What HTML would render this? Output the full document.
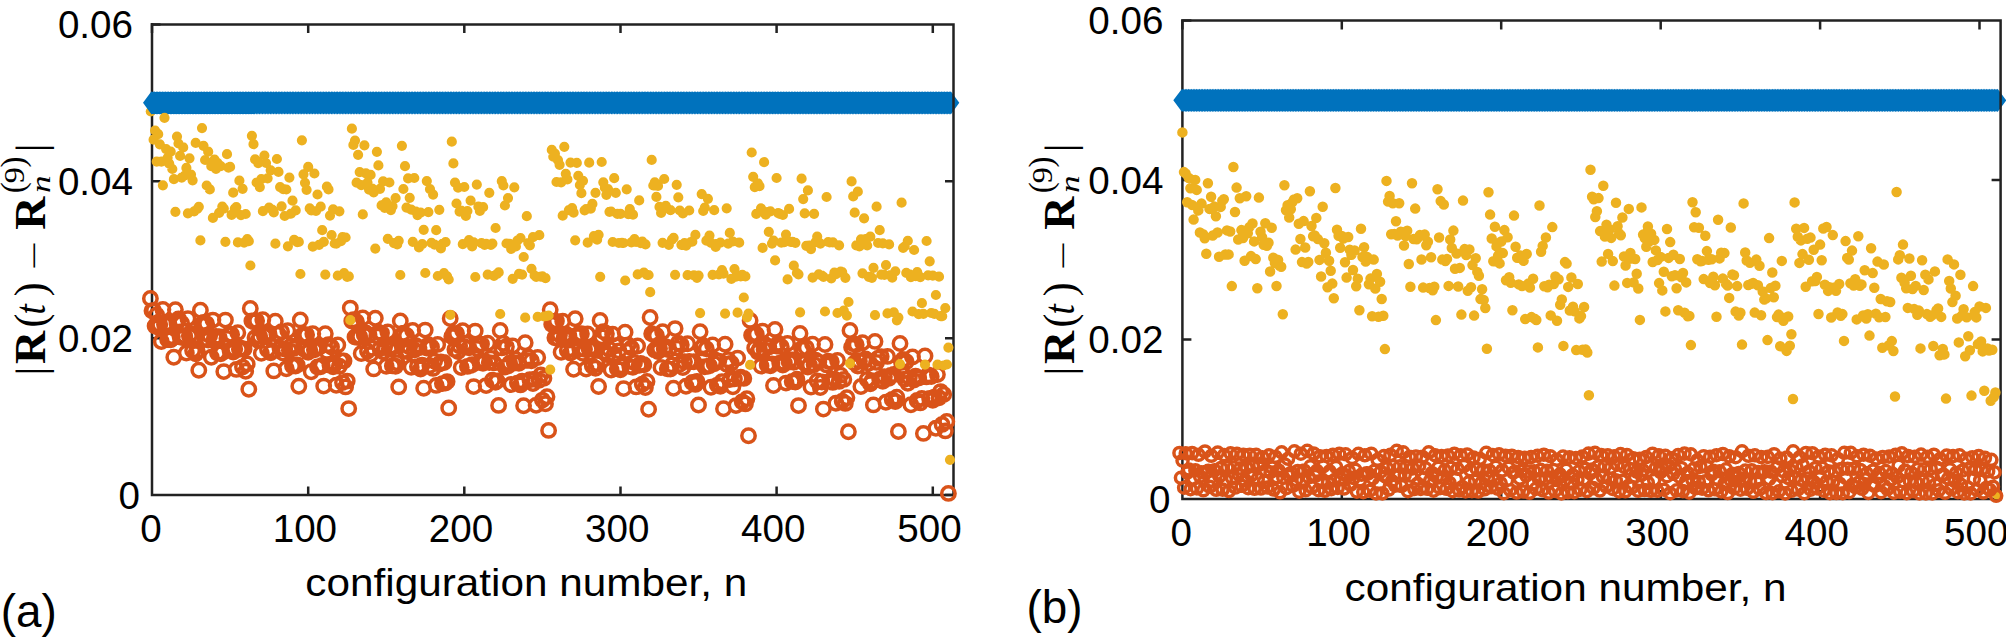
<!DOCTYPE html>
<html lang="en"><head><meta charset="utf-8"><title>Figure</title>
<style>html,body{margin:0;padding:0;background:#fff}svg{display:block}</style></head>
<body>
<svg width="2006" height="637" viewBox="0 0 2006 637"><rect width="2006" height="637" fill="#fff"/>
<path fill="none" stroke="#222222" stroke-width="2.5" d="M152 23.1V495.1H954.8M152 495.1v-8.5M308.2 495.1v-8.5M464.3 495.1v-8.5M620.5 495.1v-8.5M776.6 495.1v-8.5M932.8 495.1v-8.5M152 495.1h8.5M152 338.2h8.5M152 181.3h8.5M152 24.4h8.5"/>
<path fill="none" stroke="#EDB120" stroke-width="10.2" stroke-linecap="round" d="M150.8 111.5h0"/>
<path fill="#0072BD" d="M151.5 91.2l8.5 11.6l-8.5 11.6l-8.5 -11.6zM153.1 91.2l8.5 11.6l-8.5 11.6l-8.5 -11.6zM154.6 91.2l8.5 11.6l-8.5 11.6l-8.5 -11.6zM156.2 91.2l8.5 11.6l-8.5 11.6l-8.5 -11.6zM157.8 91.2l8.5 11.6l-8.5 11.6l-8.5 -11.6zM159.3 91.2l8.5 11.6l-8.5 11.6l-8.5 -11.6zM160.9 91.2l8.5 11.6l-8.5 11.6l-8.5 -11.6zM162.4 91.2l8.5 11.6l-8.5 11.6l-8.5 -11.6zM164 91.2l8.5 11.6l-8.5 11.6l-8.5 -11.6zM165.6 91.2l8.5 11.6l-8.5 11.6l-8.5 -11.6zM167.1 91.2l8.5 11.6l-8.5 11.6l-8.5 -11.6zM168.7 91.2l8.5 11.6l-8.5 11.6l-8.5 -11.6zM170.3 91.2l8.5 11.6l-8.5 11.6l-8.5 -11.6zM171.8 91.2l8.5 11.6l-8.5 11.6l-8.5 -11.6zM173.4 91.2l8.5 11.6l-8.5 11.6l-8.5 -11.6zM175 91.2l8.5 11.6l-8.5 11.6l-8.5 -11.6zM176.5 91.2l8.5 11.6l-8.5 11.6l-8.5 -11.6zM178.1 91.2l8.5 11.6l-8.5 11.6l-8.5 -11.6zM179.7 91.2l8.5 11.6l-8.5 11.6l-8.5 -11.6zM181.2 91.2l8.5 11.6l-8.5 11.6l-8.5 -11.6zM182.8 91.2l8.5 11.6l-8.5 11.6l-8.5 -11.6zM184.3 91.2l8.5 11.6l-8.5 11.6l-8.5 -11.6zM185.9 91.2l8.5 11.6l-8.5 11.6l-8.5 -11.6zM187.5 91.2l8.5 11.6l-8.5 11.6l-8.5 -11.6zM189 91.2l8.5 11.6l-8.5 11.6l-8.5 -11.6zM190.6 91.2l8.5 11.6l-8.5 11.6l-8.5 -11.6zM192.2 91.2l8.5 11.6l-8.5 11.6l-8.5 -11.6zM193.7 91.2l8.5 11.6l-8.5 11.6l-8.5 -11.6zM195.3 91.2l8.5 11.6l-8.5 11.6l-8.5 -11.6zM196.9 91.2l8.5 11.6l-8.5 11.6l-8.5 -11.6zM198.4 91.2l8.5 11.6l-8.5 11.6l-8.5 -11.6zM200 91.2l8.5 11.6l-8.5 11.6l-8.5 -11.6zM201.6 91.2l8.5 11.6l-8.5 11.6l-8.5 -11.6zM203.1 91.2l8.5 11.6l-8.5 11.6l-8.5 -11.6zM204.7 91.2l8.5 11.6l-8.5 11.6l-8.5 -11.6zM206.2 91.2l8.5 11.6l-8.5 11.6l-8.5 -11.6zM207.8 91.2l8.5 11.6l-8.5 11.6l-8.5 -11.6zM209.4 91.2l8.5 11.6l-8.5 11.6l-8.5 -11.6zM210.9 91.2l8.5 11.6l-8.5 11.6l-8.5 -11.6zM212.5 91.2l8.5 11.6l-8.5 11.6l-8.5 -11.6zM214.1 91.2l8.5 11.6l-8.5 11.6l-8.5 -11.6zM215.6 91.2l8.5 11.6l-8.5 11.6l-8.5 -11.6zM217.2 91.2l8.5 11.6l-8.5 11.6l-8.5 -11.6zM218.8 91.2l8.5 11.6l-8.5 11.6l-8.5 -11.6zM220.3 91.2l8.5 11.6l-8.5 11.6l-8.5 -11.6zM221.9 91.2l8.5 11.6l-8.5 11.6l-8.5 -11.6zM223.5 91.2l8.5 11.6l-8.5 11.6l-8.5 -11.6zM225 91.2l8.5 11.6l-8.5 11.6l-8.5 -11.6zM226.6 91.2l8.5 11.6l-8.5 11.6l-8.5 -11.6zM228.1 91.2l8.5 11.6l-8.5 11.6l-8.5 -11.6zM229.7 91.2l8.5 11.6l-8.5 11.6l-8.5 -11.6zM231.3 91.2l8.5 11.6l-8.5 11.6l-8.5 -11.6zM232.8 91.2l8.5 11.6l-8.5 11.6l-8.5 -11.6zM234.4 91.2l8.5 11.6l-8.5 11.6l-8.5 -11.6zM236 91.2l8.5 11.6l-8.5 11.6l-8.5 -11.6zM237.5 91.2l8.5 11.6l-8.5 11.6l-8.5 -11.6zM239.1 91.2l8.5 11.6l-8.5 11.6l-8.5 -11.6zM240.7 91.2l8.5 11.6l-8.5 11.6l-8.5 -11.6zM242.2 91.2l8.5 11.6l-8.5 11.6l-8.5 -11.6zM243.8 91.2l8.5 11.6l-8.5 11.6l-8.5 -11.6zM245.4 91.2l8.5 11.6l-8.5 11.6l-8.5 -11.6zM246.9 91.2l8.5 11.6l-8.5 11.6l-8.5 -11.6zM248.5 91.2l8.5 11.6l-8.5 11.6l-8.5 -11.6zM250 91.2l8.5 11.6l-8.5 11.6l-8.5 -11.6zM251.6 91.2l8.5 11.6l-8.5 11.6l-8.5 -11.6zM253.2 91.2l8.5 11.6l-8.5 11.6l-8.5 -11.6zM254.7 91.2l8.5 11.6l-8.5 11.6l-8.5 -11.6zM256.3 91.2l8.5 11.6l-8.5 11.6l-8.5 -11.6zM257.9 91.2l8.5 11.6l-8.5 11.6l-8.5 -11.6zM259.4 91.2l8.5 11.6l-8.5 11.6l-8.5 -11.6zM261 91.2l8.5 11.6l-8.5 11.6l-8.5 -11.6zM262.6 91.2l8.5 11.6l-8.5 11.6l-8.5 -11.6zM264.1 91.2l8.5 11.6l-8.5 11.6l-8.5 -11.6zM265.7 91.2l8.5 11.6l-8.5 11.6l-8.5 -11.6zM267.2 91.2l8.5 11.6l-8.5 11.6l-8.5 -11.6zM268.8 91.2l8.5 11.6l-8.5 11.6l-8.5 -11.6zM270.4 91.2l8.5 11.6l-8.5 11.6l-8.5 -11.6zM271.9 91.2l8.5 11.6l-8.5 11.6l-8.5 -11.6zM273.5 91.2l8.5 11.6l-8.5 11.6l-8.5 -11.6zM275.1 91.2l8.5 11.6l-8.5 11.6l-8.5 -11.6zM276.6 91.2l8.5 11.6l-8.5 11.6l-8.5 -11.6zM278.2 91.2l8.5 11.6l-8.5 11.6l-8.5 -11.6zM279.8 91.2l8.5 11.6l-8.5 11.6l-8.5 -11.6zM281.3 91.2l8.5 11.6l-8.5 11.6l-8.5 -11.6zM282.9 91.2l8.5 11.6l-8.5 11.6l-8.5 -11.6zM284.5 91.2l8.5 11.6l-8.5 11.6l-8.5 -11.6zM286 91.2l8.5 11.6l-8.5 11.6l-8.5 -11.6zM287.6 91.2l8.5 11.6l-8.5 11.6l-8.5 -11.6zM289.1 91.2l8.5 11.6l-8.5 11.6l-8.5 -11.6zM290.7 91.2l8.5 11.6l-8.5 11.6l-8.5 -11.6zM292.3 91.2l8.5 11.6l-8.5 11.6l-8.5 -11.6zM293.8 91.2l8.5 11.6l-8.5 11.6l-8.5 -11.6zM295.4 91.2l8.5 11.6l-8.5 11.6l-8.5 -11.6zM297 91.2l8.5 11.6l-8.5 11.6l-8.5 -11.6zM298.5 91.2l8.5 11.6l-8.5 11.6l-8.5 -11.6zM300.1 91.2l8.5 11.6l-8.5 11.6l-8.5 -11.6zM301.7 91.2l8.5 11.6l-8.5 11.6l-8.5 -11.6zM303.2 91.2l8.5 11.6l-8.5 11.6l-8.5 -11.6zM304.8 91.2l8.5 11.6l-8.5 11.6l-8.5 -11.6zM306.4 91.2l8.5 11.6l-8.5 11.6l-8.5 -11.6zM307.9 91.2l8.5 11.6l-8.5 11.6l-8.5 -11.6zM309.5 91.2l8.5 11.6l-8.5 11.6l-8.5 -11.6zM311 91.2l8.5 11.6l-8.5 11.6l-8.5 -11.6zM312.6 91.2l8.5 11.6l-8.5 11.6l-8.5 -11.6zM314.2 91.2l8.5 11.6l-8.5 11.6l-8.5 -11.6zM315.7 91.2l8.5 11.6l-8.5 11.6l-8.5 -11.6zM317.3 91.2l8.5 11.6l-8.5 11.6l-8.5 -11.6zM318.9 91.2l8.5 11.6l-8.5 11.6l-8.5 -11.6zM320.4 91.2l8.5 11.6l-8.5 11.6l-8.5 -11.6zM322 91.2l8.5 11.6l-8.5 11.6l-8.5 -11.6zM323.6 91.2l8.5 11.6l-8.5 11.6l-8.5 -11.6zM325.1 91.2l8.5 11.6l-8.5 11.6l-8.5 -11.6zM326.7 91.2l8.5 11.6l-8.5 11.6l-8.5 -11.6zM328.3 91.2l8.5 11.6l-8.5 11.6l-8.5 -11.6zM329.8 91.2l8.5 11.6l-8.5 11.6l-8.5 -11.6zM331.4 91.2l8.5 11.6l-8.5 11.6l-8.5 -11.6zM332.9 91.2l8.5 11.6l-8.5 11.6l-8.5 -11.6zM334.5 91.2l8.5 11.6l-8.5 11.6l-8.5 -11.6zM336.1 91.2l8.5 11.6l-8.5 11.6l-8.5 -11.6zM337.6 91.2l8.5 11.6l-8.5 11.6l-8.5 -11.6zM339.2 91.2l8.5 11.6l-8.5 11.6l-8.5 -11.6zM340.8 91.2l8.5 11.6l-8.5 11.6l-8.5 -11.6zM342.3 91.2l8.5 11.6l-8.5 11.6l-8.5 -11.6zM343.9 91.2l8.5 11.6l-8.5 11.6l-8.5 -11.6zM345.5 91.2l8.5 11.6l-8.5 11.6l-8.5 -11.6zM347 91.2l8.5 11.6l-8.5 11.6l-8.5 -11.6zM348.6 91.2l8.5 11.6l-8.5 11.6l-8.5 -11.6zM350.2 91.2l8.5 11.6l-8.5 11.6l-8.5 -11.6zM351.7 91.2l8.5 11.6l-8.5 11.6l-8.5 -11.6zM353.3 91.2l8.5 11.6l-8.5 11.6l-8.5 -11.6zM354.8 91.2l8.5 11.6l-8.5 11.6l-8.5 -11.6zM356.4 91.2l8.5 11.6l-8.5 11.6l-8.5 -11.6zM358 91.2l8.5 11.6l-8.5 11.6l-8.5 -11.6zM359.5 91.2l8.5 11.6l-8.5 11.6l-8.5 -11.6zM361.1 91.2l8.5 11.6l-8.5 11.6l-8.5 -11.6zM362.7 91.2l8.5 11.6l-8.5 11.6l-8.5 -11.6zM364.2 91.2l8.5 11.6l-8.5 11.6l-8.5 -11.6zM365.8 91.2l8.5 11.6l-8.5 11.6l-8.5 -11.6zM367.4 91.2l8.5 11.6l-8.5 11.6l-8.5 -11.6zM368.9 91.2l8.5 11.6l-8.5 11.6l-8.5 -11.6zM370.5 91.2l8.5 11.6l-8.5 11.6l-8.5 -11.6zM372.1 91.2l8.5 11.6l-8.5 11.6l-8.5 -11.6zM373.6 91.2l8.5 11.6l-8.5 11.6l-8.5 -11.6zM375.2 91.2l8.5 11.6l-8.5 11.6l-8.5 -11.6zM376.7 91.2l8.5 11.6l-8.5 11.6l-8.5 -11.6zM378.3 91.2l8.5 11.6l-8.5 11.6l-8.5 -11.6zM379.9 91.2l8.5 11.6l-8.5 11.6l-8.5 -11.6zM381.4 91.2l8.5 11.6l-8.5 11.6l-8.5 -11.6zM383 91.2l8.5 11.6l-8.5 11.6l-8.5 -11.6zM384.6 91.2l8.5 11.6l-8.5 11.6l-8.5 -11.6zM386.1 91.2l8.5 11.6l-8.5 11.6l-8.5 -11.6zM387.7 91.2l8.5 11.6l-8.5 11.6l-8.5 -11.6zM389.3 91.2l8.5 11.6l-8.5 11.6l-8.5 -11.6zM390.8 91.2l8.5 11.6l-8.5 11.6l-8.5 -11.6zM392.4 91.2l8.5 11.6l-8.5 11.6l-8.5 -11.6zM393.9 91.2l8.5 11.6l-8.5 11.6l-8.5 -11.6zM395.5 91.2l8.5 11.6l-8.5 11.6l-8.5 -11.6zM397.1 91.2l8.5 11.6l-8.5 11.6l-8.5 -11.6zM398.6 91.2l8.5 11.6l-8.5 11.6l-8.5 -11.6zM400.2 91.2l8.5 11.6l-8.5 11.6l-8.5 -11.6zM401.8 91.2l8.5 11.6l-8.5 11.6l-8.5 -11.6zM403.3 91.2l8.5 11.6l-8.5 11.6l-8.5 -11.6zM404.9 91.2l8.5 11.6l-8.5 11.6l-8.5 -11.6zM406.5 91.2l8.5 11.6l-8.5 11.6l-8.5 -11.6zM408 91.2l8.5 11.6l-8.5 11.6l-8.5 -11.6zM409.6 91.2l8.5 11.6l-8.5 11.6l-8.5 -11.6zM411.2 91.2l8.5 11.6l-8.5 11.6l-8.5 -11.6zM412.7 91.2l8.5 11.6l-8.5 11.6l-8.5 -11.6zM414.3 91.2l8.5 11.6l-8.5 11.6l-8.5 -11.6zM415.8 91.2l8.5 11.6l-8.5 11.6l-8.5 -11.6zM417.4 91.2l8.5 11.6l-8.5 11.6l-8.5 -11.6zM419 91.2l8.5 11.6l-8.5 11.6l-8.5 -11.6zM420.5 91.2l8.5 11.6l-8.5 11.6l-8.5 -11.6zM422.1 91.2l8.5 11.6l-8.5 11.6l-8.5 -11.6zM423.7 91.2l8.5 11.6l-8.5 11.6l-8.5 -11.6zM425.2 91.2l8.5 11.6l-8.5 11.6l-8.5 -11.6zM426.8 91.2l8.5 11.6l-8.5 11.6l-8.5 -11.6zM428.4 91.2l8.5 11.6l-8.5 11.6l-8.5 -11.6zM429.9 91.2l8.5 11.6l-8.5 11.6l-8.5 -11.6zM431.5 91.2l8.5 11.6l-8.5 11.6l-8.5 -11.6zM433.1 91.2l8.5 11.6l-8.5 11.6l-8.5 -11.6zM434.6 91.2l8.5 11.6l-8.5 11.6l-8.5 -11.6zM436.2 91.2l8.5 11.6l-8.5 11.6l-8.5 -11.6zM437.7 91.2l8.5 11.6l-8.5 11.6l-8.5 -11.6zM439.3 91.2l8.5 11.6l-8.5 11.6l-8.5 -11.6zM440.9 91.2l8.5 11.6l-8.5 11.6l-8.5 -11.6zM442.4 91.2l8.5 11.6l-8.5 11.6l-8.5 -11.6zM444 91.2l8.5 11.6l-8.5 11.6l-8.5 -11.6zM445.6 91.2l8.5 11.6l-8.5 11.6l-8.5 -11.6zM447.1 91.2l8.5 11.6l-8.5 11.6l-8.5 -11.6zM448.7 91.2l8.5 11.6l-8.5 11.6l-8.5 -11.6zM450.3 91.2l8.5 11.6l-8.5 11.6l-8.5 -11.6zM451.8 91.2l8.5 11.6l-8.5 11.6l-8.5 -11.6zM453.4 91.2l8.5 11.6l-8.5 11.6l-8.5 -11.6zM455 91.2l8.5 11.6l-8.5 11.6l-8.5 -11.6zM456.5 91.2l8.5 11.6l-8.5 11.6l-8.5 -11.6zM458.1 91.2l8.5 11.6l-8.5 11.6l-8.5 -11.6zM459.6 91.2l8.5 11.6l-8.5 11.6l-8.5 -11.6zM461.2 91.2l8.5 11.6l-8.5 11.6l-8.5 -11.6zM462.8 91.2l8.5 11.6l-8.5 11.6l-8.5 -11.6zM464.3 91.2l8.5 11.6l-8.5 11.6l-8.5 -11.6zM465.9 91.2l8.5 11.6l-8.5 11.6l-8.5 -11.6zM467.5 91.2l8.5 11.6l-8.5 11.6l-8.5 -11.6zM469 91.2l8.5 11.6l-8.5 11.6l-8.5 -11.6zM470.6 91.2l8.5 11.6l-8.5 11.6l-8.5 -11.6zM472.2 91.2l8.5 11.6l-8.5 11.6l-8.5 -11.6zM473.7 91.2l8.5 11.6l-8.5 11.6l-8.5 -11.6zM475.3 91.2l8.5 11.6l-8.5 11.6l-8.5 -11.6zM476.9 91.2l8.5 11.6l-8.5 11.6l-8.5 -11.6zM478.4 91.2l8.5 11.6l-8.5 11.6l-8.5 -11.6zM480 91.2l8.5 11.6l-8.5 11.6l-8.5 -11.6zM481.5 91.2l8.5 11.6l-8.5 11.6l-8.5 -11.6zM483.1 91.2l8.5 11.6l-8.5 11.6l-8.5 -11.6zM484.7 91.2l8.5 11.6l-8.5 11.6l-8.5 -11.6zM486.2 91.2l8.5 11.6l-8.5 11.6l-8.5 -11.6zM487.8 91.2l8.5 11.6l-8.5 11.6l-8.5 -11.6zM489.4 91.2l8.5 11.6l-8.5 11.6l-8.5 -11.6zM490.9 91.2l8.5 11.6l-8.5 11.6l-8.5 -11.6zM492.5 91.2l8.5 11.6l-8.5 11.6l-8.5 -11.6zM494.1 91.2l8.5 11.6l-8.5 11.6l-8.5 -11.6zM495.6 91.2l8.5 11.6l-8.5 11.6l-8.5 -11.6zM497.2 91.2l8.5 11.6l-8.5 11.6l-8.5 -11.6zM498.7 91.2l8.5 11.6l-8.5 11.6l-8.5 -11.6zM500.3 91.2l8.5 11.6l-8.5 11.6l-8.5 -11.6zM501.9 91.2l8.5 11.6l-8.5 11.6l-8.5 -11.6zM503.4 91.2l8.5 11.6l-8.5 11.6l-8.5 -11.6zM505 91.2l8.5 11.6l-8.5 11.6l-8.5 -11.6zM506.6 91.2l8.5 11.6l-8.5 11.6l-8.5 -11.6zM508.1 91.2l8.5 11.6l-8.5 11.6l-8.5 -11.6zM509.7 91.2l8.5 11.6l-8.5 11.6l-8.5 -11.6zM511.3 91.2l8.5 11.6l-8.5 11.6l-8.5 -11.6zM512.8 91.2l8.5 11.6l-8.5 11.6l-8.5 -11.6zM514.4 91.2l8.5 11.6l-8.5 11.6l-8.5 -11.6zM516 91.2l8.5 11.6l-8.5 11.6l-8.5 -11.6zM517.5 91.2l8.5 11.6l-8.5 11.6l-8.5 -11.6zM519.1 91.2l8.5 11.6l-8.5 11.6l-8.5 -11.6zM520.6 91.2l8.5 11.6l-8.5 11.6l-8.5 -11.6zM522.2 91.2l8.5 11.6l-8.5 11.6l-8.5 -11.6zM523.8 91.2l8.5 11.6l-8.5 11.6l-8.5 -11.6zM525.3 91.2l8.5 11.6l-8.5 11.6l-8.5 -11.6zM526.9 91.2l8.5 11.6l-8.5 11.6l-8.5 -11.6zM528.5 91.2l8.5 11.6l-8.5 11.6l-8.5 -11.6zM530 91.2l8.5 11.6l-8.5 11.6l-8.5 -11.6zM531.6 91.2l8.5 11.6l-8.5 11.6l-8.5 -11.6zM533.2 91.2l8.5 11.6l-8.5 11.6l-8.5 -11.6zM534.7 91.2l8.5 11.6l-8.5 11.6l-8.5 -11.6zM536.3 91.2l8.5 11.6l-8.5 11.6l-8.5 -11.6zM537.9 91.2l8.5 11.6l-8.5 11.6l-8.5 -11.6zM539.4 91.2l8.5 11.6l-8.5 11.6l-8.5 -11.6zM541 91.2l8.5 11.6l-8.5 11.6l-8.5 -11.6zM542.5 91.2l8.5 11.6l-8.5 11.6l-8.5 -11.6zM544.1 91.2l8.5 11.6l-8.5 11.6l-8.5 -11.6zM545.7 91.2l8.5 11.6l-8.5 11.6l-8.5 -11.6zM547.2 91.2l8.5 11.6l-8.5 11.6l-8.5 -11.6zM548.8 91.2l8.5 11.6l-8.5 11.6l-8.5 -11.6zM550.4 91.2l8.5 11.6l-8.5 11.6l-8.5 -11.6zM551.9 91.2l8.5 11.6l-8.5 11.6l-8.5 -11.6zM553.5 91.2l8.5 11.6l-8.5 11.6l-8.5 -11.6zM555.1 91.2l8.5 11.6l-8.5 11.6l-8.5 -11.6zM556.6 91.2l8.5 11.6l-8.5 11.6l-8.5 -11.6zM558.2 91.2l8.5 11.6l-8.5 11.6l-8.5 -11.6zM559.8 91.2l8.5 11.6l-8.5 11.6l-8.5 -11.6zM561.3 91.2l8.5 11.6l-8.5 11.6l-8.5 -11.6zM562.9 91.2l8.5 11.6l-8.5 11.6l-8.5 -11.6zM564.4 91.2l8.5 11.6l-8.5 11.6l-8.5 -11.6zM566 91.2l8.5 11.6l-8.5 11.6l-8.5 -11.6zM567.6 91.2l8.5 11.6l-8.5 11.6l-8.5 -11.6zM569.1 91.2l8.5 11.6l-8.5 11.6l-8.5 -11.6zM570.7 91.2l8.5 11.6l-8.5 11.6l-8.5 -11.6zM572.3 91.2l8.5 11.6l-8.5 11.6l-8.5 -11.6zM573.8 91.2l8.5 11.6l-8.5 11.6l-8.5 -11.6zM575.4 91.2l8.5 11.6l-8.5 11.6l-8.5 -11.6zM577 91.2l8.5 11.6l-8.5 11.6l-8.5 -11.6zM578.5 91.2l8.5 11.6l-8.5 11.6l-8.5 -11.6zM580.1 91.2l8.5 11.6l-8.5 11.6l-8.5 -11.6zM581.7 91.2l8.5 11.6l-8.5 11.6l-8.5 -11.6zM583.2 91.2l8.5 11.6l-8.5 11.6l-8.5 -11.6zM584.8 91.2l8.5 11.6l-8.5 11.6l-8.5 -11.6zM586.3 91.2l8.5 11.6l-8.5 11.6l-8.5 -11.6zM587.9 91.2l8.5 11.6l-8.5 11.6l-8.5 -11.6zM589.5 91.2l8.5 11.6l-8.5 11.6l-8.5 -11.6zM591 91.2l8.5 11.6l-8.5 11.6l-8.5 -11.6zM592.6 91.2l8.5 11.6l-8.5 11.6l-8.5 -11.6zM594.2 91.2l8.5 11.6l-8.5 11.6l-8.5 -11.6zM595.7 91.2l8.5 11.6l-8.5 11.6l-8.5 -11.6zM597.3 91.2l8.5 11.6l-8.5 11.6l-8.5 -11.6zM598.9 91.2l8.5 11.6l-8.5 11.6l-8.5 -11.6zM600.4 91.2l8.5 11.6l-8.5 11.6l-8.5 -11.6zM602 91.2l8.5 11.6l-8.5 11.6l-8.5 -11.6zM603.6 91.2l8.5 11.6l-8.5 11.6l-8.5 -11.6zM605.1 91.2l8.5 11.6l-8.5 11.6l-8.5 -11.6zM606.7 91.2l8.5 11.6l-8.5 11.6l-8.5 -11.6zM608.2 91.2l8.5 11.6l-8.5 11.6l-8.5 -11.6zM609.8 91.2l8.5 11.6l-8.5 11.6l-8.5 -11.6zM611.4 91.2l8.5 11.6l-8.5 11.6l-8.5 -11.6zM612.9 91.2l8.5 11.6l-8.5 11.6l-8.5 -11.6zM614.5 91.2l8.5 11.6l-8.5 11.6l-8.5 -11.6zM616.1 91.2l8.5 11.6l-8.5 11.6l-8.5 -11.6zM617.6 91.2l8.5 11.6l-8.5 11.6l-8.5 -11.6zM619.2 91.2l8.5 11.6l-8.5 11.6l-8.5 -11.6zM620.8 91.2l8.5 11.6l-8.5 11.6l-8.5 -11.6zM622.3 91.2l8.5 11.6l-8.5 11.6l-8.5 -11.6zM623.9 91.2l8.5 11.6l-8.5 11.6l-8.5 -11.6zM625.4 91.2l8.5 11.6l-8.5 11.6l-8.5 -11.6zM627 91.2l8.5 11.6l-8.5 11.6l-8.5 -11.6zM628.6 91.2l8.5 11.6l-8.5 11.6l-8.5 -11.6zM630.1 91.2l8.5 11.6l-8.5 11.6l-8.5 -11.6zM631.7 91.2l8.5 11.6l-8.5 11.6l-8.5 -11.6zM633.3 91.2l8.5 11.6l-8.5 11.6l-8.5 -11.6zM634.8 91.2l8.5 11.6l-8.5 11.6l-8.5 -11.6zM636.4 91.2l8.5 11.6l-8.5 11.6l-8.5 -11.6zM638 91.2l8.5 11.6l-8.5 11.6l-8.5 -11.6zM639.5 91.2l8.5 11.6l-8.5 11.6l-8.5 -11.6zM641.1 91.2l8.5 11.6l-8.5 11.6l-8.5 -11.6zM642.7 91.2l8.5 11.6l-8.5 11.6l-8.5 -11.6zM644.2 91.2l8.5 11.6l-8.5 11.6l-8.5 -11.6zM645.8 91.2l8.5 11.6l-8.5 11.6l-8.5 -11.6zM647.3 91.2l8.5 11.6l-8.5 11.6l-8.5 -11.6zM648.9 91.2l8.5 11.6l-8.5 11.6l-8.5 -11.6zM650.5 91.2l8.5 11.6l-8.5 11.6l-8.5 -11.6zM652 91.2l8.5 11.6l-8.5 11.6l-8.5 -11.6zM653.6 91.2l8.5 11.6l-8.5 11.6l-8.5 -11.6zM655.2 91.2l8.5 11.6l-8.5 11.6l-8.5 -11.6zM656.7 91.2l8.5 11.6l-8.5 11.6l-8.5 -11.6zM658.3 91.2l8.5 11.6l-8.5 11.6l-8.5 -11.6zM659.9 91.2l8.5 11.6l-8.5 11.6l-8.5 -11.6zM661.4 91.2l8.5 11.6l-8.5 11.6l-8.5 -11.6zM663 91.2l8.5 11.6l-8.5 11.6l-8.5 -11.6zM664.6 91.2l8.5 11.6l-8.5 11.6l-8.5 -11.6zM666.1 91.2l8.5 11.6l-8.5 11.6l-8.5 -11.6zM667.7 91.2l8.5 11.6l-8.5 11.6l-8.5 -11.6zM669.2 91.2l8.5 11.6l-8.5 11.6l-8.5 -11.6zM670.8 91.2l8.5 11.6l-8.5 11.6l-8.5 -11.6zM672.4 91.2l8.5 11.6l-8.5 11.6l-8.5 -11.6zM673.9 91.2l8.5 11.6l-8.5 11.6l-8.5 -11.6zM675.5 91.2l8.5 11.6l-8.5 11.6l-8.5 -11.6zM677.1 91.2l8.5 11.6l-8.5 11.6l-8.5 -11.6zM678.6 91.2l8.5 11.6l-8.5 11.6l-8.5 -11.6zM680.2 91.2l8.5 11.6l-8.5 11.6l-8.5 -11.6zM681.8 91.2l8.5 11.6l-8.5 11.6l-8.5 -11.6zM683.3 91.2l8.5 11.6l-8.5 11.6l-8.5 -11.6zM684.9 91.2l8.5 11.6l-8.5 11.6l-8.5 -11.6zM686.5 91.2l8.5 11.6l-8.5 11.6l-8.5 -11.6zM688 91.2l8.5 11.6l-8.5 11.6l-8.5 -11.6zM689.6 91.2l8.5 11.6l-8.5 11.6l-8.5 -11.6zM691.1 91.2l8.5 11.6l-8.5 11.6l-8.5 -11.6zM692.7 91.2l8.5 11.6l-8.5 11.6l-8.5 -11.6zM694.3 91.2l8.5 11.6l-8.5 11.6l-8.5 -11.6zM695.8 91.2l8.5 11.6l-8.5 11.6l-8.5 -11.6zM697.4 91.2l8.5 11.6l-8.5 11.6l-8.5 -11.6zM699 91.2l8.5 11.6l-8.5 11.6l-8.5 -11.6zM700.5 91.2l8.5 11.6l-8.5 11.6l-8.5 -11.6zM702.1 91.2l8.5 11.6l-8.5 11.6l-8.5 -11.6zM703.7 91.2l8.5 11.6l-8.5 11.6l-8.5 -11.6zM705.2 91.2l8.5 11.6l-8.5 11.6l-8.5 -11.6zM706.8 91.2l8.5 11.6l-8.5 11.6l-8.5 -11.6zM708.4 91.2l8.5 11.6l-8.5 11.6l-8.5 -11.6zM709.9 91.2l8.5 11.6l-8.5 11.6l-8.5 -11.6zM711.5 91.2l8.5 11.6l-8.5 11.6l-8.5 -11.6zM713 91.2l8.5 11.6l-8.5 11.6l-8.5 -11.6zM714.6 91.2l8.5 11.6l-8.5 11.6l-8.5 -11.6zM716.2 91.2l8.5 11.6l-8.5 11.6l-8.5 -11.6zM717.7 91.2l8.5 11.6l-8.5 11.6l-8.5 -11.6zM719.3 91.2l8.5 11.6l-8.5 11.6l-8.5 -11.6zM720.9 91.2l8.5 11.6l-8.5 11.6l-8.5 -11.6zM722.4 91.2l8.5 11.6l-8.5 11.6l-8.5 -11.6zM724 91.2l8.5 11.6l-8.5 11.6l-8.5 -11.6zM725.6 91.2l8.5 11.6l-8.5 11.6l-8.5 -11.6zM727.1 91.2l8.5 11.6l-8.5 11.6l-8.5 -11.6zM728.7 91.2l8.5 11.6l-8.5 11.6l-8.5 -11.6zM730.2 91.2l8.5 11.6l-8.5 11.6l-8.5 -11.6zM731.8 91.2l8.5 11.6l-8.5 11.6l-8.5 -11.6zM733.4 91.2l8.5 11.6l-8.5 11.6l-8.5 -11.6zM734.9 91.2l8.5 11.6l-8.5 11.6l-8.5 -11.6zM736.5 91.2l8.5 11.6l-8.5 11.6l-8.5 -11.6zM738.1 91.2l8.5 11.6l-8.5 11.6l-8.5 -11.6zM739.6 91.2l8.5 11.6l-8.5 11.6l-8.5 -11.6zM741.2 91.2l8.5 11.6l-8.5 11.6l-8.5 -11.6zM742.8 91.2l8.5 11.6l-8.5 11.6l-8.5 -11.6zM744.3 91.2l8.5 11.6l-8.5 11.6l-8.5 -11.6zM745.9 91.2l8.5 11.6l-8.5 11.6l-8.5 -11.6zM747.5 91.2l8.5 11.6l-8.5 11.6l-8.5 -11.6zM749 91.2l8.5 11.6l-8.5 11.6l-8.5 -11.6zM750.6 91.2l8.5 11.6l-8.5 11.6l-8.5 -11.6zM752.1 91.2l8.5 11.6l-8.5 11.6l-8.5 -11.6zM753.7 91.2l8.5 11.6l-8.5 11.6l-8.5 -11.6zM755.3 91.2l8.5 11.6l-8.5 11.6l-8.5 -11.6zM756.8 91.2l8.5 11.6l-8.5 11.6l-8.5 -11.6zM758.4 91.2l8.5 11.6l-8.5 11.6l-8.5 -11.6zM760 91.2l8.5 11.6l-8.5 11.6l-8.5 -11.6zM761.5 91.2l8.5 11.6l-8.5 11.6l-8.5 -11.6zM763.1 91.2l8.5 11.6l-8.5 11.6l-8.5 -11.6zM764.7 91.2l8.5 11.6l-8.5 11.6l-8.5 -11.6zM766.2 91.2l8.5 11.6l-8.5 11.6l-8.5 -11.6zM767.8 91.2l8.5 11.6l-8.5 11.6l-8.5 -11.6zM769.4 91.2l8.5 11.6l-8.5 11.6l-8.5 -11.6zM770.9 91.2l8.5 11.6l-8.5 11.6l-8.5 -11.6zM772.5 91.2l8.5 11.6l-8.5 11.6l-8.5 -11.6zM774 91.2l8.5 11.6l-8.5 11.6l-8.5 -11.6zM775.6 91.2l8.5 11.6l-8.5 11.6l-8.5 -11.6zM777.2 91.2l8.5 11.6l-8.5 11.6l-8.5 -11.6zM778.7 91.2l8.5 11.6l-8.5 11.6l-8.5 -11.6zM780.3 91.2l8.5 11.6l-8.5 11.6l-8.5 -11.6zM781.9 91.2l8.5 11.6l-8.5 11.6l-8.5 -11.6zM783.4 91.2l8.5 11.6l-8.5 11.6l-8.5 -11.6zM785 91.2l8.5 11.6l-8.5 11.6l-8.5 -11.6zM786.6 91.2l8.5 11.6l-8.5 11.6l-8.5 -11.6zM788.1 91.2l8.5 11.6l-8.5 11.6l-8.5 -11.6zM789.7 91.2l8.5 11.6l-8.5 11.6l-8.5 -11.6zM791.3 91.2l8.5 11.6l-8.5 11.6l-8.5 -11.6zM792.8 91.2l8.5 11.6l-8.5 11.6l-8.5 -11.6zM794.4 91.2l8.5 11.6l-8.5 11.6l-8.5 -11.6zM795.9 91.2l8.5 11.6l-8.5 11.6l-8.5 -11.6zM797.5 91.2l8.5 11.6l-8.5 11.6l-8.5 -11.6zM799.1 91.2l8.5 11.6l-8.5 11.6l-8.5 -11.6zM800.6 91.2l8.5 11.6l-8.5 11.6l-8.5 -11.6zM802.2 91.2l8.5 11.6l-8.5 11.6l-8.5 -11.6zM803.8 91.2l8.5 11.6l-8.5 11.6l-8.5 -11.6zM805.3 91.2l8.5 11.6l-8.5 11.6l-8.5 -11.6zM806.9 91.2l8.5 11.6l-8.5 11.6l-8.5 -11.6zM808.5 91.2l8.5 11.6l-8.5 11.6l-8.5 -11.6zM810 91.2l8.5 11.6l-8.5 11.6l-8.5 -11.6zM811.6 91.2l8.5 11.6l-8.5 11.6l-8.5 -11.6zM813.2 91.2l8.5 11.6l-8.5 11.6l-8.5 -11.6zM814.7 91.2l8.5 11.6l-8.5 11.6l-8.5 -11.6zM816.3 91.2l8.5 11.6l-8.5 11.6l-8.5 -11.6zM817.8 91.2l8.5 11.6l-8.5 11.6l-8.5 -11.6zM819.4 91.2l8.5 11.6l-8.5 11.6l-8.5 -11.6zM821 91.2l8.5 11.6l-8.5 11.6l-8.5 -11.6zM822.5 91.2l8.5 11.6l-8.5 11.6l-8.5 -11.6zM824.1 91.2l8.5 11.6l-8.5 11.6l-8.5 -11.6zM825.7 91.2l8.5 11.6l-8.5 11.6l-8.5 -11.6zM827.2 91.2l8.5 11.6l-8.5 11.6l-8.5 -11.6zM828.8 91.2l8.5 11.6l-8.5 11.6l-8.5 -11.6zM830.4 91.2l8.5 11.6l-8.5 11.6l-8.5 -11.6zM831.9 91.2l8.5 11.6l-8.5 11.6l-8.5 -11.6zM833.5 91.2l8.5 11.6l-8.5 11.6l-8.5 -11.6zM835.1 91.2l8.5 11.6l-8.5 11.6l-8.5 -11.6zM836.6 91.2l8.5 11.6l-8.5 11.6l-8.5 -11.6zM838.2 91.2l8.5 11.6l-8.5 11.6l-8.5 -11.6zM839.7 91.2l8.5 11.6l-8.5 11.6l-8.5 -11.6zM841.3 91.2l8.5 11.6l-8.5 11.6l-8.5 -11.6zM842.9 91.2l8.5 11.6l-8.5 11.6l-8.5 -11.6zM844.4 91.2l8.5 11.6l-8.5 11.6l-8.5 -11.6zM846 91.2l8.5 11.6l-8.5 11.6l-8.5 -11.6zM847.6 91.2l8.5 11.6l-8.5 11.6l-8.5 -11.6zM849.1 91.2l8.5 11.6l-8.5 11.6l-8.5 -11.6zM850.7 91.2l8.5 11.6l-8.5 11.6l-8.5 -11.6zM852.3 91.2l8.5 11.6l-8.5 11.6l-8.5 -11.6zM853.8 91.2l8.5 11.6l-8.5 11.6l-8.5 -11.6zM855.4 91.2l8.5 11.6l-8.5 11.6l-8.5 -11.6zM856.9 91.2l8.5 11.6l-8.5 11.6l-8.5 -11.6zM858.5 91.2l8.5 11.6l-8.5 11.6l-8.5 -11.6zM860.1 91.2l8.5 11.6l-8.5 11.6l-8.5 -11.6zM861.6 91.2l8.5 11.6l-8.5 11.6l-8.5 -11.6zM863.2 91.2l8.5 11.6l-8.5 11.6l-8.5 -11.6zM864.8 91.2l8.5 11.6l-8.5 11.6l-8.5 -11.6zM866.3 91.2l8.5 11.6l-8.5 11.6l-8.5 -11.6zM867.9 91.2l8.5 11.6l-8.5 11.6l-8.5 -11.6zM869.5 91.2l8.5 11.6l-8.5 11.6l-8.5 -11.6zM871 91.2l8.5 11.6l-8.5 11.6l-8.5 -11.6zM872.6 91.2l8.5 11.6l-8.5 11.6l-8.5 -11.6zM874.2 91.2l8.5 11.6l-8.5 11.6l-8.5 -11.6zM875.7 91.2l8.5 11.6l-8.5 11.6l-8.5 -11.6zM877.3 91.2l8.5 11.6l-8.5 11.6l-8.5 -11.6zM878.8 91.2l8.5 11.6l-8.5 11.6l-8.5 -11.6zM880.4 91.2l8.5 11.6l-8.5 11.6l-8.5 -11.6zM882 91.2l8.5 11.6l-8.5 11.6l-8.5 -11.6zM883.5 91.2l8.5 11.6l-8.5 11.6l-8.5 -11.6zM885.1 91.2l8.5 11.6l-8.5 11.6l-8.5 -11.6zM886.7 91.2l8.5 11.6l-8.5 11.6l-8.5 -11.6zM888.2 91.2l8.5 11.6l-8.5 11.6l-8.5 -11.6zM889.8 91.2l8.5 11.6l-8.5 11.6l-8.5 -11.6zM891.4 91.2l8.5 11.6l-8.5 11.6l-8.5 -11.6zM892.9 91.2l8.5 11.6l-8.5 11.6l-8.5 -11.6zM894.5 91.2l8.5 11.6l-8.5 11.6l-8.5 -11.6zM896.1 91.2l8.5 11.6l-8.5 11.6l-8.5 -11.6zM897.6 91.2l8.5 11.6l-8.5 11.6l-8.5 -11.6zM899.2 91.2l8.5 11.6l-8.5 11.6l-8.5 -11.6zM900.7 91.2l8.5 11.6l-8.5 11.6l-8.5 -11.6zM902.3 91.2l8.5 11.6l-8.5 11.6l-8.5 -11.6zM903.9 91.2l8.5 11.6l-8.5 11.6l-8.5 -11.6zM905.4 91.2l8.5 11.6l-8.5 11.6l-8.5 -11.6zM907 91.2l8.5 11.6l-8.5 11.6l-8.5 -11.6zM908.6 91.2l8.5 11.6l-8.5 11.6l-8.5 -11.6zM910.1 91.2l8.5 11.6l-8.5 11.6l-8.5 -11.6zM911.7 91.2l8.5 11.6l-8.5 11.6l-8.5 -11.6zM913.3 91.2l8.5 11.6l-8.5 11.6l-8.5 -11.6zM914.8 91.2l8.5 11.6l-8.5 11.6l-8.5 -11.6zM916.4 91.2l8.5 11.6l-8.5 11.6l-8.5 -11.6zM918 91.2l8.5 11.6l-8.5 11.6l-8.5 -11.6zM919.5 91.2l8.5 11.6l-8.5 11.6l-8.5 -11.6zM921.1 91.2l8.5 11.6l-8.5 11.6l-8.5 -11.6zM922.6 91.2l8.5 11.6l-8.5 11.6l-8.5 -11.6zM924.2 91.2l8.5 11.6l-8.5 11.6l-8.5 -11.6zM925.8 91.2l8.5 11.6l-8.5 11.6l-8.5 -11.6zM927.3 91.2l8.5 11.6l-8.5 11.6l-8.5 -11.6zM928.9 91.2l8.5 11.6l-8.5 11.6l-8.5 -11.6zM930.5 91.2l8.5 11.6l-8.5 11.6l-8.5 -11.6zM932 91.2l8.5 11.6l-8.5 11.6l-8.5 -11.6zM933.6 91.2l8.5 11.6l-8.5 11.6l-8.5 -11.6zM935.2 91.2l8.5 11.6l-8.5 11.6l-8.5 -11.6zM936.7 91.2l8.5 11.6l-8.5 11.6l-8.5 -11.6zM938.3 91.2l8.5 11.6l-8.5 11.6l-8.5 -11.6zM939.9 91.2l8.5 11.6l-8.5 11.6l-8.5 -11.6zM941.4 91.2l8.5 11.6l-8.5 11.6l-8.5 -11.6zM943 91.2l8.5 11.6l-8.5 11.6l-8.5 -11.6zM944.5 91.2l8.5 11.6l-8.5 11.6l-8.5 -11.6zM946.1 91.2l8.5 11.6l-8.5 11.6l-8.5 -11.6zM947.7 91.2l8.5 11.6l-8.5 11.6l-8.5 -11.6zM949.2 91.2l8.5 11.6l-8.5 11.6l-8.5 -11.6zM950.8 91.2l8.5 11.6l-8.5 11.6l-8.5 -11.6z"/>
<path fill="none" stroke="#222222" stroke-width="2.5" d="M150.8 24.4H953.5V496.4M152 24.4v8.5M308.2 24.4v8.5M464.3 24.4v8.5M620.5 24.4v8.5M776.6 24.4v8.5M932.8 24.4v8.5M953.5 495.1h-8.5M953.5 338.2h-8.5M953.5 181.3h-8.5M953.5 24.4h-8.5"/>
<path fill="none" stroke="#D95319" stroke-width="3.5" d="M143.7 298.5a6.7 6.7 0 1 0 13.4 0a6.7 6.7 0 1 0 -13.4 0zM145.3 310.7a6.7 6.7 0 1 0 13.4 0a6.7 6.7 0 1 0 -13.4 0zM146.8 310.5a6.7 6.7 0 1 0 13.4 0a6.7 6.7 0 1 0 -13.4 0zM148.4 326a6.7 6.7 0 1 0 13.4 0a6.7 6.7 0 1 0 -13.4 0zM149.9 314.9a6.7 6.7 0 1 0 13.4 0a6.7 6.7 0 1 0 -13.4 0zM151.5 327.2a6.7 6.7 0 1 0 13.4 0a6.7 6.7 0 1 0 -13.4 0zM153.1 324.7a6.7 6.7 0 1 0 13.4 0a6.7 6.7 0 1 0 -13.4 0zM154.6 341.6a6.7 6.7 0 1 0 13.4 0a6.7 6.7 0 1 0 -13.4 0zM156.2 309.4a6.7 6.7 0 1 0 13.4 0a6.7 6.7 0 1 0 -13.4 0zM157.8 324.5a6.7 6.7 0 1 0 13.4 0a6.7 6.7 0 1 0 -13.4 0zM159.3 323.4a6.7 6.7 0 1 0 13.4 0a6.7 6.7 0 1 0 -13.4 0zM160.9 339.6a6.7 6.7 0 1 0 13.4 0a6.7 6.7 0 1 0 -13.4 0zM162.4 324.5a6.7 6.7 0 1 0 13.4 0a6.7 6.7 0 1 0 -13.4 0zM164 339.8a6.7 6.7 0 1 0 13.4 0a6.7 6.7 0 1 0 -13.4 0zM165.6 336.8a6.7 6.7 0 1 0 13.4 0a6.7 6.7 0 1 0 -13.4 0zM167.1 357.2a6.7 6.7 0 1 0 13.4 0a6.7 6.7 0 1 0 -13.4 0zM168.7 309.8a6.7 6.7 0 1 0 13.4 0a6.7 6.7 0 1 0 -13.4 0zM170.2 322.7a6.7 6.7 0 1 0 13.4 0a6.7 6.7 0 1 0 -13.4 0zM171.8 318.9a6.7 6.7 0 1 0 13.4 0a6.7 6.7 0 1 0 -13.4 0zM173.4 337.1a6.7 6.7 0 1 0 13.4 0a6.7 6.7 0 1 0 -13.4 0zM174.9 323.3a6.7 6.7 0 1 0 13.4 0a6.7 6.7 0 1 0 -13.4 0zM176.5 337.7a6.7 6.7 0 1 0 13.4 0a6.7 6.7 0 1 0 -13.4 0zM178.1 336.2a6.7 6.7 0 1 0 13.4 0a6.7 6.7 0 1 0 -13.4 0zM179.6 353a6.7 6.7 0 1 0 13.4 0a6.7 6.7 0 1 0 -13.4 0zM181.2 318.6a6.7 6.7 0 1 0 13.4 0a6.7 6.7 0 1 0 -13.4 0zM182.7 335.9a6.7 6.7 0 1 0 13.4 0a6.7 6.7 0 1 0 -13.4 0zM184.3 333.5a6.7 6.7 0 1 0 13.4 0a6.7 6.7 0 1 0 -13.4 0zM185.9 350.4a6.7 6.7 0 1 0 13.4 0a6.7 6.7 0 1 0 -13.4 0zM187.4 336.2a6.7 6.7 0 1 0 13.4 0a6.7 6.7 0 1 0 -13.4 0zM189 353.7a6.7 6.7 0 1 0 13.4 0a6.7 6.7 0 1 0 -13.4 0zM190.5 350.7a6.7 6.7 0 1 0 13.4 0a6.7 6.7 0 1 0 -13.4 0zM192.1 370.3a6.7 6.7 0 1 0 13.4 0a6.7 6.7 0 1 0 -13.4 0zM193.7 310.2a6.7 6.7 0 1 0 13.4 0a6.7 6.7 0 1 0 -13.4 0zM195.2 325.1a6.7 6.7 0 1 0 13.4 0a6.7 6.7 0 1 0 -13.4 0zM196.8 322.4a6.7 6.7 0 1 0 13.4 0a6.7 6.7 0 1 0 -13.4 0zM198.4 338.3a6.7 6.7 0 1 0 13.4 0a6.7 6.7 0 1 0 -13.4 0zM199.9 323.7a6.7 6.7 0 1 0 13.4 0a6.7 6.7 0 1 0 -13.4 0zM201.5 340a6.7 6.7 0 1 0 13.4 0a6.7 6.7 0 1 0 -13.4 0zM203 335.6a6.7 6.7 0 1 0 13.4 0a6.7 6.7 0 1 0 -13.4 0zM204.6 357.2a6.7 6.7 0 1 0 13.4 0a6.7 6.7 0 1 0 -13.4 0zM206.2 320.1a6.7 6.7 0 1 0 13.4 0a6.7 6.7 0 1 0 -13.4 0zM207.7 338.3a6.7 6.7 0 1 0 13.4 0a6.7 6.7 0 1 0 -13.4 0zM209.3 336.4a6.7 6.7 0 1 0 13.4 0a6.7 6.7 0 1 0 -13.4 0zM210.8 353a6.7 6.7 0 1 0 13.4 0a6.7 6.7 0 1 0 -13.4 0zM212.4 336.7a6.7 6.7 0 1 0 13.4 0a6.7 6.7 0 1 0 -13.4 0zM214 353.7a6.7 6.7 0 1 0 13.4 0a6.7 6.7 0 1 0 -13.4 0zM215.5 352.8a6.7 6.7 0 1 0 13.4 0a6.7 6.7 0 1 0 -13.4 0zM217.1 371.6a6.7 6.7 0 1 0 13.4 0a6.7 6.7 0 1 0 -13.4 0zM218.7 320.1a6.7 6.7 0 1 0 13.4 0a6.7 6.7 0 1 0 -13.4 0zM220.2 338.4a6.7 6.7 0 1 0 13.4 0a6.7 6.7 0 1 0 -13.4 0zM221.8 334.8a6.7 6.7 0 1 0 13.4 0a6.7 6.7 0 1 0 -13.4 0zM223.3 350.4a6.7 6.7 0 1 0 13.4 0a6.7 6.7 0 1 0 -13.4 0zM224.9 334.5a6.7 6.7 0 1 0 13.4 0a6.7 6.7 0 1 0 -13.4 0zM226.5 352a6.7 6.7 0 1 0 13.4 0a6.7 6.7 0 1 0 -13.4 0zM228 349.2a6.7 6.7 0 1 0 13.4 0a6.7 6.7 0 1 0 -13.4 0zM229.6 369.4a6.7 6.7 0 1 0 13.4 0a6.7 6.7 0 1 0 -13.4 0zM231.1 332.8a6.7 6.7 0 1 0 13.4 0a6.7 6.7 0 1 0 -13.4 0zM232.7 349.2a6.7 6.7 0 1 0 13.4 0a6.7 6.7 0 1 0 -13.4 0zM234.3 348.3a6.7 6.7 0 1 0 13.4 0a6.7 6.7 0 1 0 -13.4 0zM235.8 367.1a6.7 6.7 0 1 0 13.4 0a6.7 6.7 0 1 0 -13.4 0zM237.4 348.9a6.7 6.7 0 1 0 13.4 0a6.7 6.7 0 1 0 -13.4 0zM239 371.2a6.7 6.7 0 1 0 13.4 0a6.7 6.7 0 1 0 -13.4 0zM240.5 363.9a6.7 6.7 0 1 0 13.4 0a6.7 6.7 0 1 0 -13.4 0zM242.1 389.3a6.7 6.7 0 1 0 13.4 0a6.7 6.7 0 1 0 -13.4 0zM243.6 308.5a6.7 6.7 0 1 0 13.4 0a6.7 6.7 0 1 0 -13.4 0zM245.2 321a6.7 6.7 0 1 0 13.4 0a6.7 6.7 0 1 0 -13.4 0zM246.8 321.7a6.7 6.7 0 1 0 13.4 0a6.7 6.7 0 1 0 -13.4 0zM248.3 337.7a6.7 6.7 0 1 0 13.4 0a6.7 6.7 0 1 0 -13.4 0zM249.9 320.7a6.7 6.7 0 1 0 13.4 0a6.7 6.7 0 1 0 -13.4 0zM251.5 340.3a6.7 6.7 0 1 0 13.4 0a6.7 6.7 0 1 0 -13.4 0zM253 336.4a6.7 6.7 0 1 0 13.4 0a6.7 6.7 0 1 0 -13.4 0zM254.6 353.3a6.7 6.7 0 1 0 13.4 0a6.7 6.7 0 1 0 -13.4 0zM256.1 319.8a6.7 6.7 0 1 0 13.4 0a6.7 6.7 0 1 0 -13.4 0zM257.7 335.9a6.7 6.7 0 1 0 13.4 0a6.7 6.7 0 1 0 -13.4 0zM259.3 333.1a6.7 6.7 0 1 0 13.4 0a6.7 6.7 0 1 0 -13.4 0zM260.8 349.7a6.7 6.7 0 1 0 13.4 0a6.7 6.7 0 1 0 -13.4 0zM262.4 334.3a6.7 6.7 0 1 0 13.4 0a6.7 6.7 0 1 0 -13.4 0zM263.9 352.8a6.7 6.7 0 1 0 13.4 0a6.7 6.7 0 1 0 -13.4 0zM265.5 350.8a6.7 6.7 0 1 0 13.4 0a6.7 6.7 0 1 0 -13.4 0zM267.1 370.9a6.7 6.7 0 1 0 13.4 0a6.7 6.7 0 1 0 -13.4 0zM268.6 321.2a6.7 6.7 0 1 0 13.4 0a6.7 6.7 0 1 0 -13.4 0zM270.2 334.3a6.7 6.7 0 1 0 13.4 0a6.7 6.7 0 1 0 -13.4 0zM271.8 334.2a6.7 6.7 0 1 0 13.4 0a6.7 6.7 0 1 0 -13.4 0zM273.3 348.6a6.7 6.7 0 1 0 13.4 0a6.7 6.7 0 1 0 -13.4 0zM274.9 331.8a6.7 6.7 0 1 0 13.4 0a6.7 6.7 0 1 0 -13.4 0zM276.4 353a6.7 6.7 0 1 0 13.4 0a6.7 6.7 0 1 0 -13.4 0zM278 349.1a6.7 6.7 0 1 0 13.4 0a6.7 6.7 0 1 0 -13.4 0zM279.6 368.7a6.7 6.7 0 1 0 13.4 0a6.7 6.7 0 1 0 -13.4 0zM281.1 330.7a6.7 6.7 0 1 0 13.4 0a6.7 6.7 0 1 0 -13.4 0zM282.7 350.2a6.7 6.7 0 1 0 13.4 0a6.7 6.7 0 1 0 -13.4 0zM284.2 346a6.7 6.7 0 1 0 13.4 0a6.7 6.7 0 1 0 -13.4 0zM285.8 365.9a6.7 6.7 0 1 0 13.4 0a6.7 6.7 0 1 0 -13.4 0zM287.4 348.2a6.7 6.7 0 1 0 13.4 0a6.7 6.7 0 1 0 -13.4 0zM288.9 366.1a6.7 6.7 0 1 0 13.4 0a6.7 6.7 0 1 0 -13.4 0zM290.5 365a6.7 6.7 0 1 0 13.4 0a6.7 6.7 0 1 0 -13.4 0zM292.1 386.3a6.7 6.7 0 1 0 13.4 0a6.7 6.7 0 1 0 -13.4 0zM293.6 319.9a6.7 6.7 0 1 0 13.4 0a6.7 6.7 0 1 0 -13.4 0zM295.2 335.4a6.7 6.7 0 1 0 13.4 0a6.7 6.7 0 1 0 -13.4 0zM296.7 334.9a6.7 6.7 0 1 0 13.4 0a6.7 6.7 0 1 0 -13.4 0zM298.3 349.8a6.7 6.7 0 1 0 13.4 0a6.7 6.7 0 1 0 -13.4 0zM299.9 334.8a6.7 6.7 0 1 0 13.4 0a6.7 6.7 0 1 0 -13.4 0zM301.4 352.2a6.7 6.7 0 1 0 13.4 0a6.7 6.7 0 1 0 -13.4 0zM303 349.7a6.7 6.7 0 1 0 13.4 0a6.7 6.7 0 1 0 -13.4 0zM304.5 371.8a6.7 6.7 0 1 0 13.4 0a6.7 6.7 0 1 0 -13.4 0zM306.1 333.8a6.7 6.7 0 1 0 13.4 0a6.7 6.7 0 1 0 -13.4 0zM307.7 349.7a6.7 6.7 0 1 0 13.4 0a6.7 6.7 0 1 0 -13.4 0zM309.2 347.2a6.7 6.7 0 1 0 13.4 0a6.7 6.7 0 1 0 -13.4 0zM310.8 367a6.7 6.7 0 1 0 13.4 0a6.7 6.7 0 1 0 -13.4 0zM312.4 347.3a6.7 6.7 0 1 0 13.4 0a6.7 6.7 0 1 0 -13.4 0zM313.9 366.7a6.7 6.7 0 1 0 13.4 0a6.7 6.7 0 1 0 -13.4 0zM315.5 365.5a6.7 6.7 0 1 0 13.4 0a6.7 6.7 0 1 0 -13.4 0zM317 386.1a6.7 6.7 0 1 0 13.4 0a6.7 6.7 0 1 0 -13.4 0zM318.6 333.8a6.7 6.7 0 1 0 13.4 0a6.7 6.7 0 1 0 -13.4 0zM320.2 351.4a6.7 6.7 0 1 0 13.4 0a6.7 6.7 0 1 0 -13.4 0zM321.7 344.6a6.7 6.7 0 1 0 13.4 0a6.7 6.7 0 1 0 -13.4 0zM323.3 365.3a6.7 6.7 0 1 0 13.4 0a6.7 6.7 0 1 0 -13.4 0zM324.8 347a6.7 6.7 0 1 0 13.4 0a6.7 6.7 0 1 0 -13.4 0zM326.4 366.8a6.7 6.7 0 1 0 13.4 0a6.7 6.7 0 1 0 -13.4 0zM328 363.7a6.7 6.7 0 1 0 13.4 0a6.7 6.7 0 1 0 -13.4 0zM329.5 385.3a6.7 6.7 0 1 0 13.4 0a6.7 6.7 0 1 0 -13.4 0zM331.1 345a6.7 6.7 0 1 0 13.4 0a6.7 6.7 0 1 0 -13.4 0zM332.7 366.3a6.7 6.7 0 1 0 13.4 0a6.7 6.7 0 1 0 -13.4 0zM334.2 360.6a6.7 6.7 0 1 0 13.4 0a6.7 6.7 0 1 0 -13.4 0zM335.8 382.6a6.7 6.7 0 1 0 13.4 0a6.7 6.7 0 1 0 -13.4 0zM337.3 361a6.7 6.7 0 1 0 13.4 0a6.7 6.7 0 1 0 -13.4 0zM338.9 386.9a6.7 6.7 0 1 0 13.4 0a6.7 6.7 0 1 0 -13.4 0zM340.5 381.1a6.7 6.7 0 1 0 13.4 0a6.7 6.7 0 1 0 -13.4 0zM342 408.6a6.7 6.7 0 1 0 13.4 0a6.7 6.7 0 1 0 -13.4 0zM343.6 308.1a6.7 6.7 0 1 0 13.4 0a6.7 6.7 0 1 0 -13.4 0zM345.1 321.1a6.7 6.7 0 1 0 13.4 0a6.7 6.7 0 1 0 -13.4 0zM346.7 319.8a6.7 6.7 0 1 0 13.4 0a6.7 6.7 0 1 0 -13.4 0zM348.3 337a6.7 6.7 0 1 0 13.4 0a6.7 6.7 0 1 0 -13.4 0zM349.8 321.8a6.7 6.7 0 1 0 13.4 0a6.7 6.7 0 1 0 -13.4 0zM351.4 337.5a6.7 6.7 0 1 0 13.4 0a6.7 6.7 0 1 0 -13.4 0zM353 336.5a6.7 6.7 0 1 0 13.4 0a6.7 6.7 0 1 0 -13.4 0zM354.5 353.5a6.7 6.7 0 1 0 13.4 0a6.7 6.7 0 1 0 -13.4 0zM356.1 318a6.7 6.7 0 1 0 13.4 0a6.7 6.7 0 1 0 -13.4 0zM357.6 335a6.7 6.7 0 1 0 13.4 0a6.7 6.7 0 1 0 -13.4 0zM359.2 333a6.7 6.7 0 1 0 13.4 0a6.7 6.7 0 1 0 -13.4 0zM360.8 351.2a6.7 6.7 0 1 0 13.4 0a6.7 6.7 0 1 0 -13.4 0zM362.3 335.1a6.7 6.7 0 1 0 13.4 0a6.7 6.7 0 1 0 -13.4 0zM363.9 354.6a6.7 6.7 0 1 0 13.4 0a6.7 6.7 0 1 0 -13.4 0zM365.4 348.3a6.7 6.7 0 1 0 13.4 0a6.7 6.7 0 1 0 -13.4 0zM367 368.9a6.7 6.7 0 1 0 13.4 0a6.7 6.7 0 1 0 -13.4 0zM368.6 318.3a6.7 6.7 0 1 0 13.4 0a6.7 6.7 0 1 0 -13.4 0zM370.1 336a6.7 6.7 0 1 0 13.4 0a6.7 6.7 0 1 0 -13.4 0zM371.7 332.3a6.7 6.7 0 1 0 13.4 0a6.7 6.7 0 1 0 -13.4 0zM373.3 348.4a6.7 6.7 0 1 0 13.4 0a6.7 6.7 0 1 0 -13.4 0zM374.8 333.1a6.7 6.7 0 1 0 13.4 0a6.7 6.7 0 1 0 -13.4 0zM376.4 351.7a6.7 6.7 0 1 0 13.4 0a6.7 6.7 0 1 0 -13.4 0zM377.9 347.1a6.7 6.7 0 1 0 13.4 0a6.7 6.7 0 1 0 -13.4 0zM379.5 366.3a6.7 6.7 0 1 0 13.4 0a6.7 6.7 0 1 0 -13.4 0zM381.1 331.9a6.7 6.7 0 1 0 13.4 0a6.7 6.7 0 1 0 -13.4 0zM382.6 349.2a6.7 6.7 0 1 0 13.4 0a6.7 6.7 0 1 0 -13.4 0zM384.2 346.2a6.7 6.7 0 1 0 13.4 0a6.7 6.7 0 1 0 -13.4 0zM385.7 365.9a6.7 6.7 0 1 0 13.4 0a6.7 6.7 0 1 0 -13.4 0zM387.3 346.4a6.7 6.7 0 1 0 13.4 0a6.7 6.7 0 1 0 -13.4 0zM388.9 366.3a6.7 6.7 0 1 0 13.4 0a6.7 6.7 0 1 0 -13.4 0zM390.4 362.7a6.7 6.7 0 1 0 13.4 0a6.7 6.7 0 1 0 -13.4 0zM392 386.9a6.7 6.7 0 1 0 13.4 0a6.7 6.7 0 1 0 -13.4 0zM393.6 320.9a6.7 6.7 0 1 0 13.4 0a6.7 6.7 0 1 0 -13.4 0zM395.1 335.9a6.7 6.7 0 1 0 13.4 0a6.7 6.7 0 1 0 -13.4 0zM396.7 333.3a6.7 6.7 0 1 0 13.4 0a6.7 6.7 0 1 0 -13.4 0zM398.2 350.3a6.7 6.7 0 1 0 13.4 0a6.7 6.7 0 1 0 -13.4 0zM399.8 335.5a6.7 6.7 0 1 0 13.4 0a6.7 6.7 0 1 0 -13.4 0zM401.4 351.8a6.7 6.7 0 1 0 13.4 0a6.7 6.7 0 1 0 -13.4 0zM402.9 347.1a6.7 6.7 0 1 0 13.4 0a6.7 6.7 0 1 0 -13.4 0zM404.5 367.3a6.7 6.7 0 1 0 13.4 0a6.7 6.7 0 1 0 -13.4 0zM406 330.5a6.7 6.7 0 1 0 13.4 0a6.7 6.7 0 1 0 -13.4 0zM407.6 349.9a6.7 6.7 0 1 0 13.4 0a6.7 6.7 0 1 0 -13.4 0zM409.2 345.6a6.7 6.7 0 1 0 13.4 0a6.7 6.7 0 1 0 -13.4 0zM410.7 366.6a6.7 6.7 0 1 0 13.4 0a6.7 6.7 0 1 0 -13.4 0zM412.3 347.7a6.7 6.7 0 1 0 13.4 0a6.7 6.7 0 1 0 -13.4 0zM413.9 369a6.7 6.7 0 1 0 13.4 0a6.7 6.7 0 1 0 -13.4 0zM415.4 365.3a6.7 6.7 0 1 0 13.4 0a6.7 6.7 0 1 0 -13.4 0zM417 388.3a6.7 6.7 0 1 0 13.4 0a6.7 6.7 0 1 0 -13.4 0zM418.5 330.1a6.7 6.7 0 1 0 13.4 0a6.7 6.7 0 1 0 -13.4 0zM420.1 348a6.7 6.7 0 1 0 13.4 0a6.7 6.7 0 1 0 -13.4 0zM421.7 344.8a6.7 6.7 0 1 0 13.4 0a6.7 6.7 0 1 0 -13.4 0zM423.2 365.6a6.7 6.7 0 1 0 13.4 0a6.7 6.7 0 1 0 -13.4 0zM424.8 346.9a6.7 6.7 0 1 0 13.4 0a6.7 6.7 0 1 0 -13.4 0zM426.3 368.4a6.7 6.7 0 1 0 13.4 0a6.7 6.7 0 1 0 -13.4 0zM427.9 361.2a6.7 6.7 0 1 0 13.4 0a6.7 6.7 0 1 0 -13.4 0zM429.5 385.4a6.7 6.7 0 1 0 13.4 0a6.7 6.7 0 1 0 -13.4 0zM431 344.4a6.7 6.7 0 1 0 13.4 0a6.7 6.7 0 1 0 -13.4 0zM432.6 364a6.7 6.7 0 1 0 13.4 0a6.7 6.7 0 1 0 -13.4 0zM434.2 362a6.7 6.7 0 1 0 13.4 0a6.7 6.7 0 1 0 -13.4 0zM435.7 383.6a6.7 6.7 0 1 0 13.4 0a6.7 6.7 0 1 0 -13.4 0zM437.3 362.5a6.7 6.7 0 1 0 13.4 0a6.7 6.7 0 1 0 -13.4 0zM438.8 383a6.7 6.7 0 1 0 13.4 0a6.7 6.7 0 1 0 -13.4 0zM440.4 381.6a6.7 6.7 0 1 0 13.4 0a6.7 6.7 0 1 0 -13.4 0zM442 407.9a6.7 6.7 0 1 0 13.4 0a6.7 6.7 0 1 0 -13.4 0zM443.5 318.5a6.7 6.7 0 1 0 13.4 0a6.7 6.7 0 1 0 -13.4 0zM445.1 336.5a6.7 6.7 0 1 0 13.4 0a6.7 6.7 0 1 0 -13.4 0zM446.7 333.5a6.7 6.7 0 1 0 13.4 0a6.7 6.7 0 1 0 -13.4 0zM448.2 349.4a6.7 6.7 0 1 0 13.4 0a6.7 6.7 0 1 0 -13.4 0zM449.8 333.4a6.7 6.7 0 1 0 13.4 0a6.7 6.7 0 1 0 -13.4 0zM451.3 351.5a6.7 6.7 0 1 0 13.4 0a6.7 6.7 0 1 0 -13.4 0zM452.9 345.9a6.7 6.7 0 1 0 13.4 0a6.7 6.7 0 1 0 -13.4 0zM454.5 367.6a6.7 6.7 0 1 0 13.4 0a6.7 6.7 0 1 0 -13.4 0zM456 330.7a6.7 6.7 0 1 0 13.4 0a6.7 6.7 0 1 0 -13.4 0zM457.6 346.7a6.7 6.7 0 1 0 13.4 0a6.7 6.7 0 1 0 -13.4 0zM459.1 343.2a6.7 6.7 0 1 0 13.4 0a6.7 6.7 0 1 0 -13.4 0zM460.7 366.4a6.7 6.7 0 1 0 13.4 0a6.7 6.7 0 1 0 -13.4 0zM462.3 347.7a6.7 6.7 0 1 0 13.4 0a6.7 6.7 0 1 0 -13.4 0zM463.8 365.5a6.7 6.7 0 1 0 13.4 0a6.7 6.7 0 1 0 -13.4 0zM465.4 364.7a6.7 6.7 0 1 0 13.4 0a6.7 6.7 0 1 0 -13.4 0zM467 386.6a6.7 6.7 0 1 0 13.4 0a6.7 6.7 0 1 0 -13.4 0zM468.5 331.1a6.7 6.7 0 1 0 13.4 0a6.7 6.7 0 1 0 -13.4 0zM470.1 348.5a6.7 6.7 0 1 0 13.4 0a6.7 6.7 0 1 0 -13.4 0zM471.6 344.9a6.7 6.7 0 1 0 13.4 0a6.7 6.7 0 1 0 -13.4 0zM473.2 362.5a6.7 6.7 0 1 0 13.4 0a6.7 6.7 0 1 0 -13.4 0zM474.8 344.1a6.7 6.7 0 1 0 13.4 0a6.7 6.7 0 1 0 -13.4 0zM476.3 363.2a6.7 6.7 0 1 0 13.4 0a6.7 6.7 0 1 0 -13.4 0zM477.9 361.3a6.7 6.7 0 1 0 13.4 0a6.7 6.7 0 1 0 -13.4 0zM479.4 385.6a6.7 6.7 0 1 0 13.4 0a6.7 6.7 0 1 0 -13.4 0zM481 343.2a6.7 6.7 0 1 0 13.4 0a6.7 6.7 0 1 0 -13.4 0zM482.6 362.6a6.7 6.7 0 1 0 13.4 0a6.7 6.7 0 1 0 -13.4 0zM484.1 358.1a6.7 6.7 0 1 0 13.4 0a6.7 6.7 0 1 0 -13.4 0zM485.7 380.2a6.7 6.7 0 1 0 13.4 0a6.7 6.7 0 1 0 -13.4 0zM487.3 362.9a6.7 6.7 0 1 0 13.4 0a6.7 6.7 0 1 0 -13.4 0zM488.8 382.3a6.7 6.7 0 1 0 13.4 0a6.7 6.7 0 1 0 -13.4 0zM490.4 380.9a6.7 6.7 0 1 0 13.4 0a6.7 6.7 0 1 0 -13.4 0zM491.9 405.4a6.7 6.7 0 1 0 13.4 0a6.7 6.7 0 1 0 -13.4 0zM493.5 330.5a6.7 6.7 0 1 0 13.4 0a6.7 6.7 0 1 0 -13.4 0zM495.1 347.9a6.7 6.7 0 1 0 13.4 0a6.7 6.7 0 1 0 -13.4 0zM496.6 343.2a6.7 6.7 0 1 0 13.4 0a6.7 6.7 0 1 0 -13.4 0zM498.2 367.1a6.7 6.7 0 1 0 13.4 0a6.7 6.7 0 1 0 -13.4 0zM499.7 346.7a6.7 6.7 0 1 0 13.4 0a6.7 6.7 0 1 0 -13.4 0zM501.3 365.9a6.7 6.7 0 1 0 13.4 0a6.7 6.7 0 1 0 -13.4 0zM502.9 363.3a6.7 6.7 0 1 0 13.4 0a6.7 6.7 0 1 0 -13.4 0zM504.4 384.5a6.7 6.7 0 1 0 13.4 0a6.7 6.7 0 1 0 -13.4 0zM506 345.9a6.7 6.7 0 1 0 13.4 0a6.7 6.7 0 1 0 -13.4 0zM507.6 363.1a6.7 6.7 0 1 0 13.4 0a6.7 6.7 0 1 0 -13.4 0zM509.1 359.5a6.7 6.7 0 1 0 13.4 0a6.7 6.7 0 1 0 -13.4 0zM510.7 383.1a6.7 6.7 0 1 0 13.4 0a6.7 6.7 0 1 0 -13.4 0zM512.2 363.2a6.7 6.7 0 1 0 13.4 0a6.7 6.7 0 1 0 -13.4 0zM513.8 384.9a6.7 6.7 0 1 0 13.4 0a6.7 6.7 0 1 0 -13.4 0zM515.4 381.1a6.7 6.7 0 1 0 13.4 0a6.7 6.7 0 1 0 -13.4 0zM516.9 405.8a6.7 6.7 0 1 0 13.4 0a6.7 6.7 0 1 0 -13.4 0zM518.5 342.8a6.7 6.7 0 1 0 13.4 0a6.7 6.7 0 1 0 -13.4 0zM520 360.4a6.7 6.7 0 1 0 13.4 0a6.7 6.7 0 1 0 -13.4 0zM521.6 356.9a6.7 6.7 0 1 0 13.4 0a6.7 6.7 0 1 0 -13.4 0zM523.2 379.7a6.7 6.7 0 1 0 13.4 0a6.7 6.7 0 1 0 -13.4 0zM524.7 360.8a6.7 6.7 0 1 0 13.4 0a6.7 6.7 0 1 0 -13.4 0zM526.3 383.6a6.7 6.7 0 1 0 13.4 0a6.7 6.7 0 1 0 -13.4 0zM527.9 379.2a6.7 6.7 0 1 0 13.4 0a6.7 6.7 0 1 0 -13.4 0zM529.4 405.2a6.7 6.7 0 1 0 13.4 0a6.7 6.7 0 1 0 -13.4 0zM531 357.5a6.7 6.7 0 1 0 13.4 0a6.7 6.7 0 1 0 -13.4 0zM532.5 380.3a6.7 6.7 0 1 0 13.4 0a6.7 6.7 0 1 0 -13.4 0zM534.1 375a6.7 6.7 0 1 0 13.4 0a6.7 6.7 0 1 0 -13.4 0zM535.7 400.1a6.7 6.7 0 1 0 13.4 0a6.7 6.7 0 1 0 -13.4 0zM537.2 378.3a6.7 6.7 0 1 0 13.4 0a6.7 6.7 0 1 0 -13.4 0zM538.8 403.8a6.7 6.7 0 1 0 13.4 0a6.7 6.7 0 1 0 -13.4 0zM540.3 396.7a6.7 6.7 0 1 0 13.4 0a6.7 6.7 0 1 0 -13.4 0zM541.9 430.4a6.7 6.7 0 1 0 13.4 0a6.7 6.7 0 1 0 -13.4 0zM543.5 309.7a6.7 6.7 0 1 0 13.4 0a6.7 6.7 0 1 0 -13.4 0zM545 324.2a6.7 6.7 0 1 0 13.4 0a6.7 6.7 0 1 0 -13.4 0zM546.6 321.5a6.7 6.7 0 1 0 13.4 0a6.7 6.7 0 1 0 -13.4 0zM548.2 337.7a6.7 6.7 0 1 0 13.4 0a6.7 6.7 0 1 0 -13.4 0zM549.7 321.1a6.7 6.7 0 1 0 13.4 0a6.7 6.7 0 1 0 -13.4 0zM551.3 338.6a6.7 6.7 0 1 0 13.4 0a6.7 6.7 0 1 0 -13.4 0zM552.8 334.8a6.7 6.7 0 1 0 13.4 0a6.7 6.7 0 1 0 -13.4 0zM554.4 352.2a6.7 6.7 0 1 0 13.4 0a6.7 6.7 0 1 0 -13.4 0zM556 321.3a6.7 6.7 0 1 0 13.4 0a6.7 6.7 0 1 0 -13.4 0zM557.5 337.2a6.7 6.7 0 1 0 13.4 0a6.7 6.7 0 1 0 -13.4 0zM559.1 333.9a6.7 6.7 0 1 0 13.4 0a6.7 6.7 0 1 0 -13.4 0zM560.6 350.5a6.7 6.7 0 1 0 13.4 0a6.7 6.7 0 1 0 -13.4 0zM562.2 336a6.7 6.7 0 1 0 13.4 0a6.7 6.7 0 1 0 -13.4 0zM563.8 353.1a6.7 6.7 0 1 0 13.4 0a6.7 6.7 0 1 0 -13.4 0zM565.3 349.1a6.7 6.7 0 1 0 13.4 0a6.7 6.7 0 1 0 -13.4 0zM566.9 369.2a6.7 6.7 0 1 0 13.4 0a6.7 6.7 0 1 0 -13.4 0zM568.5 318.8a6.7 6.7 0 1 0 13.4 0a6.7 6.7 0 1 0 -13.4 0zM570 336.4a6.7 6.7 0 1 0 13.4 0a6.7 6.7 0 1 0 -13.4 0zM571.6 334.3a6.7 6.7 0 1 0 13.4 0a6.7 6.7 0 1 0 -13.4 0zM573.1 348.7a6.7 6.7 0 1 0 13.4 0a6.7 6.7 0 1 0 -13.4 0zM574.7 333.8a6.7 6.7 0 1 0 13.4 0a6.7 6.7 0 1 0 -13.4 0zM576.3 353.3a6.7 6.7 0 1 0 13.4 0a6.7 6.7 0 1 0 -13.4 0zM577.8 349.3a6.7 6.7 0 1 0 13.4 0a6.7 6.7 0 1 0 -13.4 0zM579.4 369.1a6.7 6.7 0 1 0 13.4 0a6.7 6.7 0 1 0 -13.4 0zM580.9 334a6.7 6.7 0 1 0 13.4 0a6.7 6.7 0 1 0 -13.4 0zM582.5 349.3a6.7 6.7 0 1 0 13.4 0a6.7 6.7 0 1 0 -13.4 0zM584.1 347.2a6.7 6.7 0 1 0 13.4 0a6.7 6.7 0 1 0 -13.4 0zM585.6 366.1a6.7 6.7 0 1 0 13.4 0a6.7 6.7 0 1 0 -13.4 0zM587.2 347.5a6.7 6.7 0 1 0 13.4 0a6.7 6.7 0 1 0 -13.4 0zM588.8 368.2a6.7 6.7 0 1 0 13.4 0a6.7 6.7 0 1 0 -13.4 0zM590.3 363.7a6.7 6.7 0 1 0 13.4 0a6.7 6.7 0 1 0 -13.4 0zM591.9 386.5a6.7 6.7 0 1 0 13.4 0a6.7 6.7 0 1 0 -13.4 0zM593.4 320.5a6.7 6.7 0 1 0 13.4 0a6.7 6.7 0 1 0 -13.4 0zM595 336.8a6.7 6.7 0 1 0 13.4 0a6.7 6.7 0 1 0 -13.4 0zM596.6 331.6a6.7 6.7 0 1 0 13.4 0a6.7 6.7 0 1 0 -13.4 0zM598.1 351.7a6.7 6.7 0 1 0 13.4 0a6.7 6.7 0 1 0 -13.4 0zM599.7 333.8a6.7 6.7 0 1 0 13.4 0a6.7 6.7 0 1 0 -13.4 0zM601.2 354.7a6.7 6.7 0 1 0 13.4 0a6.7 6.7 0 1 0 -13.4 0zM602.8 349.4a6.7 6.7 0 1 0 13.4 0a6.7 6.7 0 1 0 -13.4 0zM604.4 370.1a6.7 6.7 0 1 0 13.4 0a6.7 6.7 0 1 0 -13.4 0zM605.9 334.2a6.7 6.7 0 1 0 13.4 0a6.7 6.7 0 1 0 -13.4 0zM607.5 354.2a6.7 6.7 0 1 0 13.4 0a6.7 6.7 0 1 0 -13.4 0zM609.1 345.8a6.7 6.7 0 1 0 13.4 0a6.7 6.7 0 1 0 -13.4 0zM610.6 368.8a6.7 6.7 0 1 0 13.4 0a6.7 6.7 0 1 0 -13.4 0zM612.2 350.9a6.7 6.7 0 1 0 13.4 0a6.7 6.7 0 1 0 -13.4 0zM613.7 369.7a6.7 6.7 0 1 0 13.4 0a6.7 6.7 0 1 0 -13.4 0zM615.3 365.9a6.7 6.7 0 1 0 13.4 0a6.7 6.7 0 1 0 -13.4 0zM616.9 388.6a6.7 6.7 0 1 0 13.4 0a6.7 6.7 0 1 0 -13.4 0zM618.4 332.2a6.7 6.7 0 1 0 13.4 0a6.7 6.7 0 1 0 -13.4 0zM620 351.2a6.7 6.7 0 1 0 13.4 0a6.7 6.7 0 1 0 -13.4 0zM621.5 345a6.7 6.7 0 1 0 13.4 0a6.7 6.7 0 1 0 -13.4 0zM623.1 366.5a6.7 6.7 0 1 0 13.4 0a6.7 6.7 0 1 0 -13.4 0zM624.7 347.9a6.7 6.7 0 1 0 13.4 0a6.7 6.7 0 1 0 -13.4 0zM626.2 367.2a6.7 6.7 0 1 0 13.4 0a6.7 6.7 0 1 0 -13.4 0zM627.8 362.7a6.7 6.7 0 1 0 13.4 0a6.7 6.7 0 1 0 -13.4 0zM629.4 386.9a6.7 6.7 0 1 0 13.4 0a6.7 6.7 0 1 0 -13.4 0zM630.9 346a6.7 6.7 0 1 0 13.4 0a6.7 6.7 0 1 0 -13.4 0zM632.5 365.3a6.7 6.7 0 1 0 13.4 0a6.7 6.7 0 1 0 -13.4 0zM634 363.4a6.7 6.7 0 1 0 13.4 0a6.7 6.7 0 1 0 -13.4 0zM635.6 384.2a6.7 6.7 0 1 0 13.4 0a6.7 6.7 0 1 0 -13.4 0zM637.2 364.8a6.7 6.7 0 1 0 13.4 0a6.7 6.7 0 1 0 -13.4 0zM638.7 387.5a6.7 6.7 0 1 0 13.4 0a6.7 6.7 0 1 0 -13.4 0zM640.3 381.5a6.7 6.7 0 1 0 13.4 0a6.7 6.7 0 1 0 -13.4 0zM641.9 409.2a6.7 6.7 0 1 0 13.4 0a6.7 6.7 0 1 0 -13.4 0zM643.4 317.5a6.7 6.7 0 1 0 13.4 0a6.7 6.7 0 1 0 -13.4 0zM645 333.7a6.7 6.7 0 1 0 13.4 0a6.7 6.7 0 1 0 -13.4 0zM646.5 334.6a6.7 6.7 0 1 0 13.4 0a6.7 6.7 0 1 0 -13.4 0zM648.1 349.9a6.7 6.7 0 1 0 13.4 0a6.7 6.7 0 1 0 -13.4 0zM649.7 335.5a6.7 6.7 0 1 0 13.4 0a6.7 6.7 0 1 0 -13.4 0zM651.2 351.5a6.7 6.7 0 1 0 13.4 0a6.7 6.7 0 1 0 -13.4 0zM652.8 348.6a6.7 6.7 0 1 0 13.4 0a6.7 6.7 0 1 0 -13.4 0zM654.3 367.5a6.7 6.7 0 1 0 13.4 0a6.7 6.7 0 1 0 -13.4 0zM655.9 331.7a6.7 6.7 0 1 0 13.4 0a6.7 6.7 0 1 0 -13.4 0zM657.5 348.7a6.7 6.7 0 1 0 13.4 0a6.7 6.7 0 1 0 -13.4 0zM659 346.6a6.7 6.7 0 1 0 13.4 0a6.7 6.7 0 1 0 -13.4 0zM660.6 368.7a6.7 6.7 0 1 0 13.4 0a6.7 6.7 0 1 0 -13.4 0zM662.2 349.7a6.7 6.7 0 1 0 13.4 0a6.7 6.7 0 1 0 -13.4 0zM663.7 369.1a6.7 6.7 0 1 0 13.4 0a6.7 6.7 0 1 0 -13.4 0zM665.3 364.9a6.7 6.7 0 1 0 13.4 0a6.7 6.7 0 1 0 -13.4 0zM666.8 388.2a6.7 6.7 0 1 0 13.4 0a6.7 6.7 0 1 0 -13.4 0zM668.4 328.6a6.7 6.7 0 1 0 13.4 0a6.7 6.7 0 1 0 -13.4 0zM670 348.1a6.7 6.7 0 1 0 13.4 0a6.7 6.7 0 1 0 -13.4 0zM671.5 343.1a6.7 6.7 0 1 0 13.4 0a6.7 6.7 0 1 0 -13.4 0zM673.1 364.2a6.7 6.7 0 1 0 13.4 0a6.7 6.7 0 1 0 -13.4 0zM674.6 344.7a6.7 6.7 0 1 0 13.4 0a6.7 6.7 0 1 0 -13.4 0zM676.2 367.6a6.7 6.7 0 1 0 13.4 0a6.7 6.7 0 1 0 -13.4 0zM677.8 361.7a6.7 6.7 0 1 0 13.4 0a6.7 6.7 0 1 0 -13.4 0zM679.3 386.3a6.7 6.7 0 1 0 13.4 0a6.7 6.7 0 1 0 -13.4 0zM680.9 343.7a6.7 6.7 0 1 0 13.4 0a6.7 6.7 0 1 0 -13.4 0zM682.5 361.5a6.7 6.7 0 1 0 13.4 0a6.7 6.7 0 1 0 -13.4 0zM684 361.6a6.7 6.7 0 1 0 13.4 0a6.7 6.7 0 1 0 -13.4 0zM685.6 382.4a6.7 6.7 0 1 0 13.4 0a6.7 6.7 0 1 0 -13.4 0zM687.1 361.7a6.7 6.7 0 1 0 13.4 0a6.7 6.7 0 1 0 -13.4 0zM688.7 384.4a6.7 6.7 0 1 0 13.4 0a6.7 6.7 0 1 0 -13.4 0zM690.3 381.4a6.7 6.7 0 1 0 13.4 0a6.7 6.7 0 1 0 -13.4 0zM691.8 405a6.7 6.7 0 1 0 13.4 0a6.7 6.7 0 1 0 -13.4 0zM693.4 331.8a6.7 6.7 0 1 0 13.4 0a6.7 6.7 0 1 0 -13.4 0zM694.9 347.9a6.7 6.7 0 1 0 13.4 0a6.7 6.7 0 1 0 -13.4 0zM696.5 345.7a6.7 6.7 0 1 0 13.4 0a6.7 6.7 0 1 0 -13.4 0zM698.1 366.8a6.7 6.7 0 1 0 13.4 0a6.7 6.7 0 1 0 -13.4 0zM699.6 348.7a6.7 6.7 0 1 0 13.4 0a6.7 6.7 0 1 0 -13.4 0zM701.2 366.2a6.7 6.7 0 1 0 13.4 0a6.7 6.7 0 1 0 -13.4 0zM702.8 365.7a6.7 6.7 0 1 0 13.4 0a6.7 6.7 0 1 0 -13.4 0zM704.3 387.2a6.7 6.7 0 1 0 13.4 0a6.7 6.7 0 1 0 -13.4 0zM705.9 344.9a6.7 6.7 0 1 0 13.4 0a6.7 6.7 0 1 0 -13.4 0zM707.4 363.8a6.7 6.7 0 1 0 13.4 0a6.7 6.7 0 1 0 -13.4 0zM709 360.3a6.7 6.7 0 1 0 13.4 0a6.7 6.7 0 1 0 -13.4 0zM710.6 385.1a6.7 6.7 0 1 0 13.4 0a6.7 6.7 0 1 0 -13.4 0zM712.1 361.1a6.7 6.7 0 1 0 13.4 0a6.7 6.7 0 1 0 -13.4 0zM713.7 386.3a6.7 6.7 0 1 0 13.4 0a6.7 6.7 0 1 0 -13.4 0zM715.2 381.7a6.7 6.7 0 1 0 13.4 0a6.7 6.7 0 1 0 -13.4 0zM716.8 408.8a6.7 6.7 0 1 0 13.4 0a6.7 6.7 0 1 0 -13.4 0zM718.4 344.3a6.7 6.7 0 1 0 13.4 0a6.7 6.7 0 1 0 -13.4 0zM719.9 364.3a6.7 6.7 0 1 0 13.4 0a6.7 6.7 0 1 0 -13.4 0zM721.5 359.8a6.7 6.7 0 1 0 13.4 0a6.7 6.7 0 1 0 -13.4 0zM723.1 379.6a6.7 6.7 0 1 0 13.4 0a6.7 6.7 0 1 0 -13.4 0zM724.6 363.3a6.7 6.7 0 1 0 13.4 0a6.7 6.7 0 1 0 -13.4 0zM726.2 386.7a6.7 6.7 0 1 0 13.4 0a6.7 6.7 0 1 0 -13.4 0zM727.7 378.9a6.7 6.7 0 1 0 13.4 0a6.7 6.7 0 1 0 -13.4 0zM729.3 405.6a6.7 6.7 0 1 0 13.4 0a6.7 6.7 0 1 0 -13.4 0zM730.9 358.1a6.7 6.7 0 1 0 13.4 0a6.7 6.7 0 1 0 -13.4 0zM732.4 378.6a6.7 6.7 0 1 0 13.4 0a6.7 6.7 0 1 0 -13.4 0zM734 377.2a6.7 6.7 0 1 0 13.4 0a6.7 6.7 0 1 0 -13.4 0zM735.5 401.7a6.7 6.7 0 1 0 13.4 0a6.7 6.7 0 1 0 -13.4 0zM737.1 378.4a6.7 6.7 0 1 0 13.4 0a6.7 6.7 0 1 0 -13.4 0zM738.7 403.9a6.7 6.7 0 1 0 13.4 0a6.7 6.7 0 1 0 -13.4 0zM740.2 398.8a6.7 6.7 0 1 0 13.4 0a6.7 6.7 0 1 0 -13.4 0zM741.8 435.8a6.7 6.7 0 1 0 13.4 0a6.7 6.7 0 1 0 -13.4 0zM743.4 320.4a6.7 6.7 0 1 0 13.4 0a6.7 6.7 0 1 0 -13.4 0zM744.9 335.2a6.7 6.7 0 1 0 13.4 0a6.7 6.7 0 1 0 -13.4 0zM746.5 333.8a6.7 6.7 0 1 0 13.4 0a6.7 6.7 0 1 0 -13.4 0zM748 348.1a6.7 6.7 0 1 0 13.4 0a6.7 6.7 0 1 0 -13.4 0zM749.6 334.2a6.7 6.7 0 1 0 13.4 0a6.7 6.7 0 1 0 -13.4 0zM751.2 351.9a6.7 6.7 0 1 0 13.4 0a6.7 6.7 0 1 0 -13.4 0zM752.7 349.2a6.7 6.7 0 1 0 13.4 0a6.7 6.7 0 1 0 -13.4 0zM754.3 366.1a6.7 6.7 0 1 0 13.4 0a6.7 6.7 0 1 0 -13.4 0zM755.8 331.1a6.7 6.7 0 1 0 13.4 0a6.7 6.7 0 1 0 -13.4 0zM757.4 349.4a6.7 6.7 0 1 0 13.4 0a6.7 6.7 0 1 0 -13.4 0zM759 344.9a6.7 6.7 0 1 0 13.4 0a6.7 6.7 0 1 0 -13.4 0zM760.5 365.1a6.7 6.7 0 1 0 13.4 0a6.7 6.7 0 1 0 -13.4 0zM762.1 347a6.7 6.7 0 1 0 13.4 0a6.7 6.7 0 1 0 -13.4 0zM763.7 365.8a6.7 6.7 0 1 0 13.4 0a6.7 6.7 0 1 0 -13.4 0zM765.2 363.9a6.7 6.7 0 1 0 13.4 0a6.7 6.7 0 1 0 -13.4 0zM766.8 385.5a6.7 6.7 0 1 0 13.4 0a6.7 6.7 0 1 0 -13.4 0zM768.3 329.4a6.7 6.7 0 1 0 13.4 0a6.7 6.7 0 1 0 -13.4 0zM769.9 346a6.7 6.7 0 1 0 13.4 0a6.7 6.7 0 1 0 -13.4 0zM771.5 343.3a6.7 6.7 0 1 0 13.4 0a6.7 6.7 0 1 0 -13.4 0zM773 363.1a6.7 6.7 0 1 0 13.4 0a6.7 6.7 0 1 0 -13.4 0zM774.6 346.8a6.7 6.7 0 1 0 13.4 0a6.7 6.7 0 1 0 -13.4 0zM776.1 365.1a6.7 6.7 0 1 0 13.4 0a6.7 6.7 0 1 0 -13.4 0zM777.7 363a6.7 6.7 0 1 0 13.4 0a6.7 6.7 0 1 0 -13.4 0zM779.3 383.1a6.7 6.7 0 1 0 13.4 0a6.7 6.7 0 1 0 -13.4 0zM780.8 343.5a6.7 6.7 0 1 0 13.4 0a6.7 6.7 0 1 0 -13.4 0zM782.4 362a6.7 6.7 0 1 0 13.4 0a6.7 6.7 0 1 0 -13.4 0zM784 359.6a6.7 6.7 0 1 0 13.4 0a6.7 6.7 0 1 0 -13.4 0zM785.5 381.5a6.7 6.7 0 1 0 13.4 0a6.7 6.7 0 1 0 -13.4 0zM787.1 362.3a6.7 6.7 0 1 0 13.4 0a6.7 6.7 0 1 0 -13.4 0zM788.6 382a6.7 6.7 0 1 0 13.4 0a6.7 6.7 0 1 0 -13.4 0zM790.2 379.3a6.7 6.7 0 1 0 13.4 0a6.7 6.7 0 1 0 -13.4 0zM791.8 405.6a6.7 6.7 0 1 0 13.4 0a6.7 6.7 0 1 0 -13.4 0zM793.3 333.4a6.7 6.7 0 1 0 13.4 0a6.7 6.7 0 1 0 -13.4 0zM794.9 348.8a6.7 6.7 0 1 0 13.4 0a6.7 6.7 0 1 0 -13.4 0zM796.4 349.5a6.7 6.7 0 1 0 13.4 0a6.7 6.7 0 1 0 -13.4 0zM798 363.2a6.7 6.7 0 1 0 13.4 0a6.7 6.7 0 1 0 -13.4 0zM799.6 347.8a6.7 6.7 0 1 0 13.4 0a6.7 6.7 0 1 0 -13.4 0zM801.1 367.1a6.7 6.7 0 1 0 13.4 0a6.7 6.7 0 1 0 -13.4 0zM802.7 365a6.7 6.7 0 1 0 13.4 0a6.7 6.7 0 1 0 -13.4 0zM804.3 387.1a6.7 6.7 0 1 0 13.4 0a6.7 6.7 0 1 0 -13.4 0zM805.8 344.3a6.7 6.7 0 1 0 13.4 0a6.7 6.7 0 1 0 -13.4 0zM807.4 364.5a6.7 6.7 0 1 0 13.4 0a6.7 6.7 0 1 0 -13.4 0zM808.9 360.1a6.7 6.7 0 1 0 13.4 0a6.7 6.7 0 1 0 -13.4 0zM810.5 381a6.7 6.7 0 1 0 13.4 0a6.7 6.7 0 1 0 -13.4 0zM812.1 362.1a6.7 6.7 0 1 0 13.4 0a6.7 6.7 0 1 0 -13.4 0zM813.6 387.5a6.7 6.7 0 1 0 13.4 0a6.7 6.7 0 1 0 -13.4 0zM815.2 382a6.7 6.7 0 1 0 13.4 0a6.7 6.7 0 1 0 -13.4 0zM816.7 409.1a6.7 6.7 0 1 0 13.4 0a6.7 6.7 0 1 0 -13.4 0zM818.3 344.5a6.7 6.7 0 1 0 13.4 0a6.7 6.7 0 1 0 -13.4 0zM819.9 364.9a6.7 6.7 0 1 0 13.4 0a6.7 6.7 0 1 0 -13.4 0zM821.4 361.2a6.7 6.7 0 1 0 13.4 0a6.7 6.7 0 1 0 -13.4 0zM823 381.2a6.7 6.7 0 1 0 13.4 0a6.7 6.7 0 1 0 -13.4 0zM824.6 361.7a6.7 6.7 0 1 0 13.4 0a6.7 6.7 0 1 0 -13.4 0zM826.1 382.4a6.7 6.7 0 1 0 13.4 0a6.7 6.7 0 1 0 -13.4 0zM827.7 379.1a6.7 6.7 0 1 0 13.4 0a6.7 6.7 0 1 0 -13.4 0zM829.2 403.3a6.7 6.7 0 1 0 13.4 0a6.7 6.7 0 1 0 -13.4 0zM830.8 360.5a6.7 6.7 0 1 0 13.4 0a6.7 6.7 0 1 0 -13.4 0zM832.4 381.4a6.7 6.7 0 1 0 13.4 0a6.7 6.7 0 1 0 -13.4 0zM833.9 375.3a6.7 6.7 0 1 0 13.4 0a6.7 6.7 0 1 0 -13.4 0zM835.5 401.3a6.7 6.7 0 1 0 13.4 0a6.7 6.7 0 1 0 -13.4 0zM837.1 379.4a6.7 6.7 0 1 0 13.4 0a6.7 6.7 0 1 0 -13.4 0zM838.6 403.4a6.7 6.7 0 1 0 13.4 0a6.7 6.7 0 1 0 -13.4 0zM840.2 397.7a6.7 6.7 0 1 0 13.4 0a6.7 6.7 0 1 0 -13.4 0zM841.7 431.8a6.7 6.7 0 1 0 13.4 0a6.7 6.7 0 1 0 -13.4 0zM843.3 330.5a6.7 6.7 0 1 0 13.4 0a6.7 6.7 0 1 0 -13.4 0zM844.9 347.3a6.7 6.7 0 1 0 13.4 0a6.7 6.7 0 1 0 -13.4 0zM846.4 343.7a6.7 6.7 0 1 0 13.4 0a6.7 6.7 0 1 0 -13.4 0zM848 363.1a6.7 6.7 0 1 0 13.4 0a6.7 6.7 0 1 0 -13.4 0zM849.5 344.8a6.7 6.7 0 1 0 13.4 0a6.7 6.7 0 1 0 -13.4 0zM851.1 366.1a6.7 6.7 0 1 0 13.4 0a6.7 6.7 0 1 0 -13.4 0zM852.7 361.3a6.7 6.7 0 1 0 13.4 0a6.7 6.7 0 1 0 -13.4 0zM854.2 386.5a6.7 6.7 0 1 0 13.4 0a6.7 6.7 0 1 0 -13.4 0zM855.8 342.7a6.7 6.7 0 1 0 13.4 0a6.7 6.7 0 1 0 -13.4 0zM857.4 360.7a6.7 6.7 0 1 0 13.4 0a6.7 6.7 0 1 0 -13.4 0zM858.9 359a6.7 6.7 0 1 0 13.4 0a6.7 6.7 0 1 0 -13.4 0zM860.5 379.4a6.7 6.7 0 1 0 13.4 0a6.7 6.7 0 1 0 -13.4 0zM862 363.2a6.7 6.7 0 1 0 13.4 0a6.7 6.7 0 1 0 -13.4 0zM863.6 383.7a6.7 6.7 0 1 0 13.4 0a6.7 6.7 0 1 0 -13.4 0zM865.2 380.8a6.7 6.7 0 1 0 13.4 0a6.7 6.7 0 1 0 -13.4 0zM866.7 404.9a6.7 6.7 0 1 0 13.4 0a6.7 6.7 0 1 0 -13.4 0zM868.3 341.4a6.7 6.7 0 1 0 13.4 0a6.7 6.7 0 1 0 -13.4 0zM869.8 362.4a6.7 6.7 0 1 0 13.4 0a6.7 6.7 0 1 0 -13.4 0zM871.4 358.2a6.7 6.7 0 1 0 13.4 0a6.7 6.7 0 1 0 -13.4 0zM873 379.2a6.7 6.7 0 1 0 13.4 0a6.7 6.7 0 1 0 -13.4 0zM874.5 356.6a6.7 6.7 0 1 0 13.4 0a6.7 6.7 0 1 0 -13.4 0zM876.1 381.2a6.7 6.7 0 1 0 13.4 0a6.7 6.7 0 1 0 -13.4 0zM877.7 376.8a6.7 6.7 0 1 0 13.4 0a6.7 6.7 0 1 0 -13.4 0zM879.2 402.2a6.7 6.7 0 1 0 13.4 0a6.7 6.7 0 1 0 -13.4 0zM880.8 356.4a6.7 6.7 0 1 0 13.4 0a6.7 6.7 0 1 0 -13.4 0zM882.3 378.2a6.7 6.7 0 1 0 13.4 0a6.7 6.7 0 1 0 -13.4 0zM883.9 375.4a6.7 6.7 0 1 0 13.4 0a6.7 6.7 0 1 0 -13.4 0zM885.5 399.5a6.7 6.7 0 1 0 13.4 0a6.7 6.7 0 1 0 -13.4 0zM887 374.5a6.7 6.7 0 1 0 13.4 0a6.7 6.7 0 1 0 -13.4 0zM888.6 401.6a6.7 6.7 0 1 0 13.4 0a6.7 6.7 0 1 0 -13.4 0zM890.1 397.2a6.7 6.7 0 1 0 13.4 0a6.7 6.7 0 1 0 -13.4 0zM891.7 431.5a6.7 6.7 0 1 0 13.4 0a6.7 6.7 0 1 0 -13.4 0zM893.3 343.5a6.7 6.7 0 1 0 13.4 0a6.7 6.7 0 1 0 -13.4 0zM894.8 362.4a6.7 6.7 0 1 0 13.4 0a6.7 6.7 0 1 0 -13.4 0zM896.4 359.5a6.7 6.7 0 1 0 13.4 0a6.7 6.7 0 1 0 -13.4 0zM898 379.3a6.7 6.7 0 1 0 13.4 0a6.7 6.7 0 1 0 -13.4 0zM899.5 361.7a6.7 6.7 0 1 0 13.4 0a6.7 6.7 0 1 0 -13.4 0zM901.1 383.3a6.7 6.7 0 1 0 13.4 0a6.7 6.7 0 1 0 -13.4 0zM902.6 377.7a6.7 6.7 0 1 0 13.4 0a6.7 6.7 0 1 0 -13.4 0zM904.2 404.7a6.7 6.7 0 1 0 13.4 0a6.7 6.7 0 1 0 -13.4 0zM905.8 357a6.7 6.7 0 1 0 13.4 0a6.7 6.7 0 1 0 -13.4 0zM907.3 380.1a6.7 6.7 0 1 0 13.4 0a6.7 6.7 0 1 0 -13.4 0zM908.9 376.1a6.7 6.7 0 1 0 13.4 0a6.7 6.7 0 1 0 -13.4 0zM910.4 400.4a6.7 6.7 0 1 0 13.4 0a6.7 6.7 0 1 0 -13.4 0zM912 378a6.7 6.7 0 1 0 13.4 0a6.7 6.7 0 1 0 -13.4 0zM913.6 402.9a6.7 6.7 0 1 0 13.4 0a6.7 6.7 0 1 0 -13.4 0zM915.1 398.5a6.7 6.7 0 1 0 13.4 0a6.7 6.7 0 1 0 -13.4 0zM916.7 433.4a6.7 6.7 0 1 0 13.4 0a6.7 6.7 0 1 0 -13.4 0zM918.3 356a6.7 6.7 0 1 0 13.4 0a6.7 6.7 0 1 0 -13.4 0zM919.8 376.9a6.7 6.7 0 1 0 13.4 0a6.7 6.7 0 1 0 -13.4 0zM921.4 374.9a6.7 6.7 0 1 0 13.4 0a6.7 6.7 0 1 0 -13.4 0zM922.9 398.5a6.7 6.7 0 1 0 13.4 0a6.7 6.7 0 1 0 -13.4 0zM924.5 376.5a6.7 6.7 0 1 0 13.4 0a6.7 6.7 0 1 0 -13.4 0zM926.1 400.2a6.7 6.7 0 1 0 13.4 0a6.7 6.7 0 1 0 -13.4 0zM927.6 397.1a6.7 6.7 0 1 0 13.4 0a6.7 6.7 0 1 0 -13.4 0zM929.2 428.2a6.7 6.7 0 1 0 13.4 0a6.7 6.7 0 1 0 -13.4 0zM930.7 374.5a6.7 6.7 0 1 0 13.4 0a6.7 6.7 0 1 0 -13.4 0zM932.3 397.8a6.7 6.7 0 1 0 13.4 0a6.7 6.7 0 1 0 -13.4 0zM933.9 391.6a6.7 6.7 0 1 0 13.4 0a6.7 6.7 0 1 0 -13.4 0zM935.4 424.4a6.7 6.7 0 1 0 13.4 0a6.7 6.7 0 1 0 -13.4 0zM937 394.5a6.7 6.7 0 1 0 13.4 0a6.7 6.7 0 1 0 -13.4 0zM938.6 430.9a6.7 6.7 0 1 0 13.4 0a6.7 6.7 0 1 0 -13.4 0zM940.1 421.5a6.7 6.7 0 1 0 13.4 0a6.7 6.7 0 1 0 -13.4 0zM941.7 493.4a6.7 6.7 0 1 0 13.4 0a6.7 6.7 0 1 0 -13.4 0z"/>
<path fill="none" stroke="#EDB120" stroke-width="10.2" stroke-linecap="round" d="M153.6 139.7h0M155.1 130.5h0M156.7 161.6h0M158.2 134.2h0M159.8 144.3h0M161.4 161.7h0M162.9 185.3h0M164.5 117.8h0M166.1 149.1h0M167.6 157.8h0M169.2 163.7h0M170.7 151.7h0M172.3 169h0M173.9 179.2h0M175.4 211.8h0M177 136.6h0M178.5 143.5h0M180.1 155.9h0M181.7 177.6h0M183.2 147.4h0M184.8 175.5h0M186.4 167.9h0M187.9 213.3h0M189.5 158.3h0M191 174.5h0M192.6 180.3h0M194.2 211.3h0M195.7 142.9h0M197.3 209h0M198.8 206.8h0M200.4 240.4h0M202 128.1h0M203.5 145.8h0M205.1 160h0M206.7 185.5h0M208.2 151.7h0M209.8 189.4h0M211.3 166.2h0M212.9 217.9h0M214.5 159.7h0M216 168.8h0M217.6 163h0M219.1 212.9h0M220.7 166.2h0M222.3 206.6h0M223.8 208.6h0M225.4 241.8h0M227 154.2h0M228.5 167.7h0M230.1 166.9h0M231.6 214.9h0M233.2 192.7h0M234.8 208.7h0M236.3 207.1h0M237.9 242.4h0M239.4 180.7h0M241 215.2h0M242.6 188.8h0M244.1 242.6h0M245.7 214h0M247.3 239.1h0M248.8 241.2h0M250.4 265.5h0M251.9 135.8h0M253.5 144.2h0M255.1 159.4h0M256.6 182.5h0M258.2 163.1h0M259.8 187.1h0M261.3 179.2h0M262.9 211.2h0M264.4 155.5h0M266 163h0M267.6 178.3h0M269.1 207.7h0M270.7 170.3h0M272.2 209.7h0M273.8 212.5h0M275.4 243.7h0M276.9 159h0M278.5 171.9h0M280.1 187.1h0M281.6 206.3h0M283.2 189.2h0M284.7 216h0M286.3 189.5h0M287.9 246.3h0M289.4 177.6h0M291 213.6h0M292.5 200.7h0M294.1 239.8h0M295.7 210.4h0M297.2 242.2h0M298.8 241.9h0M300.4 274h0M301.9 140.3h0M303.5 174.3h0M305 182.8h0M306.6 189.8h0M308.2 166.9h0M309.7 208.4h0M311.3 210.4h0M312.8 246.7h0M314.4 173.5h0M316 211h0M317.5 194.5h0M319.1 244.8h0M320.7 206.7h0M322.2 230.2h0M323.8 241.8h0M325.3 274.6h0M326.9 186.7h0M328.5 189.4h0M330 215.6h0M331.6 235h0M333.1 209.3h0M334.7 243.5h0M336.3 243.7h0M337.8 275.7h0M339.4 211.3h0M341 241.2h0M342.5 237.2h0M344.1 273h0M345.6 237.5h0M347.2 277h0M348.8 276.4h0M350.3 320.2h0M351.9 128.7h0M353.4 144.9h0M355 140.6h0M356.6 182.7h0M358.1 154.8h0M359.7 172.1h0M361.3 185.2h0M362.8 214.4h0M364.4 145.3h0M365.9 173.3h0M367.5 182.7h0M369.1 189.7h0M370.6 174.9h0M372.2 188.5h0M373.7 192.3h0M375.3 248.6h0M376.9 151.8h0M378.4 165.4h0M380 188.8h0M381.6 205.4h0M383.1 181.4h0M384.7 207.8h0M386.2 202.4h0M387.8 238.8h0M389.4 182.5h0M390.9 210.1h0M392.5 206.2h0M394 243.2h0M395.6 198.1h0M397.2 244.5h0M398.7 240.8h0M400.3 275h0M401.9 145.8h0M403.4 189h0M405 166.2h0M406.5 207.6h0M408.1 178.4h0M409.7 197.8h0M411.2 209.7h0M412.8 241.8h0M414.3 178h0M415.9 211.5h0M417.5 215.1h0M419 247.4h0M420.6 212.7h0M422.2 244.2h0M423.7 229.8h0M425.3 273h0M426.8 181.1h0M428.4 212.1h0M430 189.2h0M431.5 242.8h0M433.1 194.6h0M434.6 244.7h0M436.2 230.2h0M437.8 276h0M439.3 209.8h0M440.9 248.4h0M442.5 243.8h0M444 273.2h0M445.6 242.1h0M447.1 276.4h0M448.7 279.5h0M450.3 314.8h0M451.8 141.7h0M453.4 163.4h0M455 182.6h0M456.5 203.5h0M458.1 187.7h0M459.6 211.6h0M461.2 210.5h0M462.8 244.2h0M464.3 187h0M465.9 215.9h0M467.4 211h0M469 240.1h0M470.6 200.6h0M472.1 246.4h0M473.7 242.3h0M475.3 277h0M476.8 184.6h0M478.4 206.7h0M479.9 211h0M481.5 243.2h0M483.1 207.2h0M484.6 245h0M486.2 243.8h0M487.7 274.6h0M489.3 192.8h0M490.9 244.8h0M492.4 243.6h0M494 275.8h0M495.6 228h0M497.1 273.8h0M498.7 272.4h0M500.2 314h0M501.8 181.2h0M503.4 185.5h0M504.9 205.5h0M506.5 243.5h0M508 198.1h0M509.6 243.8h0M511.2 248.9h0M512.7 278.8h0M514.3 187.3h0M515.9 246.5h0M517.4 240.7h0M519 273.9h0M520.5 238h0M522.1 274.6h0M523.7 257h0M525.2 317.7h0M526.8 216.2h0M528.3 243h0M529.9 245.3h0M531.5 268.8h0M533 237.2h0M534.6 275.5h0M536.2 277h0M537.7 316.9h0M539.3 235.2h0M540.8 276.6h0M542.4 276.4h0M544 316.5h0M545.5 278.2h0M547.1 316h0M548.6 315.5h0M550.2 369.6h0M551.8 149.9h0M553.3 156.7h0M554.9 153.7h0M556.5 182h0M558 160.2h0M559.6 164.8h0M561.1 182.4h0M562.7 215.7h0M564.3 146.8h0M565.8 173.8h0M567.4 179.4h0M568.9 210.1h0M570.5 162.6h0M572.1 208.1h0M573.6 212.7h0M575.2 240.3h0M576.8 162.9h0M578.3 175.9h0M579.9 185h0M581.4 193.2h0M583 180.8h0M584.6 210.3h0M586.1 209.2h0M587.7 242.7h0M589.2 162.7h0M590.8 208.6h0M592.4 203.9h0M593.9 236.2h0M595.5 192.8h0M597.1 239.7h0M598.6 234.8h0M600.2 276.8h0M601.7 162h0M603.3 182.3h0M604.9 187.7h0M606.4 194.8h0M608 189.1h0M609.5 211.8h0M611.1 211.5h0M612.7 242h0M614.2 178.2h0M615.8 192.8h0M617.4 213.9h0M618.9 243h0M620.5 213.8h0M622 242.9h0M623.6 243h0M625.2 280.5h0M626.7 189.3h0M628.3 214.1h0M629.8 209h0M631.4 242.4h0M633 214.7h0M634.5 239.1h0M636.1 241.8h0M637.7 274.4h0M639.2 200.4h0M640.8 243.1h0M642.3 241.5h0M643.9 272.5h0M645.5 244.4h0M647 274.9h0M648.6 275h0M650.2 292.2h0M651.7 159.9h0M653.3 185.5h0M654.8 182.4h0M656.4 196.9h0M658 185.9h0M659.5 206.9h0M661.1 212.9h0M662.6 242.8h0M664.2 179h0M665.8 205.9h0M667.3 208.5h0M668.9 244.8h0M670.5 210.2h0M672 239.6h0M673.6 237.8h0M675.1 274.8h0M676.7 184.8h0M678.3 197.3h0M679.8 210.5h0M681.4 244.8h0M682.9 213.4h0M684.5 243h0M686.1 245.6h0M687.6 275.2h0M689.2 210.5h0M690.8 242h0M692.3 241.7h0M693.9 275.3h0M695.4 234.9h0M697 277.8h0M698.6 275.6h0M700.1 313.1h0M701.7 194.1h0M703.2 211h0M704.8 207.7h0M706.4 240.7h0M707.9 198.8h0M709.5 235.5h0M711.1 242.8h0M712.6 274.8h0M714.2 210.2h0M715.7 246.9h0M717.3 243.9h0M718.9 274.5h0M720.4 242.7h0M722 270.2h0M723.5 273.7h0M725.1 313.6h0M726.7 208.3h0M728.2 243.7h0M729.8 232.9h0M731.4 278.9h0M732.9 241.5h0M734.5 269h0M736 276.6h0M737.6 312.7h0M739.2 242.7h0M740.7 276.3h0M742.3 274.8h0M743.8 297.5h0M745.4 276.4h0M747 317.3h0M748.5 313.7h0M750.1 364.9h0M751.7 152.5h0M753.2 176.8h0M754.8 187.2h0M756.3 213.9h0M757.9 183.4h0M759.5 186.2h0M761 208.4h0M762.6 247.9h0M764.1 162.2h0M765.7 214.7h0M767.3 212h0M768.8 231.8h0M770.4 211.3h0M772 243.6h0M773.5 240.6h0M775.1 260.4h0M776.6 178h0M778.2 213.1h0M779.8 213.8h0M781.3 242.6h0M782.9 215h0M784.4 242.2h0M786 234.6h0M787.6 279.4h0M789.1 208.9h0M790.7 242h0M792.3 241.9h0M793.8 265.7h0M795.4 242.8h0M796.9 273h0M798.5 274.3h0M800.1 312.3h0M801.6 178.7h0M803.2 199.1h0M804.7 213.3h0M806.3 245.8h0M807.9 190.4h0M809.4 245.5h0M811 249.1h0M812.6 277.6h0M814.1 213.8h0M815.7 241.8h0M817.2 236.6h0M818.8 274.4h0M820.4 243.7h0M821.9 275.6h0M823.5 276.8h0M825 311.5h0M826.6 197h0M828.2 242h0M829.7 242.5h0M831.3 278.3h0M832.9 242.3h0M834.4 272.6h0M836 274.2h0M837.5 313h0M839.1 245.3h0M840.7 271.7h0M842.2 272.2h0M843.8 310.5h0M845.4 277.8h0M846.9 315.6h0M848.5 302h0M850 363.3h0M851.6 181.4h0M853.2 196.4h0M854.7 212.7h0M856.3 245.4h0M857.8 191.7h0M859.4 246.4h0M861 239.3h0M862.5 273.3h0M864.1 218.3h0M865.7 239.2h0M867.2 245.5h0M868.8 276.8h0M870.3 236.7h0M871.9 277.8h0M873.5 267.8h0M875 315.2h0M876.6 206.7h0M878.1 243h0M879.7 230.2h0M881.3 274.7h0M882.8 243.4h0M884.4 274.9h0M886 265.1h0M887.5 313.4h0M889.1 244.4h0M890.6 275h0M892.2 277.7h0M893.8 312.4h0M895.3 271.3h0M896.9 320.3h0M898.4 317.6h0M900 364.1h0M901.6 202.7h0M903.1 247.8h0M904.7 246.5h0M906.3 272.9h0M907.8 240.8h0M909.4 274.4h0M910.9 277.2h0M912.5 311.5h0M914.1 250h0M915.6 276.1h0M917.2 272h0M918.7 314.2h0M920.3 277.1h0M921.9 303.2h0M923.4 313.9h0M925 364.6h0M926.6 241h0M928.1 275.3h0M929.7 261.3h0M931.2 313h0M932.8 275.7h0M934.4 313.9h0M935.9 295h0M937.5 364.7h0M939 276.7h0M940.6 316.2h0M942.2 316.2h0M943.7 365.5h0M945.3 308.1h0M946.9 364.5h0M948.4 347.6h0M950 459.8h0"/>
<path fill="none" stroke="#222222" stroke-width="2.5" d="M1182.4 19.4V499H2001.8M1182.4 499v-9M1341.8 499v-9M1501.2 499v-9M1660.7 499v-9M1820.1 499v-9M1979.5 499v-9M1182.4 499h9M1182.4 339.5h9M1182.4 180.1h9M1182.4 20.6h9"/>
<path fill="#0072BD" d="M1182 88.7l8.7 11.6l-8.7 11.6l-8.7 -11.6zM1183.6 88.7l8.7 11.6l-8.7 11.6l-8.7 -11.6zM1185.2 88.7l8.7 11.6l-8.7 11.6l-8.7 -11.6zM1186.8 88.7l8.7 11.6l-8.7 11.6l-8.7 -11.6zM1188.4 88.7l8.7 11.6l-8.7 11.6l-8.7 -11.6zM1190 88.7l8.7 11.6l-8.7 11.6l-8.7 -11.6zM1191.6 88.7l8.7 11.6l-8.7 11.6l-8.7 -11.6zM1193.2 88.7l8.7 11.6l-8.7 11.6l-8.7 -11.6zM1194.8 88.7l8.7 11.6l-8.7 11.6l-8.7 -11.6zM1196.4 88.7l8.7 11.6l-8.7 11.6l-8.7 -11.6zM1198 88.7l8.7 11.6l-8.7 11.6l-8.7 -11.6zM1199.6 88.7l8.7 11.6l-8.7 11.6l-8.7 -11.6zM1201.2 88.7l8.7 11.6l-8.7 11.6l-8.7 -11.6zM1202.7 88.7l8.7 11.6l-8.7 11.6l-8.7 -11.6zM1204.3 88.7l8.7 11.6l-8.7 11.6l-8.7 -11.6zM1205.9 88.7l8.7 11.6l-8.7 11.6l-8.7 -11.6zM1207.5 88.7l8.7 11.6l-8.7 11.6l-8.7 -11.6zM1209.1 88.7l8.7 11.6l-8.7 11.6l-8.7 -11.6zM1210.7 88.7l8.7 11.6l-8.7 11.6l-8.7 -11.6zM1212.3 88.7l8.7 11.6l-8.7 11.6l-8.7 -11.6zM1213.9 88.7l8.7 11.6l-8.7 11.6l-8.7 -11.6zM1215.5 88.7l8.7 11.6l-8.7 11.6l-8.7 -11.6zM1217.1 88.7l8.7 11.6l-8.7 11.6l-8.7 -11.6zM1218.7 88.7l8.7 11.6l-8.7 11.6l-8.7 -11.6zM1220.3 88.7l8.7 11.6l-8.7 11.6l-8.7 -11.6zM1221.9 88.7l8.7 11.6l-8.7 11.6l-8.7 -11.6zM1223.5 88.7l8.7 11.6l-8.7 11.6l-8.7 -11.6zM1225.1 88.7l8.7 11.6l-8.7 11.6l-8.7 -11.6zM1226.7 88.7l8.7 11.6l-8.7 11.6l-8.7 -11.6zM1228.3 88.7l8.7 11.6l-8.7 11.6l-8.7 -11.6zM1229.9 88.7l8.7 11.6l-8.7 11.6l-8.7 -11.6zM1231.5 88.7l8.7 11.6l-8.7 11.6l-8.7 -11.6zM1233.1 88.7l8.7 11.6l-8.7 11.6l-8.7 -11.6zM1234.7 88.7l8.7 11.6l-8.7 11.6l-8.7 -11.6zM1236.3 88.7l8.7 11.6l-8.7 11.6l-8.7 -11.6zM1237.9 88.7l8.7 11.6l-8.7 11.6l-8.7 -11.6zM1239.5 88.7l8.7 11.6l-8.7 11.6l-8.7 -11.6zM1241.1 88.7l8.7 11.6l-8.7 11.6l-8.7 -11.6zM1242.7 88.7l8.7 11.6l-8.7 11.6l-8.7 -11.6zM1244.2 88.7l8.7 11.6l-8.7 11.6l-8.7 -11.6zM1245.8 88.7l8.7 11.6l-8.7 11.6l-8.7 -11.6zM1247.4 88.7l8.7 11.6l-8.7 11.6l-8.7 -11.6zM1249 88.7l8.7 11.6l-8.7 11.6l-8.7 -11.6zM1250.6 88.7l8.7 11.6l-8.7 11.6l-8.7 -11.6zM1252.2 88.7l8.7 11.6l-8.7 11.6l-8.7 -11.6zM1253.8 88.7l8.7 11.6l-8.7 11.6l-8.7 -11.6zM1255.4 88.7l8.7 11.6l-8.7 11.6l-8.7 -11.6zM1257 88.7l8.7 11.6l-8.7 11.6l-8.7 -11.6zM1258.6 88.7l8.7 11.6l-8.7 11.6l-8.7 -11.6zM1260.2 88.7l8.7 11.6l-8.7 11.6l-8.7 -11.6zM1261.8 88.7l8.7 11.6l-8.7 11.6l-8.7 -11.6zM1263.4 88.7l8.7 11.6l-8.7 11.6l-8.7 -11.6zM1265 88.7l8.7 11.6l-8.7 11.6l-8.7 -11.6zM1266.6 88.7l8.7 11.6l-8.7 11.6l-8.7 -11.6zM1268.2 88.7l8.7 11.6l-8.7 11.6l-8.7 -11.6zM1269.8 88.7l8.7 11.6l-8.7 11.6l-8.7 -11.6zM1271.4 88.7l8.7 11.6l-8.7 11.6l-8.7 -11.6zM1273 88.7l8.7 11.6l-8.7 11.6l-8.7 -11.6zM1274.6 88.7l8.7 11.6l-8.7 11.6l-8.7 -11.6zM1276.2 88.7l8.7 11.6l-8.7 11.6l-8.7 -11.6zM1277.8 88.7l8.7 11.6l-8.7 11.6l-8.7 -11.6zM1279.4 88.7l8.7 11.6l-8.7 11.6l-8.7 -11.6zM1281 88.7l8.7 11.6l-8.7 11.6l-8.7 -11.6zM1282.6 88.7l8.7 11.6l-8.7 11.6l-8.7 -11.6zM1284.1 88.7l8.7 11.6l-8.7 11.6l-8.7 -11.6zM1285.7 88.7l8.7 11.6l-8.7 11.6l-8.7 -11.6zM1287.3 88.7l8.7 11.6l-8.7 11.6l-8.7 -11.6zM1288.9 88.7l8.7 11.6l-8.7 11.6l-8.7 -11.6zM1290.5 88.7l8.7 11.6l-8.7 11.6l-8.7 -11.6zM1292.1 88.7l8.7 11.6l-8.7 11.6l-8.7 -11.6zM1293.7 88.7l8.7 11.6l-8.7 11.6l-8.7 -11.6zM1295.3 88.7l8.7 11.6l-8.7 11.6l-8.7 -11.6zM1296.9 88.7l8.7 11.6l-8.7 11.6l-8.7 -11.6zM1298.5 88.7l8.7 11.6l-8.7 11.6l-8.7 -11.6zM1300.1 88.7l8.7 11.6l-8.7 11.6l-8.7 -11.6zM1301.7 88.7l8.7 11.6l-8.7 11.6l-8.7 -11.6zM1303.3 88.7l8.7 11.6l-8.7 11.6l-8.7 -11.6zM1304.9 88.7l8.7 11.6l-8.7 11.6l-8.7 -11.6zM1306.5 88.7l8.7 11.6l-8.7 11.6l-8.7 -11.6zM1308.1 88.7l8.7 11.6l-8.7 11.6l-8.7 -11.6zM1309.7 88.7l8.7 11.6l-8.7 11.6l-8.7 -11.6zM1311.3 88.7l8.7 11.6l-8.7 11.6l-8.7 -11.6zM1312.9 88.7l8.7 11.6l-8.7 11.6l-8.7 -11.6zM1314.5 88.7l8.7 11.6l-8.7 11.6l-8.7 -11.6zM1316.1 88.7l8.7 11.6l-8.7 11.6l-8.7 -11.6zM1317.7 88.7l8.7 11.6l-8.7 11.6l-8.7 -11.6zM1319.3 88.7l8.7 11.6l-8.7 11.6l-8.7 -11.6zM1320.9 88.7l8.7 11.6l-8.7 11.6l-8.7 -11.6zM1322.5 88.7l8.7 11.6l-8.7 11.6l-8.7 -11.6zM1324.1 88.7l8.7 11.6l-8.7 11.6l-8.7 -11.6zM1325.6 88.7l8.7 11.6l-8.7 11.6l-8.7 -11.6zM1327.2 88.7l8.7 11.6l-8.7 11.6l-8.7 -11.6zM1328.8 88.7l8.7 11.6l-8.7 11.6l-8.7 -11.6zM1330.4 88.7l8.7 11.6l-8.7 11.6l-8.7 -11.6zM1332 88.7l8.7 11.6l-8.7 11.6l-8.7 -11.6zM1333.6 88.7l8.7 11.6l-8.7 11.6l-8.7 -11.6zM1335.2 88.7l8.7 11.6l-8.7 11.6l-8.7 -11.6zM1336.8 88.7l8.7 11.6l-8.7 11.6l-8.7 -11.6zM1338.4 88.7l8.7 11.6l-8.7 11.6l-8.7 -11.6zM1340 88.7l8.7 11.6l-8.7 11.6l-8.7 -11.6zM1341.6 88.7l8.7 11.6l-8.7 11.6l-8.7 -11.6zM1343.2 88.7l8.7 11.6l-8.7 11.6l-8.7 -11.6zM1344.8 88.7l8.7 11.6l-8.7 11.6l-8.7 -11.6zM1346.4 88.7l8.7 11.6l-8.7 11.6l-8.7 -11.6zM1348 88.7l8.7 11.6l-8.7 11.6l-8.7 -11.6zM1349.6 88.7l8.7 11.6l-8.7 11.6l-8.7 -11.6zM1351.2 88.7l8.7 11.6l-8.7 11.6l-8.7 -11.6zM1352.8 88.7l8.7 11.6l-8.7 11.6l-8.7 -11.6zM1354.4 88.7l8.7 11.6l-8.7 11.6l-8.7 -11.6zM1356 88.7l8.7 11.6l-8.7 11.6l-8.7 -11.6zM1357.6 88.7l8.7 11.6l-8.7 11.6l-8.7 -11.6zM1359.2 88.7l8.7 11.6l-8.7 11.6l-8.7 -11.6zM1360.8 88.7l8.7 11.6l-8.7 11.6l-8.7 -11.6zM1362.4 88.7l8.7 11.6l-8.7 11.6l-8.7 -11.6zM1364 88.7l8.7 11.6l-8.7 11.6l-8.7 -11.6zM1365.5 88.7l8.7 11.6l-8.7 11.6l-8.7 -11.6zM1367.1 88.7l8.7 11.6l-8.7 11.6l-8.7 -11.6zM1368.7 88.7l8.7 11.6l-8.7 11.6l-8.7 -11.6zM1370.3 88.7l8.7 11.6l-8.7 11.6l-8.7 -11.6zM1371.9 88.7l8.7 11.6l-8.7 11.6l-8.7 -11.6zM1373.5 88.7l8.7 11.6l-8.7 11.6l-8.7 -11.6zM1375.1 88.7l8.7 11.6l-8.7 11.6l-8.7 -11.6zM1376.7 88.7l8.7 11.6l-8.7 11.6l-8.7 -11.6zM1378.3 88.7l8.7 11.6l-8.7 11.6l-8.7 -11.6zM1379.9 88.7l8.7 11.6l-8.7 11.6l-8.7 -11.6zM1381.5 88.7l8.7 11.6l-8.7 11.6l-8.7 -11.6zM1383.1 88.7l8.7 11.6l-8.7 11.6l-8.7 -11.6zM1384.7 88.7l8.7 11.6l-8.7 11.6l-8.7 -11.6zM1386.3 88.7l8.7 11.6l-8.7 11.6l-8.7 -11.6zM1387.9 88.7l8.7 11.6l-8.7 11.6l-8.7 -11.6zM1389.5 88.7l8.7 11.6l-8.7 11.6l-8.7 -11.6zM1391.1 88.7l8.7 11.6l-8.7 11.6l-8.7 -11.6zM1392.7 88.7l8.7 11.6l-8.7 11.6l-8.7 -11.6zM1394.3 88.7l8.7 11.6l-8.7 11.6l-8.7 -11.6zM1395.9 88.7l8.7 11.6l-8.7 11.6l-8.7 -11.6zM1397.5 88.7l8.7 11.6l-8.7 11.6l-8.7 -11.6zM1399.1 88.7l8.7 11.6l-8.7 11.6l-8.7 -11.6zM1400.7 88.7l8.7 11.6l-8.7 11.6l-8.7 -11.6zM1402.3 88.7l8.7 11.6l-8.7 11.6l-8.7 -11.6zM1403.9 88.7l8.7 11.6l-8.7 11.6l-8.7 -11.6zM1405.5 88.7l8.7 11.6l-8.7 11.6l-8.7 -11.6zM1407 88.7l8.7 11.6l-8.7 11.6l-8.7 -11.6zM1408.6 88.7l8.7 11.6l-8.7 11.6l-8.7 -11.6zM1410.2 88.7l8.7 11.6l-8.7 11.6l-8.7 -11.6zM1411.8 88.7l8.7 11.6l-8.7 11.6l-8.7 -11.6zM1413.4 88.7l8.7 11.6l-8.7 11.6l-8.7 -11.6zM1415 88.7l8.7 11.6l-8.7 11.6l-8.7 -11.6zM1416.6 88.7l8.7 11.6l-8.7 11.6l-8.7 -11.6zM1418.2 88.7l8.7 11.6l-8.7 11.6l-8.7 -11.6zM1419.8 88.7l8.7 11.6l-8.7 11.6l-8.7 -11.6zM1421.4 88.7l8.7 11.6l-8.7 11.6l-8.7 -11.6zM1423 88.7l8.7 11.6l-8.7 11.6l-8.7 -11.6zM1424.6 88.7l8.7 11.6l-8.7 11.6l-8.7 -11.6zM1426.2 88.7l8.7 11.6l-8.7 11.6l-8.7 -11.6zM1427.8 88.7l8.7 11.6l-8.7 11.6l-8.7 -11.6zM1429.4 88.7l8.7 11.6l-8.7 11.6l-8.7 -11.6zM1431 88.7l8.7 11.6l-8.7 11.6l-8.7 -11.6zM1432.6 88.7l8.7 11.6l-8.7 11.6l-8.7 -11.6zM1434.2 88.7l8.7 11.6l-8.7 11.6l-8.7 -11.6zM1435.8 88.7l8.7 11.6l-8.7 11.6l-8.7 -11.6zM1437.4 88.7l8.7 11.6l-8.7 11.6l-8.7 -11.6zM1439 88.7l8.7 11.6l-8.7 11.6l-8.7 -11.6zM1440.6 88.7l8.7 11.6l-8.7 11.6l-8.7 -11.6zM1442.2 88.7l8.7 11.6l-8.7 11.6l-8.7 -11.6zM1443.8 88.7l8.7 11.6l-8.7 11.6l-8.7 -11.6zM1445.4 88.7l8.7 11.6l-8.7 11.6l-8.7 -11.6zM1447 88.7l8.7 11.6l-8.7 11.6l-8.7 -11.6zM1448.5 88.7l8.7 11.6l-8.7 11.6l-8.7 -11.6zM1450.1 88.7l8.7 11.6l-8.7 11.6l-8.7 -11.6zM1451.7 88.7l8.7 11.6l-8.7 11.6l-8.7 -11.6zM1453.3 88.7l8.7 11.6l-8.7 11.6l-8.7 -11.6zM1454.9 88.7l8.7 11.6l-8.7 11.6l-8.7 -11.6zM1456.5 88.7l8.7 11.6l-8.7 11.6l-8.7 -11.6zM1458.1 88.7l8.7 11.6l-8.7 11.6l-8.7 -11.6zM1459.7 88.7l8.7 11.6l-8.7 11.6l-8.7 -11.6zM1461.3 88.7l8.7 11.6l-8.7 11.6l-8.7 -11.6zM1462.9 88.7l8.7 11.6l-8.7 11.6l-8.7 -11.6zM1464.5 88.7l8.7 11.6l-8.7 11.6l-8.7 -11.6zM1466.1 88.7l8.7 11.6l-8.7 11.6l-8.7 -11.6zM1467.7 88.7l8.7 11.6l-8.7 11.6l-8.7 -11.6zM1469.3 88.7l8.7 11.6l-8.7 11.6l-8.7 -11.6zM1470.9 88.7l8.7 11.6l-8.7 11.6l-8.7 -11.6zM1472.5 88.7l8.7 11.6l-8.7 11.6l-8.7 -11.6zM1474.1 88.7l8.7 11.6l-8.7 11.6l-8.7 -11.6zM1475.7 88.7l8.7 11.6l-8.7 11.6l-8.7 -11.6zM1477.3 88.7l8.7 11.6l-8.7 11.6l-8.7 -11.6zM1478.9 88.7l8.7 11.6l-8.7 11.6l-8.7 -11.6zM1480.5 88.7l8.7 11.6l-8.7 11.6l-8.7 -11.6zM1482.1 88.7l8.7 11.6l-8.7 11.6l-8.7 -11.6zM1483.7 88.7l8.7 11.6l-8.7 11.6l-8.7 -11.6zM1485.3 88.7l8.7 11.6l-8.7 11.6l-8.7 -11.6zM1486.9 88.7l8.7 11.6l-8.7 11.6l-8.7 -11.6zM1488.4 88.7l8.7 11.6l-8.7 11.6l-8.7 -11.6zM1490 88.7l8.7 11.6l-8.7 11.6l-8.7 -11.6zM1491.6 88.7l8.7 11.6l-8.7 11.6l-8.7 -11.6zM1493.2 88.7l8.7 11.6l-8.7 11.6l-8.7 -11.6zM1494.8 88.7l8.7 11.6l-8.7 11.6l-8.7 -11.6zM1496.4 88.7l8.7 11.6l-8.7 11.6l-8.7 -11.6zM1498 88.7l8.7 11.6l-8.7 11.6l-8.7 -11.6zM1499.6 88.7l8.7 11.6l-8.7 11.6l-8.7 -11.6zM1501.2 88.7l8.7 11.6l-8.7 11.6l-8.7 -11.6zM1502.8 88.7l8.7 11.6l-8.7 11.6l-8.7 -11.6zM1504.4 88.7l8.7 11.6l-8.7 11.6l-8.7 -11.6zM1506 88.7l8.7 11.6l-8.7 11.6l-8.7 -11.6zM1507.6 88.7l8.7 11.6l-8.7 11.6l-8.7 -11.6zM1509.2 88.7l8.7 11.6l-8.7 11.6l-8.7 -11.6zM1510.8 88.7l8.7 11.6l-8.7 11.6l-8.7 -11.6zM1512.4 88.7l8.7 11.6l-8.7 11.6l-8.7 -11.6zM1514 88.7l8.7 11.6l-8.7 11.6l-8.7 -11.6zM1515.6 88.7l8.7 11.6l-8.7 11.6l-8.7 -11.6zM1517.2 88.7l8.7 11.6l-8.7 11.6l-8.7 -11.6zM1518.8 88.7l8.7 11.6l-8.7 11.6l-8.7 -11.6zM1520.4 88.7l8.7 11.6l-8.7 11.6l-8.7 -11.6zM1522 88.7l8.7 11.6l-8.7 11.6l-8.7 -11.6zM1523.6 88.7l8.7 11.6l-8.7 11.6l-8.7 -11.6zM1525.2 88.7l8.7 11.6l-8.7 11.6l-8.7 -11.6zM1526.8 88.7l8.7 11.6l-8.7 11.6l-8.7 -11.6zM1528.4 88.7l8.7 11.6l-8.7 11.6l-8.7 -11.6zM1529.9 88.7l8.7 11.6l-8.7 11.6l-8.7 -11.6zM1531.5 88.7l8.7 11.6l-8.7 11.6l-8.7 -11.6zM1533.1 88.7l8.7 11.6l-8.7 11.6l-8.7 -11.6zM1534.7 88.7l8.7 11.6l-8.7 11.6l-8.7 -11.6zM1536.3 88.7l8.7 11.6l-8.7 11.6l-8.7 -11.6zM1537.9 88.7l8.7 11.6l-8.7 11.6l-8.7 -11.6zM1539.5 88.7l8.7 11.6l-8.7 11.6l-8.7 -11.6zM1541.1 88.7l8.7 11.6l-8.7 11.6l-8.7 -11.6zM1542.7 88.7l8.7 11.6l-8.7 11.6l-8.7 -11.6zM1544.3 88.7l8.7 11.6l-8.7 11.6l-8.7 -11.6zM1545.9 88.7l8.7 11.6l-8.7 11.6l-8.7 -11.6zM1547.5 88.7l8.7 11.6l-8.7 11.6l-8.7 -11.6zM1549.1 88.7l8.7 11.6l-8.7 11.6l-8.7 -11.6zM1550.7 88.7l8.7 11.6l-8.7 11.6l-8.7 -11.6zM1552.3 88.7l8.7 11.6l-8.7 11.6l-8.7 -11.6zM1553.9 88.7l8.7 11.6l-8.7 11.6l-8.7 -11.6zM1555.5 88.7l8.7 11.6l-8.7 11.6l-8.7 -11.6zM1557.1 88.7l8.7 11.6l-8.7 11.6l-8.7 -11.6zM1558.7 88.7l8.7 11.6l-8.7 11.6l-8.7 -11.6zM1560.3 88.7l8.7 11.6l-8.7 11.6l-8.7 -11.6zM1561.9 88.7l8.7 11.6l-8.7 11.6l-8.7 -11.6zM1563.5 88.7l8.7 11.6l-8.7 11.6l-8.7 -11.6zM1565.1 88.7l8.7 11.6l-8.7 11.6l-8.7 -11.6zM1566.7 88.7l8.7 11.6l-8.7 11.6l-8.7 -11.6zM1568.3 88.7l8.7 11.6l-8.7 11.6l-8.7 -11.6zM1569.8 88.7l8.7 11.6l-8.7 11.6l-8.7 -11.6zM1571.4 88.7l8.7 11.6l-8.7 11.6l-8.7 -11.6zM1573 88.7l8.7 11.6l-8.7 11.6l-8.7 -11.6zM1574.6 88.7l8.7 11.6l-8.7 11.6l-8.7 -11.6zM1576.2 88.7l8.7 11.6l-8.7 11.6l-8.7 -11.6zM1577.8 88.7l8.7 11.6l-8.7 11.6l-8.7 -11.6zM1579.4 88.7l8.7 11.6l-8.7 11.6l-8.7 -11.6zM1581 88.7l8.7 11.6l-8.7 11.6l-8.7 -11.6zM1582.6 88.7l8.7 11.6l-8.7 11.6l-8.7 -11.6zM1584.2 88.7l8.7 11.6l-8.7 11.6l-8.7 -11.6zM1585.8 88.7l8.7 11.6l-8.7 11.6l-8.7 -11.6zM1587.4 88.7l8.7 11.6l-8.7 11.6l-8.7 -11.6zM1589 88.7l8.7 11.6l-8.7 11.6l-8.7 -11.6zM1590.6 88.7l8.7 11.6l-8.7 11.6l-8.7 -11.6zM1592.2 88.7l8.7 11.6l-8.7 11.6l-8.7 -11.6zM1593.8 88.7l8.7 11.6l-8.7 11.6l-8.7 -11.6zM1595.4 88.7l8.7 11.6l-8.7 11.6l-8.7 -11.6zM1597 88.7l8.7 11.6l-8.7 11.6l-8.7 -11.6zM1598.6 88.7l8.7 11.6l-8.7 11.6l-8.7 -11.6zM1600.2 88.7l8.7 11.6l-8.7 11.6l-8.7 -11.6zM1601.8 88.7l8.7 11.6l-8.7 11.6l-8.7 -11.6zM1603.4 88.7l8.7 11.6l-8.7 11.6l-8.7 -11.6zM1605 88.7l8.7 11.6l-8.7 11.6l-8.7 -11.6zM1606.6 88.7l8.7 11.6l-8.7 11.6l-8.7 -11.6zM1608.2 88.7l8.7 11.6l-8.7 11.6l-8.7 -11.6zM1609.8 88.7l8.7 11.6l-8.7 11.6l-8.7 -11.6zM1611.3 88.7l8.7 11.6l-8.7 11.6l-8.7 -11.6zM1612.9 88.7l8.7 11.6l-8.7 11.6l-8.7 -11.6zM1614.5 88.7l8.7 11.6l-8.7 11.6l-8.7 -11.6zM1616.1 88.7l8.7 11.6l-8.7 11.6l-8.7 -11.6zM1617.7 88.7l8.7 11.6l-8.7 11.6l-8.7 -11.6zM1619.3 88.7l8.7 11.6l-8.7 11.6l-8.7 -11.6zM1620.9 88.7l8.7 11.6l-8.7 11.6l-8.7 -11.6zM1622.5 88.7l8.7 11.6l-8.7 11.6l-8.7 -11.6zM1624.1 88.7l8.7 11.6l-8.7 11.6l-8.7 -11.6zM1625.7 88.7l8.7 11.6l-8.7 11.6l-8.7 -11.6zM1627.3 88.7l8.7 11.6l-8.7 11.6l-8.7 -11.6zM1628.9 88.7l8.7 11.6l-8.7 11.6l-8.7 -11.6zM1630.5 88.7l8.7 11.6l-8.7 11.6l-8.7 -11.6zM1632.1 88.7l8.7 11.6l-8.7 11.6l-8.7 -11.6zM1633.7 88.7l8.7 11.6l-8.7 11.6l-8.7 -11.6zM1635.3 88.7l8.7 11.6l-8.7 11.6l-8.7 -11.6zM1636.9 88.7l8.7 11.6l-8.7 11.6l-8.7 -11.6zM1638.5 88.7l8.7 11.6l-8.7 11.6l-8.7 -11.6zM1640.1 88.7l8.7 11.6l-8.7 11.6l-8.7 -11.6zM1641.7 88.7l8.7 11.6l-8.7 11.6l-8.7 -11.6zM1643.3 88.7l8.7 11.6l-8.7 11.6l-8.7 -11.6zM1644.9 88.7l8.7 11.6l-8.7 11.6l-8.7 -11.6zM1646.5 88.7l8.7 11.6l-8.7 11.6l-8.7 -11.6zM1648.1 88.7l8.7 11.6l-8.7 11.6l-8.7 -11.6zM1649.7 88.7l8.7 11.6l-8.7 11.6l-8.7 -11.6zM1651.2 88.7l8.7 11.6l-8.7 11.6l-8.7 -11.6zM1652.8 88.7l8.7 11.6l-8.7 11.6l-8.7 -11.6zM1654.4 88.7l8.7 11.6l-8.7 11.6l-8.7 -11.6zM1656 88.7l8.7 11.6l-8.7 11.6l-8.7 -11.6zM1657.6 88.7l8.7 11.6l-8.7 11.6l-8.7 -11.6zM1659.2 88.7l8.7 11.6l-8.7 11.6l-8.7 -11.6zM1660.8 88.7l8.7 11.6l-8.7 11.6l-8.7 -11.6zM1662.4 88.7l8.7 11.6l-8.7 11.6l-8.7 -11.6zM1664 88.7l8.7 11.6l-8.7 11.6l-8.7 -11.6zM1665.6 88.7l8.7 11.6l-8.7 11.6l-8.7 -11.6zM1667.2 88.7l8.7 11.6l-8.7 11.6l-8.7 -11.6zM1668.8 88.7l8.7 11.6l-8.7 11.6l-8.7 -11.6zM1670.4 88.7l8.7 11.6l-8.7 11.6l-8.7 -11.6zM1672 88.7l8.7 11.6l-8.7 11.6l-8.7 -11.6zM1673.6 88.7l8.7 11.6l-8.7 11.6l-8.7 -11.6zM1675.2 88.7l8.7 11.6l-8.7 11.6l-8.7 -11.6zM1676.8 88.7l8.7 11.6l-8.7 11.6l-8.7 -11.6zM1678.4 88.7l8.7 11.6l-8.7 11.6l-8.7 -11.6zM1680 88.7l8.7 11.6l-8.7 11.6l-8.7 -11.6zM1681.6 88.7l8.7 11.6l-8.7 11.6l-8.7 -11.6zM1683.2 88.7l8.7 11.6l-8.7 11.6l-8.7 -11.6zM1684.8 88.7l8.7 11.6l-8.7 11.6l-8.7 -11.6zM1686.4 88.7l8.7 11.6l-8.7 11.6l-8.7 -11.6zM1688 88.7l8.7 11.6l-8.7 11.6l-8.7 -11.6zM1689.6 88.7l8.7 11.6l-8.7 11.6l-8.7 -11.6zM1691.2 88.7l8.7 11.6l-8.7 11.6l-8.7 -11.6zM1692.7 88.7l8.7 11.6l-8.7 11.6l-8.7 -11.6zM1694.3 88.7l8.7 11.6l-8.7 11.6l-8.7 -11.6zM1695.9 88.7l8.7 11.6l-8.7 11.6l-8.7 -11.6zM1697.5 88.7l8.7 11.6l-8.7 11.6l-8.7 -11.6zM1699.1 88.7l8.7 11.6l-8.7 11.6l-8.7 -11.6zM1700.7 88.7l8.7 11.6l-8.7 11.6l-8.7 -11.6zM1702.3 88.7l8.7 11.6l-8.7 11.6l-8.7 -11.6zM1703.9 88.7l8.7 11.6l-8.7 11.6l-8.7 -11.6zM1705.5 88.7l8.7 11.6l-8.7 11.6l-8.7 -11.6zM1707.1 88.7l8.7 11.6l-8.7 11.6l-8.7 -11.6zM1708.7 88.7l8.7 11.6l-8.7 11.6l-8.7 -11.6zM1710.3 88.7l8.7 11.6l-8.7 11.6l-8.7 -11.6zM1711.9 88.7l8.7 11.6l-8.7 11.6l-8.7 -11.6zM1713.5 88.7l8.7 11.6l-8.7 11.6l-8.7 -11.6zM1715.1 88.7l8.7 11.6l-8.7 11.6l-8.7 -11.6zM1716.7 88.7l8.7 11.6l-8.7 11.6l-8.7 -11.6zM1718.3 88.7l8.7 11.6l-8.7 11.6l-8.7 -11.6zM1719.9 88.7l8.7 11.6l-8.7 11.6l-8.7 -11.6zM1721.5 88.7l8.7 11.6l-8.7 11.6l-8.7 -11.6zM1723.1 88.7l8.7 11.6l-8.7 11.6l-8.7 -11.6zM1724.7 88.7l8.7 11.6l-8.7 11.6l-8.7 -11.6zM1726.3 88.7l8.7 11.6l-8.7 11.6l-8.7 -11.6zM1727.9 88.7l8.7 11.6l-8.7 11.6l-8.7 -11.6zM1729.5 88.7l8.7 11.6l-8.7 11.6l-8.7 -11.6zM1731.1 88.7l8.7 11.6l-8.7 11.6l-8.7 -11.6zM1732.6 88.7l8.7 11.6l-8.7 11.6l-8.7 -11.6zM1734.2 88.7l8.7 11.6l-8.7 11.6l-8.7 -11.6zM1735.8 88.7l8.7 11.6l-8.7 11.6l-8.7 -11.6zM1737.4 88.7l8.7 11.6l-8.7 11.6l-8.7 -11.6zM1739 88.7l8.7 11.6l-8.7 11.6l-8.7 -11.6zM1740.6 88.7l8.7 11.6l-8.7 11.6l-8.7 -11.6zM1742.2 88.7l8.7 11.6l-8.7 11.6l-8.7 -11.6zM1743.8 88.7l8.7 11.6l-8.7 11.6l-8.7 -11.6zM1745.4 88.7l8.7 11.6l-8.7 11.6l-8.7 -11.6zM1747 88.7l8.7 11.6l-8.7 11.6l-8.7 -11.6zM1748.6 88.7l8.7 11.6l-8.7 11.6l-8.7 -11.6zM1750.2 88.7l8.7 11.6l-8.7 11.6l-8.7 -11.6zM1751.8 88.7l8.7 11.6l-8.7 11.6l-8.7 -11.6zM1753.4 88.7l8.7 11.6l-8.7 11.6l-8.7 -11.6zM1755 88.7l8.7 11.6l-8.7 11.6l-8.7 -11.6zM1756.6 88.7l8.7 11.6l-8.7 11.6l-8.7 -11.6zM1758.2 88.7l8.7 11.6l-8.7 11.6l-8.7 -11.6zM1759.8 88.7l8.7 11.6l-8.7 11.6l-8.7 -11.6zM1761.4 88.7l8.7 11.6l-8.7 11.6l-8.7 -11.6zM1763 88.7l8.7 11.6l-8.7 11.6l-8.7 -11.6zM1764.6 88.7l8.7 11.6l-8.7 11.6l-8.7 -11.6zM1766.2 88.7l8.7 11.6l-8.7 11.6l-8.7 -11.6zM1767.8 88.7l8.7 11.6l-8.7 11.6l-8.7 -11.6zM1769.4 88.7l8.7 11.6l-8.7 11.6l-8.7 -11.6zM1771 88.7l8.7 11.6l-8.7 11.6l-8.7 -11.6zM1772.6 88.7l8.7 11.6l-8.7 11.6l-8.7 -11.6zM1774.1 88.7l8.7 11.6l-8.7 11.6l-8.7 -11.6zM1775.7 88.7l8.7 11.6l-8.7 11.6l-8.7 -11.6zM1777.3 88.7l8.7 11.6l-8.7 11.6l-8.7 -11.6zM1778.9 88.7l8.7 11.6l-8.7 11.6l-8.7 -11.6zM1780.5 88.7l8.7 11.6l-8.7 11.6l-8.7 -11.6zM1782.1 88.7l8.7 11.6l-8.7 11.6l-8.7 -11.6zM1783.7 88.7l8.7 11.6l-8.7 11.6l-8.7 -11.6zM1785.3 88.7l8.7 11.6l-8.7 11.6l-8.7 -11.6zM1786.9 88.7l8.7 11.6l-8.7 11.6l-8.7 -11.6zM1788.5 88.7l8.7 11.6l-8.7 11.6l-8.7 -11.6zM1790.1 88.7l8.7 11.6l-8.7 11.6l-8.7 -11.6zM1791.7 88.7l8.7 11.6l-8.7 11.6l-8.7 -11.6zM1793.3 88.7l8.7 11.6l-8.7 11.6l-8.7 -11.6zM1794.9 88.7l8.7 11.6l-8.7 11.6l-8.7 -11.6zM1796.5 88.7l8.7 11.6l-8.7 11.6l-8.7 -11.6zM1798.1 88.7l8.7 11.6l-8.7 11.6l-8.7 -11.6zM1799.7 88.7l8.7 11.6l-8.7 11.6l-8.7 -11.6zM1801.3 88.7l8.7 11.6l-8.7 11.6l-8.7 -11.6zM1802.9 88.7l8.7 11.6l-8.7 11.6l-8.7 -11.6zM1804.5 88.7l8.7 11.6l-8.7 11.6l-8.7 -11.6zM1806.1 88.7l8.7 11.6l-8.7 11.6l-8.7 -11.6zM1807.7 88.7l8.7 11.6l-8.7 11.6l-8.7 -11.6zM1809.3 88.7l8.7 11.6l-8.7 11.6l-8.7 -11.6zM1810.9 88.7l8.7 11.6l-8.7 11.6l-8.7 -11.6zM1812.5 88.7l8.7 11.6l-8.7 11.6l-8.7 -11.6zM1814.1 88.7l8.7 11.6l-8.7 11.6l-8.7 -11.6zM1815.6 88.7l8.7 11.6l-8.7 11.6l-8.7 -11.6zM1817.2 88.7l8.7 11.6l-8.7 11.6l-8.7 -11.6zM1818.8 88.7l8.7 11.6l-8.7 11.6l-8.7 -11.6zM1820.4 88.7l8.7 11.6l-8.7 11.6l-8.7 -11.6zM1822 88.7l8.7 11.6l-8.7 11.6l-8.7 -11.6zM1823.6 88.7l8.7 11.6l-8.7 11.6l-8.7 -11.6zM1825.2 88.7l8.7 11.6l-8.7 11.6l-8.7 -11.6zM1826.8 88.7l8.7 11.6l-8.7 11.6l-8.7 -11.6zM1828.4 88.7l8.7 11.6l-8.7 11.6l-8.7 -11.6zM1830 88.7l8.7 11.6l-8.7 11.6l-8.7 -11.6zM1831.6 88.7l8.7 11.6l-8.7 11.6l-8.7 -11.6zM1833.2 88.7l8.7 11.6l-8.7 11.6l-8.7 -11.6zM1834.8 88.7l8.7 11.6l-8.7 11.6l-8.7 -11.6zM1836.4 88.7l8.7 11.6l-8.7 11.6l-8.7 -11.6zM1838 88.7l8.7 11.6l-8.7 11.6l-8.7 -11.6zM1839.6 88.7l8.7 11.6l-8.7 11.6l-8.7 -11.6zM1841.2 88.7l8.7 11.6l-8.7 11.6l-8.7 -11.6zM1842.8 88.7l8.7 11.6l-8.7 11.6l-8.7 -11.6zM1844.4 88.7l8.7 11.6l-8.7 11.6l-8.7 -11.6zM1846 88.7l8.7 11.6l-8.7 11.6l-8.7 -11.6zM1847.6 88.7l8.7 11.6l-8.7 11.6l-8.7 -11.6zM1849.2 88.7l8.7 11.6l-8.7 11.6l-8.7 -11.6zM1850.8 88.7l8.7 11.6l-8.7 11.6l-8.7 -11.6zM1852.4 88.7l8.7 11.6l-8.7 11.6l-8.7 -11.6zM1854 88.7l8.7 11.6l-8.7 11.6l-8.7 -11.6zM1855.5 88.7l8.7 11.6l-8.7 11.6l-8.7 -11.6zM1857.1 88.7l8.7 11.6l-8.7 11.6l-8.7 -11.6zM1858.7 88.7l8.7 11.6l-8.7 11.6l-8.7 -11.6zM1860.3 88.7l8.7 11.6l-8.7 11.6l-8.7 -11.6zM1861.9 88.7l8.7 11.6l-8.7 11.6l-8.7 -11.6zM1863.5 88.7l8.7 11.6l-8.7 11.6l-8.7 -11.6zM1865.1 88.7l8.7 11.6l-8.7 11.6l-8.7 -11.6zM1866.7 88.7l8.7 11.6l-8.7 11.6l-8.7 -11.6zM1868.3 88.7l8.7 11.6l-8.7 11.6l-8.7 -11.6zM1869.9 88.7l8.7 11.6l-8.7 11.6l-8.7 -11.6zM1871.5 88.7l8.7 11.6l-8.7 11.6l-8.7 -11.6zM1873.1 88.7l8.7 11.6l-8.7 11.6l-8.7 -11.6zM1874.7 88.7l8.7 11.6l-8.7 11.6l-8.7 -11.6zM1876.3 88.7l8.7 11.6l-8.7 11.6l-8.7 -11.6zM1877.9 88.7l8.7 11.6l-8.7 11.6l-8.7 -11.6zM1879.5 88.7l8.7 11.6l-8.7 11.6l-8.7 -11.6zM1881.1 88.7l8.7 11.6l-8.7 11.6l-8.7 -11.6zM1882.7 88.7l8.7 11.6l-8.7 11.6l-8.7 -11.6zM1884.3 88.7l8.7 11.6l-8.7 11.6l-8.7 -11.6zM1885.9 88.7l8.7 11.6l-8.7 11.6l-8.7 -11.6zM1887.5 88.7l8.7 11.6l-8.7 11.6l-8.7 -11.6zM1889.1 88.7l8.7 11.6l-8.7 11.6l-8.7 -11.6zM1890.7 88.7l8.7 11.6l-8.7 11.6l-8.7 -11.6zM1892.3 88.7l8.7 11.6l-8.7 11.6l-8.7 -11.6zM1893.9 88.7l8.7 11.6l-8.7 11.6l-8.7 -11.6zM1895.5 88.7l8.7 11.6l-8.7 11.6l-8.7 -11.6zM1897 88.7l8.7 11.6l-8.7 11.6l-8.7 -11.6zM1898.6 88.7l8.7 11.6l-8.7 11.6l-8.7 -11.6zM1900.2 88.7l8.7 11.6l-8.7 11.6l-8.7 -11.6zM1901.8 88.7l8.7 11.6l-8.7 11.6l-8.7 -11.6zM1903.4 88.7l8.7 11.6l-8.7 11.6l-8.7 -11.6zM1905 88.7l8.7 11.6l-8.7 11.6l-8.7 -11.6zM1906.6 88.7l8.7 11.6l-8.7 11.6l-8.7 -11.6zM1908.2 88.7l8.7 11.6l-8.7 11.6l-8.7 -11.6zM1909.8 88.7l8.7 11.6l-8.7 11.6l-8.7 -11.6zM1911.4 88.7l8.7 11.6l-8.7 11.6l-8.7 -11.6zM1913 88.7l8.7 11.6l-8.7 11.6l-8.7 -11.6zM1914.6 88.7l8.7 11.6l-8.7 11.6l-8.7 -11.6zM1916.2 88.7l8.7 11.6l-8.7 11.6l-8.7 -11.6zM1917.8 88.7l8.7 11.6l-8.7 11.6l-8.7 -11.6zM1919.4 88.7l8.7 11.6l-8.7 11.6l-8.7 -11.6zM1921 88.7l8.7 11.6l-8.7 11.6l-8.7 -11.6zM1922.6 88.7l8.7 11.6l-8.7 11.6l-8.7 -11.6zM1924.2 88.7l8.7 11.6l-8.7 11.6l-8.7 -11.6zM1925.8 88.7l8.7 11.6l-8.7 11.6l-8.7 -11.6zM1927.4 88.7l8.7 11.6l-8.7 11.6l-8.7 -11.6zM1929 88.7l8.7 11.6l-8.7 11.6l-8.7 -11.6zM1930.6 88.7l8.7 11.6l-8.7 11.6l-8.7 -11.6zM1932.2 88.7l8.7 11.6l-8.7 11.6l-8.7 -11.6zM1933.8 88.7l8.7 11.6l-8.7 11.6l-8.7 -11.6zM1935.4 88.7l8.7 11.6l-8.7 11.6l-8.7 -11.6zM1936.9 88.7l8.7 11.6l-8.7 11.6l-8.7 -11.6zM1938.5 88.7l8.7 11.6l-8.7 11.6l-8.7 -11.6zM1940.1 88.7l8.7 11.6l-8.7 11.6l-8.7 -11.6zM1941.7 88.7l8.7 11.6l-8.7 11.6l-8.7 -11.6zM1943.3 88.7l8.7 11.6l-8.7 11.6l-8.7 -11.6zM1944.9 88.7l8.7 11.6l-8.7 11.6l-8.7 -11.6zM1946.5 88.7l8.7 11.6l-8.7 11.6l-8.7 -11.6zM1948.1 88.7l8.7 11.6l-8.7 11.6l-8.7 -11.6zM1949.7 88.7l8.7 11.6l-8.7 11.6l-8.7 -11.6zM1951.3 88.7l8.7 11.6l-8.7 11.6l-8.7 -11.6zM1952.9 88.7l8.7 11.6l-8.7 11.6l-8.7 -11.6zM1954.5 88.7l8.7 11.6l-8.7 11.6l-8.7 -11.6zM1956.1 88.7l8.7 11.6l-8.7 11.6l-8.7 -11.6zM1957.7 88.7l8.7 11.6l-8.7 11.6l-8.7 -11.6zM1959.3 88.7l8.7 11.6l-8.7 11.6l-8.7 -11.6zM1960.9 88.7l8.7 11.6l-8.7 11.6l-8.7 -11.6zM1962.5 88.7l8.7 11.6l-8.7 11.6l-8.7 -11.6zM1964.1 88.7l8.7 11.6l-8.7 11.6l-8.7 -11.6zM1965.7 88.7l8.7 11.6l-8.7 11.6l-8.7 -11.6zM1967.3 88.7l8.7 11.6l-8.7 11.6l-8.7 -11.6zM1968.9 88.7l8.7 11.6l-8.7 11.6l-8.7 -11.6zM1970.5 88.7l8.7 11.6l-8.7 11.6l-8.7 -11.6zM1972.1 88.7l8.7 11.6l-8.7 11.6l-8.7 -11.6zM1973.7 88.7l8.7 11.6l-8.7 11.6l-8.7 -11.6zM1975.3 88.7l8.7 11.6l-8.7 11.6l-8.7 -11.6zM1976.9 88.7l8.7 11.6l-8.7 11.6l-8.7 -11.6zM1978.4 88.7l8.7 11.6l-8.7 11.6l-8.7 -11.6zM1980 88.7l8.7 11.6l-8.7 11.6l-8.7 -11.6zM1981.6 88.7l8.7 11.6l-8.7 11.6l-8.7 -11.6zM1983.2 88.7l8.7 11.6l-8.7 11.6l-8.7 -11.6zM1984.8 88.7l8.7 11.6l-8.7 11.6l-8.7 -11.6zM1986.4 88.7l8.7 11.6l-8.7 11.6l-8.7 -11.6zM1988 88.7l8.7 11.6l-8.7 11.6l-8.7 -11.6zM1989.6 88.7l8.7 11.6l-8.7 11.6l-8.7 -11.6zM1991.2 88.7l8.7 11.6l-8.7 11.6l-8.7 -11.6zM1992.8 88.7l8.7 11.6l-8.7 11.6l-8.7 -11.6zM1994.4 88.7l8.7 11.6l-8.7 11.6l-8.7 -11.6zM1996 88.7l8.7 11.6l-8.7 11.6l-8.7 -11.6zM1997.6 88.7l8.7 11.6l-8.7 11.6l-8.7 -11.6z"/>
<path fill="none" stroke="#222222" stroke-width="2.5" d="M1181.2 20.6H2000.6V500.2M1182.4 20.6v9M1341.8 20.6v9M1501.2 20.6v9M1660.7 20.6v9M1820.1 20.6v9M1979.5 20.6v9M2000.6 499h-9M2000.6 339.5h-9M2000.6 180.1h-9M2000.6 20.6h-9"/>
<path fill="none" stroke="#EDB120" stroke-width="10.5" stroke-linecap="round" d="M1182.4 132.4h0M1184 172.1h0M1185.6 173.4h0M1187.2 202.3h0M1188.8 178h0M1190.4 188.2h0M1192 204.9h0M1193.6 219.6h0M1195.2 179.9h0M1196.7 189.9h0M1198.3 210.4h0M1199.9 232.5h0M1201.5 203.6h0M1203.1 234.3h0M1204.7 238.2h0M1206.3 253.8h0M1207.9 183.3h0M1209.5 208.9h0M1211.1 196.7h0M1212.7 235.6h0M1214.3 206.6h0M1215.9 216.2h0M1217.5 232.5h0M1219.1 256.8h0M1220.7 206.9h0M1222.3 200.7h0M1223.8 199.2h0M1225.4 254.4h0M1227 230.4h0M1228.6 254.4h0M1230.2 231.5h0M1231.8 286.1h0M1233.4 167h0M1235 212h0M1236.6 187.6h0M1238.2 239.5h0M1239.8 198.2h0M1241.4 230.1h0M1243 238h0M1244.6 260.8h0M1246.2 196.3h0M1247.8 233.3h0M1249.4 227.1h0M1251 256.1h0M1252.5 223.5h0M1254.1 241.4h0M1255.7 259.1h0M1257.3 288.2h0M1258.9 197.6h0M1260.5 231.7h0M1262.1 237.1h0M1263.7 244.8h0M1265.3 223.3h0M1266.9 245.8h0M1268.5 242.8h0M1270.1 271.5h0M1271.7 227.7h0M1273.3 257.8h0M1274.9 262.9h0M1276.5 286h0M1278.1 260h0M1279.6 265.7h0M1281.2 266.7h0M1282.8 314.2h0M1284.4 185.2h0M1286 210.2h0M1287.6 205.3h0M1289.2 217.5h0M1290.8 209.3h0M1292.4 202.1h0M1294 199.5h0M1295.6 249.6h0M1297.2 198.2h0M1298.8 223.8h0M1300.4 239h0M1302 262.1h0M1303.6 221.1h0M1305.2 247.5h0M1306.7 263.6h0M1308.3 262h0M1309.9 191.2h0M1311.5 226h0M1313.1 236.2h0M1314.7 235.4h0M1316.3 217.9h0M1317.9 239.1h0M1319.5 259.9h0M1321.1 276.5h0M1322.7 206.8h0M1324.3 243.2h0M1325.9 252.8h0M1327.5 287.3h0M1329.1 260.8h0M1330.7 270.8h0M1332.3 283.6h0M1333.8 298.2h0M1335.4 188h0M1337 229.7h0M1338.6 235.8h0M1340.2 247.7h0M1341.8 236h0M1343.4 238.6h0M1345 262.2h0M1346.6 277.6h0M1348.2 237h0M1349.8 249.8h0M1351.4 254.7h0M1353 270h0M1354.6 250.5h0M1356.2 286.3h0M1357.8 278.7h0M1359.4 310.2h0M1361 228.8h0M1362.5 257h0M1364.1 247.3h0M1365.7 261.5h0M1367.3 257.1h0M1368.9 284.2h0M1370.5 278.6h0M1372.1 316.3h0M1373.7 259.6h0M1375.3 288.5h0M1376.9 273.9h0M1378.5 316.7h0M1380.1 281.7h0M1381.7 299h0M1383.3 315.8h0M1384.9 349.1h0M1386.5 180.9h0M1388.1 201.6h0M1389.6 195.9h0M1391.2 234.3h0M1392.8 203.3h0M1394.4 233.9h0M1396 221.2h0M1397.6 235.6h0M1399.2 203.2h0M1400.8 231.7h0M1402.4 234.4h0M1404 245.5h0M1405.6 236.1h0M1407.2 230.7h0M1408.8 264h0M1410.4 286.8h0M1412 183.3h0M1413.6 239.1h0M1415.2 208.6h0M1416.7 239.2h0M1418.3 237.6h0M1419.9 235.1h0M1421.5 259.5h0M1423.1 287.6h0M1424.7 234.6h0M1426.3 245.3h0M1427.9 241.7h0M1429.5 288h0M1431.1 257.3h0M1432.7 290.2h0M1434.3 286.8h0M1435.9 320.1h0M1437.5 189.2h0M1439.1 237.5h0M1440.7 201.1h0M1442.3 259.6h0M1443.8 204.5h0M1445.4 261.1h0M1447 258.9h0M1448.6 285.9h0M1450.2 239.5h0M1451.8 248h0M1453.4 230.6h0M1455 268.8h0M1456.6 253.5h0M1458.2 286.5h0M1459.8 267.9h0M1461.4 314.6h0M1463 200.6h0M1464.6 249.1h0M1466.2 255h0M1467.8 290.8h0M1469.4 249.4h0M1471 287.2h0M1472.5 265.1h0M1474.1 315.6h0M1475.7 258.3h0M1477.3 271.9h0M1478.9 275.7h0M1480.5 299.1h0M1482.1 289.3h0M1483.7 299.9h0M1485.3 308h0M1486.9 348.7h0M1488.5 192.3h0M1490.1 214.6h0M1491.7 238.5h0M1493.3 261.2h0M1494.9 226.8h0M1496.5 246.4h0M1498.1 255.6h0M1499.6 263.4h0M1501.2 241.5h0M1502.8 253.1h0M1504.4 230.1h0M1506 280.3h0M1507.6 237.3h0M1509.2 277.2h0M1510.8 282.7h0M1512.4 310.3h0M1514 215.6h0M1515.6 246.7h0M1517.2 257.7h0M1518.8 284.4h0M1520.4 255.6h0M1522 286h0M1523.6 260.7h0M1525.2 319.1h0M1526.7 254h0M1528.3 283.6h0M1529.9 287.5h0M1531.5 317.1h0M1533.1 278.7h0M1534.7 318.8h0M1536.3 320h0M1537.9 347.4h0M1539.5 205.5h0M1541.1 251.7h0M1542.7 245.9h0M1544.3 286.3h0M1545.9 237.5h0M1547.5 287.2h0M1549.1 284.7h0M1550.7 315.4h0M1552.3 227.1h0M1553.8 284.1h0M1555.4 276.4h0M1557 320.8h0M1558.6 279.2h0M1560.2 304.8h0M1561.8 299.4h0M1563.4 345.9h0M1565 262.1h0M1566.6 263.6h0M1568.2 286.9h0M1569.8 310.5h0M1571.4 277.4h0M1573 306.7h0M1574.6 311.3h0M1576.2 350.1h0M1577.8 284h0M1579.4 318.4h0M1581 316.1h0M1582.5 349.7h0M1584.1 307h0M1585.7 349.6h0M1587.3 352.5h0M1588.9 395.3h0M1590.5 169.7h0M1592.1 196.8h0M1593.7 199.3h0M1595.3 217h0M1596.9 211.3h0M1598.5 198.1h0M1600.1 231.1h0M1601.7 261.6h0M1603.3 185.8h0M1604.9 236.5h0M1606.5 224.7h0M1608.1 253.9h0M1609.6 229.4h0M1611.2 237.9h0M1612.8 261.1h0M1614.4 285.6h0M1616 202.8h0M1617.6 226.2h0M1619.2 233.4h0M1620.8 235.2h0M1622.4 217.5h0M1624 256.5h0M1625.6 265.5h0M1627.2 282.9h0M1628.8 208.9h0M1630.4 252.9h0M1632 258.6h0M1633.6 282.4h0M1635.2 259h0M1636.7 273.8h0M1638.3 288.5h0M1639.9 319.9h0M1641.5 207.4h0M1643.1 234.6h0M1644.7 238h0M1646.3 246.7h0M1647.9 226.5h0M1649.5 241.3h0M1651.1 233.7h0M1652.7 262h0M1654.3 239.9h0M1655.9 250.4h0M1657.5 260h0M1659.1 283.1h0M1660.7 256.9h0M1662.3 290.4h0M1663.8 271.8h0M1665.4 311.4h0M1667 229h0M1668.6 257.9h0M1670.2 242.1h0M1671.8 276.2h0M1673.4 254.8h0M1675 275.2h0M1676.6 288.3h0M1678.2 310.3h0M1679.8 259h0M1681.4 277.3h0M1683 273h0M1684.6 312.8h0M1686.2 282.4h0M1687.8 316.2h0M1689.4 315.9h0M1690.9 345.1h0M1692.5 202.3h0M1694.1 227.3h0M1695.7 212.2h0M1697.3 259.2h0M1698.9 227.7h0M1700.5 261.3h0M1702.1 260.9h0M1703.7 279.1h0M1705.3 235.8h0M1706.9 251.1h0M1708.5 259.8h0M1710.1 283h0M1711.7 259.3h0M1713.3 276.7h0M1714.9 285.2h0M1716.5 316.8h0M1718.1 219.8h0M1719.6 258.4h0M1721.2 252.7h0M1722.8 278.6h0M1724.4 253.1h0M1726 283.8h0M1727.6 285.5h0M1729.2 297.9h0M1730.8 227.5h0M1732.4 274.5h0M1734 275.2h0M1735.6 311.6h0M1737.2 286.1h0M1738.8 315.5h0M1740.4 312.8h0M1742 344.6h0M1743.6 203.4h0M1745.2 252.5h0M1746.7 260.5h0M1748.3 285h0M1749.9 262.8h0M1751.5 283.8h0M1753.1 283h0M1754.7 312.6h0M1756.3 259.6h0M1757.9 285.2h0M1759.5 265.8h0M1761.1 315.3h0M1762.7 291.5h0M1764.3 299.6h0M1765.9 298.5h0M1767.5 340.1h0M1769.1 238.1h0M1770.7 288.1h0M1772.3 272.5h0M1773.8 297.3h0M1775.4 285.7h0M1777 317.1h0M1778.6 314.6h0M1780.2 346.2h0M1781.8 260.9h0M1783.4 320.7h0M1785 317.7h0M1786.6 350.9h0M1788.2 316.5h0M1789.8 345.7h0M1791.4 334.3h0M1793 399h0M1794.6 202.4h0M1796.2 228.8h0M1797.8 236.8h0M1799.4 262.9h0M1800.9 240.4h0M1802.5 254.1h0M1804.1 227.9h0M1805.7 286.7h0M1807.3 238.8h0M1808.9 259.7h0M1810.5 237.6h0M1812.1 281.2h0M1813.7 249.7h0M1815.3 281.1h0M1816.9 276.9h0M1818.5 314h0M1820.1 244.6h0M1821.7 260.2h0M1823.3 228.5h0M1824.9 284.7h0M1826.5 227h0M1828.1 290.9h0M1829.6 287.2h0M1831.2 317.5h0M1832.8 235.1h0M1834.4 287.4h0M1836 290.7h0M1837.6 312.5h0M1839.2 284h0M1840.8 315.8h0M1842.4 314.1h0M1844 340.9h0M1845.6 241.1h0M1847.2 257.9h0M1848.8 259.6h0M1850.4 283.3h0M1852 250.6h0M1853.6 285.5h0M1855.2 279.3h0M1856.7 319.4h0M1858.3 236.2h0M1859.9 285.8h0M1861.5 284.4h0M1863.1 315.4h0M1864.7 270.2h0M1866.3 318.6h0M1867.9 314.3h0M1869.5 335.6h0M1871.1 248.2h0M1872.7 273.1h0M1874.3 287.8h0M1875.9 313.8h0M1877.5 261.6h0M1879.1 317.2h0M1880.7 299h0M1882.3 347.7h0M1883.8 264.5h0M1885.4 317h0M1887 301.3h0M1888.6 345.4h0M1890.2 302h0M1891.8 341.1h0M1893.4 351h0M1895 396.5h0M1896.6 192h0M1898.2 259.4h0M1899.8 255.3h0M1901.4 277.8h0M1903 244.6h0M1904.6 282.7h0M1906.2 288.3h0M1907.8 307.9h0M1909.4 258.5h0M1910.9 275.8h0M1912.5 289h0M1914.1 308.9h0M1915.7 285.9h0M1917.3 314.7h0M1918.9 310.6h0M1920.5 348.4h0M1922.1 260.3h0M1923.7 290h0M1925.3 274.7h0M1926.9 314.1h0M1928.5 279.4h0M1930.1 316.7h0M1931.7 315.6h0M1933.3 346h0M1934.9 271.4h0M1936.5 310.2h0M1938.1 308.4h0M1939.6 355.2h0M1941.2 316.9h0M1942.8 348.9h0M1944.4 354.4h0M1946 398.6h0M1947.6 259.4h0M1949.2 281h0M1950.8 288.5h0M1952.4 302.1h0M1954 264.4h0M1955.6 295.8h0M1957.2 318.5h0M1958.8 342.4h0M1960.4 274.7h0M1962 315.5h0M1963.6 309.3h0M1965.2 356.2h0M1966.7 317.2h0M1968.3 336.2h0M1969.9 350.3h0M1971.5 395.6h0M1973.1 286.1h0M1974.7 312.1h0M1976.3 317.4h0M1977.9 344.1h0M1979.5 306.5h0M1981.1 341.5h0M1982.7 351.4h0M1984.3 390.7h0M1985.9 307.9h0M1987.5 348.5h0M1989.1 350.5h0M1990.7 400.8h0M1992.3 349.8h0M1993.8 397.1h0M1995.4 392.5h0M1997 494.2h0"/>
<path fill="none" stroke="#D95319" stroke-width="3.5" d="M1173.9 453a5.5 5.5 0 1 0 11.1 0a5.5 5.5 0 1 0 -11.1 0zM1175.4 477.8a5.5 5.5 0 1 0 11.1 0a5.5 5.5 0 1 0 -11.1 0zM1177 460.6a5.5 5.5 0 1 0 11.1 0a5.5 5.5 0 1 0 -11.1 0zM1178.6 487.7a5.5 5.5 0 1 0 11.1 0a5.5 5.5 0 1 0 -11.1 0zM1180.2 453.2a5.5 5.5 0 1 0 11.1 0a5.5 5.5 0 1 0 -11.1 0zM1181.8 472.6a5.5 5.5 0 1 0 11.1 0a5.5 5.5 0 1 0 -11.1 0zM1183.4 469.5a5.5 5.5 0 1 0 11.1 0a5.5 5.5 0 1 0 -11.1 0zM1185 489.2a5.5 5.5 0 1 0 11.1 0a5.5 5.5 0 1 0 -11.1 0zM1186.6 453.1a5.5 5.5 0 1 0 11.1 0a5.5 5.5 0 1 0 -11.1 0zM1188.2 478.7a5.5 5.5 0 1 0 11.1 0a5.5 5.5 0 1 0 -11.1 0zM1189.8 470.2a5.5 5.5 0 1 0 11.1 0a5.5 5.5 0 1 0 -11.1 0zM1191.4 488.4a5.5 5.5 0 1 0 11.1 0a5.5 5.5 0 1 0 -11.1 0zM1193 454.8a5.5 5.5 0 1 0 11.1 0a5.5 5.5 0 1 0 -11.1 0zM1194.6 476.6a5.5 5.5 0 1 0 11.1 0a5.5 5.5 0 1 0 -11.1 0zM1196.2 472.2a5.5 5.5 0 1 0 11.1 0a5.5 5.5 0 1 0 -11.1 0zM1197.8 490.3a5.5 5.5 0 1 0 11.1 0a5.5 5.5 0 1 0 -11.1 0zM1199.4 451.5a5.5 5.5 0 1 0 11.1 0a5.5 5.5 0 1 0 -11.1 0zM1201 471.7a5.5 5.5 0 1 0 11.1 0a5.5 5.5 0 1 0 -11.1 0zM1202.6 470.9a5.5 5.5 0 1 0 11.1 0a5.5 5.5 0 1 0 -11.1 0zM1204.2 486.8a5.5 5.5 0 1 0 11.1 0a5.5 5.5 0 1 0 -11.1 0zM1205.8 455.8a5.5 5.5 0 1 0 11.1 0a5.5 5.5 0 1 0 -11.1 0zM1207.4 481.3a5.5 5.5 0 1 0 11.1 0a5.5 5.5 0 1 0 -11.1 0zM1209 470.3a5.5 5.5 0 1 0 11.1 0a5.5 5.5 0 1 0 -11.1 0zM1210.6 489.8a5.5 5.5 0 1 0 11.1 0a5.5 5.5 0 1 0 -11.1 0zM1212.2 452.6a5.5 5.5 0 1 0 11.1 0a5.5 5.5 0 1 0 -11.1 0zM1213.8 476.3a5.5 5.5 0 1 0 11.1 0a5.5 5.5 0 1 0 -11.1 0zM1215.4 468a5.5 5.5 0 1 0 11.1 0a5.5 5.5 0 1 0 -11.1 0zM1217 489.6a5.5 5.5 0 1 0 11.1 0a5.5 5.5 0 1 0 -11.1 0zM1218.6 455.1a5.5 5.5 0 1 0 11.1 0a5.5 5.5 0 1 0 -11.1 0zM1220.2 479.8a5.5 5.5 0 1 0 11.1 0a5.5 5.5 0 1 0 -11.1 0zM1221.8 467.2a5.5 5.5 0 1 0 11.1 0a5.5 5.5 0 1 0 -11.1 0zM1223.4 491a5.5 5.5 0 1 0 11.1 0a5.5 5.5 0 1 0 -11.1 0zM1225 453.4a5.5 5.5 0 1 0 11.1 0a5.5 5.5 0 1 0 -11.1 0zM1226.6 478a5.5 5.5 0 1 0 11.1 0a5.5 5.5 0 1 0 -11.1 0zM1228.2 467.4a5.5 5.5 0 1 0 11.1 0a5.5 5.5 0 1 0 -11.1 0zM1229.8 487.5a5.5 5.5 0 1 0 11.1 0a5.5 5.5 0 1 0 -11.1 0zM1231.4 453.9a5.5 5.5 0 1 0 11.1 0a5.5 5.5 0 1 0 -11.1 0zM1233 474.3a5.5 5.5 0 1 0 11.1 0a5.5 5.5 0 1 0 -11.1 0zM1234.6 468.4a5.5 5.5 0 1 0 11.1 0a5.5 5.5 0 1 0 -11.1 0zM1236.2 485.8a5.5 5.5 0 1 0 11.1 0a5.5 5.5 0 1 0 -11.1 0zM1237.8 454.7a5.5 5.5 0 1 0 11.1 0a5.5 5.5 0 1 0 -11.1 0zM1239.4 480.1a5.5 5.5 0 1 0 11.1 0a5.5 5.5 0 1 0 -11.1 0zM1241 467.9a5.5 5.5 0 1 0 11.1 0a5.5 5.5 0 1 0 -11.1 0zM1242.6 488.2a5.5 5.5 0 1 0 11.1 0a5.5 5.5 0 1 0 -11.1 0zM1244.2 454.7a5.5 5.5 0 1 0 11.1 0a5.5 5.5 0 1 0 -11.1 0zM1245.8 475.3a5.5 5.5 0 1 0 11.1 0a5.5 5.5 0 1 0 -11.1 0zM1247.4 466.3a5.5 5.5 0 1 0 11.1 0a5.5 5.5 0 1 0 -11.1 0zM1249 488.8a5.5 5.5 0 1 0 11.1 0a5.5 5.5 0 1 0 -11.1 0zM1250.6 454.8a5.5 5.5 0 1 0 11.1 0a5.5 5.5 0 1 0 -11.1 0zM1252.2 478.9a5.5 5.5 0 1 0 11.1 0a5.5 5.5 0 1 0 -11.1 0zM1253.8 464.8a5.5 5.5 0 1 0 11.1 0a5.5 5.5 0 1 0 -11.1 0zM1255.4 488.5a5.5 5.5 0 1 0 11.1 0a5.5 5.5 0 1 0 -11.1 0zM1257 457.2a5.5 5.5 0 1 0 11.1 0a5.5 5.5 0 1 0 -11.1 0zM1258.6 481.6a5.5 5.5 0 1 0 11.1 0a5.5 5.5 0 1 0 -11.1 0zM1260.2 470.4a5.5 5.5 0 1 0 11.1 0a5.5 5.5 0 1 0 -11.1 0zM1261.8 487.5a5.5 5.5 0 1 0 11.1 0a5.5 5.5 0 1 0 -11.1 0zM1263.4 455.3a5.5 5.5 0 1 0 11.1 0a5.5 5.5 0 1 0 -11.1 0zM1265 472.2a5.5 5.5 0 1 0 11.1 0a5.5 5.5 0 1 0 -11.1 0zM1266.6 467.5a5.5 5.5 0 1 0 11.1 0a5.5 5.5 0 1 0 -11.1 0zM1268.2 489.5a5.5 5.5 0 1 0 11.1 0a5.5 5.5 0 1 0 -11.1 0zM1269.8 456.7a5.5 5.5 0 1 0 11.1 0a5.5 5.5 0 1 0 -11.1 0zM1271.4 477.2a5.5 5.5 0 1 0 11.1 0a5.5 5.5 0 1 0 -11.1 0zM1273 470.5a5.5 5.5 0 1 0 11.1 0a5.5 5.5 0 1 0 -11.1 0zM1274.5 492.3a5.5 5.5 0 1 0 11.1 0a5.5 5.5 0 1 0 -11.1 0zM1276.1 452.4a5.5 5.5 0 1 0 11.1 0a5.5 5.5 0 1 0 -11.1 0zM1277.7 477.6a5.5 5.5 0 1 0 11.1 0a5.5 5.5 0 1 0 -11.1 0zM1279.3 464.5a5.5 5.5 0 1 0 11.1 0a5.5 5.5 0 1 0 -11.1 0zM1280.9 488.2a5.5 5.5 0 1 0 11.1 0a5.5 5.5 0 1 0 -11.1 0zM1282.5 458.8a5.5 5.5 0 1 0 11.1 0a5.5 5.5 0 1 0 -11.1 0zM1284.1 476a5.5 5.5 0 1 0 11.1 0a5.5 5.5 0 1 0 -11.1 0zM1285.7 472.7a5.5 5.5 0 1 0 11.1 0a5.5 5.5 0 1 0 -11.1 0zM1287.3 485.8a5.5 5.5 0 1 0 11.1 0a5.5 5.5 0 1 0 -11.1 0zM1288.9 451.3a5.5 5.5 0 1 0 11.1 0a5.5 5.5 0 1 0 -11.1 0zM1290.5 479.9a5.5 5.5 0 1 0 11.1 0a5.5 5.5 0 1 0 -11.1 0zM1292.1 471a5.5 5.5 0 1 0 11.1 0a5.5 5.5 0 1 0 -11.1 0zM1293.7 491.7a5.5 5.5 0 1 0 11.1 0a5.5 5.5 0 1 0 -11.1 0zM1295.3 453.7a5.5 5.5 0 1 0 11.1 0a5.5 5.5 0 1 0 -11.1 0zM1296.9 480.1a5.5 5.5 0 1 0 11.1 0a5.5 5.5 0 1 0 -11.1 0zM1298.5 470.5a5.5 5.5 0 1 0 11.1 0a5.5 5.5 0 1 0 -11.1 0zM1300.1 490.3a5.5 5.5 0 1 0 11.1 0a5.5 5.5 0 1 0 -11.1 0zM1301.7 450.9a5.5 5.5 0 1 0 11.1 0a5.5 5.5 0 1 0 -11.1 0zM1303.3 477.4a5.5 5.5 0 1 0 11.1 0a5.5 5.5 0 1 0 -11.1 0zM1304.9 466.4a5.5 5.5 0 1 0 11.1 0a5.5 5.5 0 1 0 -11.1 0zM1306.5 487.4a5.5 5.5 0 1 0 11.1 0a5.5 5.5 0 1 0 -11.1 0zM1308.1 453.5a5.5 5.5 0 1 0 11.1 0a5.5 5.5 0 1 0 -11.1 0zM1309.7 476a5.5 5.5 0 1 0 11.1 0a5.5 5.5 0 1 0 -11.1 0zM1311.3 470.8a5.5 5.5 0 1 0 11.1 0a5.5 5.5 0 1 0 -11.1 0zM1312.9 490.2a5.5 5.5 0 1 0 11.1 0a5.5 5.5 0 1 0 -11.1 0zM1314.5 456.3a5.5 5.5 0 1 0 11.1 0a5.5 5.5 0 1 0 -11.1 0zM1316.1 481.7a5.5 5.5 0 1 0 11.1 0a5.5 5.5 0 1 0 -11.1 0zM1317.7 466.3a5.5 5.5 0 1 0 11.1 0a5.5 5.5 0 1 0 -11.1 0zM1319.3 490.8a5.5 5.5 0 1 0 11.1 0a5.5 5.5 0 1 0 -11.1 0zM1320.9 456.1a5.5 5.5 0 1 0 11.1 0a5.5 5.5 0 1 0 -11.1 0zM1322.5 482.5a5.5 5.5 0 1 0 11.1 0a5.5 5.5 0 1 0 -11.1 0zM1324.1 471.4a5.5 5.5 0 1 0 11.1 0a5.5 5.5 0 1 0 -11.1 0zM1325.7 489.1a5.5 5.5 0 1 0 11.1 0a5.5 5.5 0 1 0 -11.1 0zM1327.3 454.9a5.5 5.5 0 1 0 11.1 0a5.5 5.5 0 1 0 -11.1 0zM1328.9 480.1a5.5 5.5 0 1 0 11.1 0a5.5 5.5 0 1 0 -11.1 0zM1330.5 467a5.5 5.5 0 1 0 11.1 0a5.5 5.5 0 1 0 -11.1 0zM1332.1 487.9a5.5 5.5 0 1 0 11.1 0a5.5 5.5 0 1 0 -11.1 0zM1333.7 453.8a5.5 5.5 0 1 0 11.1 0a5.5 5.5 0 1 0 -11.1 0zM1335.3 478.9a5.5 5.5 0 1 0 11.1 0a5.5 5.5 0 1 0 -11.1 0zM1336.9 473.3a5.5 5.5 0 1 0 11.1 0a5.5 5.5 0 1 0 -11.1 0zM1338.5 488.5a5.5 5.5 0 1 0 11.1 0a5.5 5.5 0 1 0 -11.1 0zM1340.1 454.3a5.5 5.5 0 1 0 11.1 0a5.5 5.5 0 1 0 -11.1 0zM1341.7 476.2a5.5 5.5 0 1 0 11.1 0a5.5 5.5 0 1 0 -11.1 0zM1343.3 471.1a5.5 5.5 0 1 0 11.1 0a5.5 5.5 0 1 0 -11.1 0zM1344.9 484.8a5.5 5.5 0 1 0 11.1 0a5.5 5.5 0 1 0 -11.1 0zM1346.5 457.9a5.5 5.5 0 1 0 11.1 0a5.5 5.5 0 1 0 -11.1 0zM1348.1 478a5.5 5.5 0 1 0 11.1 0a5.5 5.5 0 1 0 -11.1 0zM1349.7 469.8a5.5 5.5 0 1 0 11.1 0a5.5 5.5 0 1 0 -11.1 0zM1351.3 491.6a5.5 5.5 0 1 0 11.1 0a5.5 5.5 0 1 0 -11.1 0zM1352.9 453.8a5.5 5.5 0 1 0 11.1 0a5.5 5.5 0 1 0 -11.1 0zM1354.5 480.3a5.5 5.5 0 1 0 11.1 0a5.5 5.5 0 1 0 -11.1 0zM1356.1 474.6a5.5 5.5 0 1 0 11.1 0a5.5 5.5 0 1 0 -11.1 0zM1357.7 492.1a5.5 5.5 0 1 0 11.1 0a5.5 5.5 0 1 0 -11.1 0zM1359.3 455.3a5.5 5.5 0 1 0 11.1 0a5.5 5.5 0 1 0 -11.1 0zM1360.9 473.2a5.5 5.5 0 1 0 11.1 0a5.5 5.5 0 1 0 -11.1 0zM1362.5 473.5a5.5 5.5 0 1 0 11.1 0a5.5 5.5 0 1 0 -11.1 0zM1364.1 490.7a5.5 5.5 0 1 0 11.1 0a5.5 5.5 0 1 0 -11.1 0zM1365.7 453.7a5.5 5.5 0 1 0 11.1 0a5.5 5.5 0 1 0 -11.1 0zM1367.3 478.4a5.5 5.5 0 1 0 11.1 0a5.5 5.5 0 1 0 -11.1 0zM1368.9 470.8a5.5 5.5 0 1 0 11.1 0a5.5 5.5 0 1 0 -11.1 0zM1370.5 493.4a5.5 5.5 0 1 0 11.1 0a5.5 5.5 0 1 0 -11.1 0zM1372.1 459.7a5.5 5.5 0 1 0 11.1 0a5.5 5.5 0 1 0 -11.1 0zM1373.7 483.6a5.5 5.5 0 1 0 11.1 0a5.5 5.5 0 1 0 -11.1 0zM1375.2 471.7a5.5 5.5 0 1 0 11.1 0a5.5 5.5 0 1 0 -11.1 0zM1376.8 493.4a5.5 5.5 0 1 0 11.1 0a5.5 5.5 0 1 0 -11.1 0zM1378.4 456.1a5.5 5.5 0 1 0 11.1 0a5.5 5.5 0 1 0 -11.1 0zM1380 476.7a5.5 5.5 0 1 0 11.1 0a5.5 5.5 0 1 0 -11.1 0zM1381.6 468.3a5.5 5.5 0 1 0 11.1 0a5.5 5.5 0 1 0 -11.1 0zM1383.2 489.5a5.5 5.5 0 1 0 11.1 0a5.5 5.5 0 1 0 -11.1 0zM1384.8 454.9a5.5 5.5 0 1 0 11.1 0a5.5 5.5 0 1 0 -11.1 0zM1386.4 481.1a5.5 5.5 0 1 0 11.1 0a5.5 5.5 0 1 0 -11.1 0zM1388 466a5.5 5.5 0 1 0 11.1 0a5.5 5.5 0 1 0 -11.1 0zM1389.6 485.6a5.5 5.5 0 1 0 11.1 0a5.5 5.5 0 1 0 -11.1 0zM1391.2 450.9a5.5 5.5 0 1 0 11.1 0a5.5 5.5 0 1 0 -11.1 0zM1392.8 476.3a5.5 5.5 0 1 0 11.1 0a5.5 5.5 0 1 0 -11.1 0zM1394.4 466.4a5.5 5.5 0 1 0 11.1 0a5.5 5.5 0 1 0 -11.1 0zM1396 486a5.5 5.5 0 1 0 11.1 0a5.5 5.5 0 1 0 -11.1 0zM1397.6 452.3a5.5 5.5 0 1 0 11.1 0a5.5 5.5 0 1 0 -11.1 0zM1399.2 474.8a5.5 5.5 0 1 0 11.1 0a5.5 5.5 0 1 0 -11.1 0zM1400.8 466.2a5.5 5.5 0 1 0 11.1 0a5.5 5.5 0 1 0 -11.1 0zM1402.4 491.1a5.5 5.5 0 1 0 11.1 0a5.5 5.5 0 1 0 -11.1 0zM1404 456.8a5.5 5.5 0 1 0 11.1 0a5.5 5.5 0 1 0 -11.1 0zM1405.6 475.8a5.5 5.5 0 1 0 11.1 0a5.5 5.5 0 1 0 -11.1 0zM1407.2 468.4a5.5 5.5 0 1 0 11.1 0a5.5 5.5 0 1 0 -11.1 0zM1408.8 489a5.5 5.5 0 1 0 11.1 0a5.5 5.5 0 1 0 -11.1 0zM1410.4 456.5a5.5 5.5 0 1 0 11.1 0a5.5 5.5 0 1 0 -11.1 0zM1412 483.6a5.5 5.5 0 1 0 11.1 0a5.5 5.5 0 1 0 -11.1 0zM1413.6 465.7a5.5 5.5 0 1 0 11.1 0a5.5 5.5 0 1 0 -11.1 0zM1415.2 488.9a5.5 5.5 0 1 0 11.1 0a5.5 5.5 0 1 0 -11.1 0zM1416.8 456.8a5.5 5.5 0 1 0 11.1 0a5.5 5.5 0 1 0 -11.1 0zM1418.4 478.2a5.5 5.5 0 1 0 11.1 0a5.5 5.5 0 1 0 -11.1 0zM1420 468.3a5.5 5.5 0 1 0 11.1 0a5.5 5.5 0 1 0 -11.1 0zM1421.6 488.8a5.5 5.5 0 1 0 11.1 0a5.5 5.5 0 1 0 -11.1 0zM1423.2 452.4a5.5 5.5 0 1 0 11.1 0a5.5 5.5 0 1 0 -11.1 0zM1424.8 480.4a5.5 5.5 0 1 0 11.1 0a5.5 5.5 0 1 0 -11.1 0zM1426.4 473a5.5 5.5 0 1 0 11.1 0a5.5 5.5 0 1 0 -11.1 0zM1428 490.6a5.5 5.5 0 1 0 11.1 0a5.5 5.5 0 1 0 -11.1 0zM1429.6 455.3a5.5 5.5 0 1 0 11.1 0a5.5 5.5 0 1 0 -11.1 0zM1431.2 476.8a5.5 5.5 0 1 0 11.1 0a5.5 5.5 0 1 0 -11.1 0zM1432.8 467.7a5.5 5.5 0 1 0 11.1 0a5.5 5.5 0 1 0 -11.1 0zM1434.4 488.2a5.5 5.5 0 1 0 11.1 0a5.5 5.5 0 1 0 -11.1 0zM1436 456a5.5 5.5 0 1 0 11.1 0a5.5 5.5 0 1 0 -11.1 0zM1437.6 478.1a5.5 5.5 0 1 0 11.1 0a5.5 5.5 0 1 0 -11.1 0zM1439.2 470.3a5.5 5.5 0 1 0 11.1 0a5.5 5.5 0 1 0 -11.1 0zM1440.8 488.8a5.5 5.5 0 1 0 11.1 0a5.5 5.5 0 1 0 -11.1 0zM1442.4 455.6a5.5 5.5 0 1 0 11.1 0a5.5 5.5 0 1 0 -11.1 0zM1444 483a5.5 5.5 0 1 0 11.1 0a5.5 5.5 0 1 0 -11.1 0zM1445.6 467.9a5.5 5.5 0 1 0 11.1 0a5.5 5.5 0 1 0 -11.1 0zM1447.2 491.2a5.5 5.5 0 1 0 11.1 0a5.5 5.5 0 1 0 -11.1 0zM1448.8 453.7a5.5 5.5 0 1 0 11.1 0a5.5 5.5 0 1 0 -11.1 0zM1450.4 478.9a5.5 5.5 0 1 0 11.1 0a5.5 5.5 0 1 0 -11.1 0zM1452 468.8a5.5 5.5 0 1 0 11.1 0a5.5 5.5 0 1 0 -11.1 0zM1453.6 490.5a5.5 5.5 0 1 0 11.1 0a5.5 5.5 0 1 0 -11.1 0zM1455.2 455.2a5.5 5.5 0 1 0 11.1 0a5.5 5.5 0 1 0 -11.1 0zM1456.8 487a5.5 5.5 0 1 0 11.1 0a5.5 5.5 0 1 0 -11.1 0zM1458.4 466.1a5.5 5.5 0 1 0 11.1 0a5.5 5.5 0 1 0 -11.1 0zM1460 491.4a5.5 5.5 0 1 0 11.1 0a5.5 5.5 0 1 0 -11.1 0zM1461.6 454.5a5.5 5.5 0 1 0 11.1 0a5.5 5.5 0 1 0 -11.1 0zM1463.2 482.3a5.5 5.5 0 1 0 11.1 0a5.5 5.5 0 1 0 -11.1 0zM1464.8 470.3a5.5 5.5 0 1 0 11.1 0a5.5 5.5 0 1 0 -11.1 0zM1466.4 491.1a5.5 5.5 0 1 0 11.1 0a5.5 5.5 0 1 0 -11.1 0zM1468 457.6a5.5 5.5 0 1 0 11.1 0a5.5 5.5 0 1 0 -11.1 0zM1469.6 480.9a5.5 5.5 0 1 0 11.1 0a5.5 5.5 0 1 0 -11.1 0zM1471.2 468.8a5.5 5.5 0 1 0 11.1 0a5.5 5.5 0 1 0 -11.1 0zM1472.8 491.5a5.5 5.5 0 1 0 11.1 0a5.5 5.5 0 1 0 -11.1 0zM1474.3 458.9a5.5 5.5 0 1 0 11.1 0a5.5 5.5 0 1 0 -11.1 0zM1475.9 483a5.5 5.5 0 1 0 11.1 0a5.5 5.5 0 1 0 -11.1 0zM1477.5 470.2a5.5 5.5 0 1 0 11.1 0a5.5 5.5 0 1 0 -11.1 0zM1479.1 489.3a5.5 5.5 0 1 0 11.1 0a5.5 5.5 0 1 0 -11.1 0zM1480.7 452.9a5.5 5.5 0 1 0 11.1 0a5.5 5.5 0 1 0 -11.1 0zM1482.3 477.6a5.5 5.5 0 1 0 11.1 0a5.5 5.5 0 1 0 -11.1 0zM1483.9 470.6a5.5 5.5 0 1 0 11.1 0a5.5 5.5 0 1 0 -11.1 0zM1485.5 487.1a5.5 5.5 0 1 0 11.1 0a5.5 5.5 0 1 0 -11.1 0zM1487.1 455.1a5.5 5.5 0 1 0 11.1 0a5.5 5.5 0 1 0 -11.1 0zM1488.7 480.2a5.5 5.5 0 1 0 11.1 0a5.5 5.5 0 1 0 -11.1 0zM1490.3 466.9a5.5 5.5 0 1 0 11.1 0a5.5 5.5 0 1 0 -11.1 0zM1491.9 488.6a5.5 5.5 0 1 0 11.1 0a5.5 5.5 0 1 0 -11.1 0zM1493.5 454.3a5.5 5.5 0 1 0 11.1 0a5.5 5.5 0 1 0 -11.1 0zM1495.1 483.1a5.5 5.5 0 1 0 11.1 0a5.5 5.5 0 1 0 -11.1 0zM1496.7 470.5a5.5 5.5 0 1 0 11.1 0a5.5 5.5 0 1 0 -11.1 0zM1498.3 493.2a5.5 5.5 0 1 0 11.1 0a5.5 5.5 0 1 0 -11.1 0zM1499.9 455.7a5.5 5.5 0 1 0 11.1 0a5.5 5.5 0 1 0 -11.1 0zM1501.5 480.2a5.5 5.5 0 1 0 11.1 0a5.5 5.5 0 1 0 -11.1 0zM1503.1 467.7a5.5 5.5 0 1 0 11.1 0a5.5 5.5 0 1 0 -11.1 0zM1504.7 490.2a5.5 5.5 0 1 0 11.1 0a5.5 5.5 0 1 0 -11.1 0zM1506.3 455.7a5.5 5.5 0 1 0 11.1 0a5.5 5.5 0 1 0 -11.1 0zM1507.9 472.7a5.5 5.5 0 1 0 11.1 0a5.5 5.5 0 1 0 -11.1 0zM1509.5 471.5a5.5 5.5 0 1 0 11.1 0a5.5 5.5 0 1 0 -11.1 0zM1511.1 492.5a5.5 5.5 0 1 0 11.1 0a5.5 5.5 0 1 0 -11.1 0zM1512.7 457a5.5 5.5 0 1 0 11.1 0a5.5 5.5 0 1 0 -11.1 0zM1514.3 478.6a5.5 5.5 0 1 0 11.1 0a5.5 5.5 0 1 0 -11.1 0zM1515.9 470.8a5.5 5.5 0 1 0 11.1 0a5.5 5.5 0 1 0 -11.1 0zM1517.5 491.5a5.5 5.5 0 1 0 11.1 0a5.5 5.5 0 1 0 -11.1 0zM1519.1 457.8a5.5 5.5 0 1 0 11.1 0a5.5 5.5 0 1 0 -11.1 0zM1520.7 475.6a5.5 5.5 0 1 0 11.1 0a5.5 5.5 0 1 0 -11.1 0zM1522.3 471.4a5.5 5.5 0 1 0 11.1 0a5.5 5.5 0 1 0 -11.1 0zM1523.9 492.8a5.5 5.5 0 1 0 11.1 0a5.5 5.5 0 1 0 -11.1 0zM1525.5 457.1a5.5 5.5 0 1 0 11.1 0a5.5 5.5 0 1 0 -11.1 0zM1527.1 483.8a5.5 5.5 0 1 0 11.1 0a5.5 5.5 0 1 0 -11.1 0zM1528.7 471.4a5.5 5.5 0 1 0 11.1 0a5.5 5.5 0 1 0 -11.1 0zM1530.3 488.9a5.5 5.5 0 1 0 11.1 0a5.5 5.5 0 1 0 -11.1 0zM1531.9 455.8a5.5 5.5 0 1 0 11.1 0a5.5 5.5 0 1 0 -11.1 0zM1533.5 479.6a5.5 5.5 0 1 0 11.1 0a5.5 5.5 0 1 0 -11.1 0zM1535.1 469.9a5.5 5.5 0 1 0 11.1 0a5.5 5.5 0 1 0 -11.1 0zM1536.7 490.2a5.5 5.5 0 1 0 11.1 0a5.5 5.5 0 1 0 -11.1 0zM1538.3 454.7a5.5 5.5 0 1 0 11.1 0a5.5 5.5 0 1 0 -11.1 0zM1539.9 478.6a5.5 5.5 0 1 0 11.1 0a5.5 5.5 0 1 0 -11.1 0zM1541.5 470.8a5.5 5.5 0 1 0 11.1 0a5.5 5.5 0 1 0 -11.1 0zM1543.1 492.5a5.5 5.5 0 1 0 11.1 0a5.5 5.5 0 1 0 -11.1 0zM1544.7 456.2a5.5 5.5 0 1 0 11.1 0a5.5 5.5 0 1 0 -11.1 0zM1546.3 477.6a5.5 5.5 0 1 0 11.1 0a5.5 5.5 0 1 0 -11.1 0zM1547.9 470a5.5 5.5 0 1 0 11.1 0a5.5 5.5 0 1 0 -11.1 0zM1549.5 490.9a5.5 5.5 0 1 0 11.1 0a5.5 5.5 0 1 0 -11.1 0zM1551.1 459.7a5.5 5.5 0 1 0 11.1 0a5.5 5.5 0 1 0 -11.1 0zM1552.7 478a5.5 5.5 0 1 0 11.1 0a5.5 5.5 0 1 0 -11.1 0zM1554.3 474.4a5.5 5.5 0 1 0 11.1 0a5.5 5.5 0 1 0 -11.1 0zM1555.9 493.4a5.5 5.5 0 1 0 11.1 0a5.5 5.5 0 1 0 -11.1 0zM1557.5 456.6a5.5 5.5 0 1 0 11.1 0a5.5 5.5 0 1 0 -11.1 0zM1559.1 480.2a5.5 5.5 0 1 0 11.1 0a5.5 5.5 0 1 0 -11.1 0zM1560.7 469.8a5.5 5.5 0 1 0 11.1 0a5.5 5.5 0 1 0 -11.1 0zM1562.3 492.2a5.5 5.5 0 1 0 11.1 0a5.5 5.5 0 1 0 -11.1 0zM1563.9 457.4a5.5 5.5 0 1 0 11.1 0a5.5 5.5 0 1 0 -11.1 0zM1565.5 483.1a5.5 5.5 0 1 0 11.1 0a5.5 5.5 0 1 0 -11.1 0zM1567.1 475.1a5.5 5.5 0 1 0 11.1 0a5.5 5.5 0 1 0 -11.1 0zM1568.7 492.1a5.5 5.5 0 1 0 11.1 0a5.5 5.5 0 1 0 -11.1 0zM1570.3 458a5.5 5.5 0 1 0 11.1 0a5.5 5.5 0 1 0 -11.1 0zM1571.9 479.8a5.5 5.5 0 1 0 11.1 0a5.5 5.5 0 1 0 -11.1 0zM1573.5 471.2a5.5 5.5 0 1 0 11.1 0a5.5 5.5 0 1 0 -11.1 0zM1575 489.6a5.5 5.5 0 1 0 11.1 0a5.5 5.5 0 1 0 -11.1 0zM1576.6 456.6a5.5 5.5 0 1 0 11.1 0a5.5 5.5 0 1 0 -11.1 0zM1578.2 479.2a5.5 5.5 0 1 0 11.1 0a5.5 5.5 0 1 0 -11.1 0zM1579.8 468.8a5.5 5.5 0 1 0 11.1 0a5.5 5.5 0 1 0 -11.1 0zM1581.4 491a5.5 5.5 0 1 0 11.1 0a5.5 5.5 0 1 0 -11.1 0zM1583 453.6a5.5 5.5 0 1 0 11.1 0a5.5 5.5 0 1 0 -11.1 0zM1584.6 473.4a5.5 5.5 0 1 0 11.1 0a5.5 5.5 0 1 0 -11.1 0zM1586.2 469.5a5.5 5.5 0 1 0 11.1 0a5.5 5.5 0 1 0 -11.1 0zM1587.8 488.1a5.5 5.5 0 1 0 11.1 0a5.5 5.5 0 1 0 -11.1 0zM1589.4 452.9a5.5 5.5 0 1 0 11.1 0a5.5 5.5 0 1 0 -11.1 0zM1591 479.5a5.5 5.5 0 1 0 11.1 0a5.5 5.5 0 1 0 -11.1 0zM1592.6 466.5a5.5 5.5 0 1 0 11.1 0a5.5 5.5 0 1 0 -11.1 0zM1594.2 490.5a5.5 5.5 0 1 0 11.1 0a5.5 5.5 0 1 0 -11.1 0zM1595.8 455.1a5.5 5.5 0 1 0 11.1 0a5.5 5.5 0 1 0 -11.1 0zM1597.4 476.8a5.5 5.5 0 1 0 11.1 0a5.5 5.5 0 1 0 -11.1 0zM1599 466.5a5.5 5.5 0 1 0 11.1 0a5.5 5.5 0 1 0 -11.1 0zM1600.6 486.5a5.5 5.5 0 1 0 11.1 0a5.5 5.5 0 1 0 -11.1 0zM1602.2 455.2a5.5 5.5 0 1 0 11.1 0a5.5 5.5 0 1 0 -11.1 0zM1603.8 478.5a5.5 5.5 0 1 0 11.1 0a5.5 5.5 0 1 0 -11.1 0zM1605.4 467.6a5.5 5.5 0 1 0 11.1 0a5.5 5.5 0 1 0 -11.1 0zM1607 488.9a5.5 5.5 0 1 0 11.1 0a5.5 5.5 0 1 0 -11.1 0zM1608.6 456.3a5.5 5.5 0 1 0 11.1 0a5.5 5.5 0 1 0 -11.1 0zM1610.2 480.4a5.5 5.5 0 1 0 11.1 0a5.5 5.5 0 1 0 -11.1 0zM1611.8 464.7a5.5 5.5 0 1 0 11.1 0a5.5 5.5 0 1 0 -11.1 0zM1613.4 491.4a5.5 5.5 0 1 0 11.1 0a5.5 5.5 0 1 0 -11.1 0zM1615 454.1a5.5 5.5 0 1 0 11.1 0a5.5 5.5 0 1 0 -11.1 0zM1616.6 480.8a5.5 5.5 0 1 0 11.1 0a5.5 5.5 0 1 0 -11.1 0zM1618.2 466.7a5.5 5.5 0 1 0 11.1 0a5.5 5.5 0 1 0 -11.1 0zM1619.8 491.3a5.5 5.5 0 1 0 11.1 0a5.5 5.5 0 1 0 -11.1 0zM1621.4 455a5.5 5.5 0 1 0 11.1 0a5.5 5.5 0 1 0 -11.1 0zM1623 485.9a5.5 5.5 0 1 0 11.1 0a5.5 5.5 0 1 0 -11.1 0zM1624.6 469.2a5.5 5.5 0 1 0 11.1 0a5.5 5.5 0 1 0 -11.1 0zM1626.2 487.6a5.5 5.5 0 1 0 11.1 0a5.5 5.5 0 1 0 -11.1 0zM1627.8 458.4a5.5 5.5 0 1 0 11.1 0a5.5 5.5 0 1 0 -11.1 0zM1629.4 476.5a5.5 5.5 0 1 0 11.1 0a5.5 5.5 0 1 0 -11.1 0zM1631 471.6a5.5 5.5 0 1 0 11.1 0a5.5 5.5 0 1 0 -11.1 0zM1632.6 490.8a5.5 5.5 0 1 0 11.1 0a5.5 5.5 0 1 0 -11.1 0zM1634.2 458.7a5.5 5.5 0 1 0 11.1 0a5.5 5.5 0 1 0 -11.1 0zM1635.8 475.1a5.5 5.5 0 1 0 11.1 0a5.5 5.5 0 1 0 -11.1 0zM1637.4 470.3a5.5 5.5 0 1 0 11.1 0a5.5 5.5 0 1 0 -11.1 0zM1639 490a5.5 5.5 0 1 0 11.1 0a5.5 5.5 0 1 0 -11.1 0zM1640.6 457.1a5.5 5.5 0 1 0 11.1 0a5.5 5.5 0 1 0 -11.1 0zM1642.2 482.6a5.5 5.5 0 1 0 11.1 0a5.5 5.5 0 1 0 -11.1 0zM1643.8 466.3a5.5 5.5 0 1 0 11.1 0a5.5 5.5 0 1 0 -11.1 0zM1645.4 490.8a5.5 5.5 0 1 0 11.1 0a5.5 5.5 0 1 0 -11.1 0zM1647 453.7a5.5 5.5 0 1 0 11.1 0a5.5 5.5 0 1 0 -11.1 0zM1648.6 480a5.5 5.5 0 1 0 11.1 0a5.5 5.5 0 1 0 -11.1 0zM1650.2 468.2a5.5 5.5 0 1 0 11.1 0a5.5 5.5 0 1 0 -11.1 0zM1651.8 490.8a5.5 5.5 0 1 0 11.1 0a5.5 5.5 0 1 0 -11.1 0zM1653.4 455.3a5.5 5.5 0 1 0 11.1 0a5.5 5.5 0 1 0 -11.1 0zM1655 472a5.5 5.5 0 1 0 11.1 0a5.5 5.5 0 1 0 -11.1 0zM1656.6 468.4a5.5 5.5 0 1 0 11.1 0a5.5 5.5 0 1 0 -11.1 0zM1658.2 489.7a5.5 5.5 0 1 0 11.1 0a5.5 5.5 0 1 0 -11.1 0zM1659.8 455.9a5.5 5.5 0 1 0 11.1 0a5.5 5.5 0 1 0 -11.1 0zM1661.4 476.2a5.5 5.5 0 1 0 11.1 0a5.5 5.5 0 1 0 -11.1 0zM1663 465.8a5.5 5.5 0 1 0 11.1 0a5.5 5.5 0 1 0 -11.1 0zM1664.6 493.2a5.5 5.5 0 1 0 11.1 0a5.5 5.5 0 1 0 -11.1 0zM1666.2 458.2a5.5 5.5 0 1 0 11.1 0a5.5 5.5 0 1 0 -11.1 0zM1667.8 473.6a5.5 5.5 0 1 0 11.1 0a5.5 5.5 0 1 0 -11.1 0zM1669.4 468.9a5.5 5.5 0 1 0 11.1 0a5.5 5.5 0 1 0 -11.1 0zM1671 490.4a5.5 5.5 0 1 0 11.1 0a5.5 5.5 0 1 0 -11.1 0zM1672.6 455.1a5.5 5.5 0 1 0 11.1 0a5.5 5.5 0 1 0 -11.1 0zM1674.1 476.8a5.5 5.5 0 1 0 11.1 0a5.5 5.5 0 1 0 -11.1 0zM1675.7 468a5.5 5.5 0 1 0 11.1 0a5.5 5.5 0 1 0 -11.1 0zM1677.3 491.1a5.5 5.5 0 1 0 11.1 0a5.5 5.5 0 1 0 -11.1 0zM1678.9 453.6a5.5 5.5 0 1 0 11.1 0a5.5 5.5 0 1 0 -11.1 0zM1680.5 481.1a5.5 5.5 0 1 0 11.1 0a5.5 5.5 0 1 0 -11.1 0zM1682.1 472.9a5.5 5.5 0 1 0 11.1 0a5.5 5.5 0 1 0 -11.1 0zM1683.7 492.7a5.5 5.5 0 1 0 11.1 0a5.5 5.5 0 1 0 -11.1 0zM1685.3 454.4a5.5 5.5 0 1 0 11.1 0a5.5 5.5 0 1 0 -11.1 0zM1686.9 479.8a5.5 5.5 0 1 0 11.1 0a5.5 5.5 0 1 0 -11.1 0zM1688.5 468.6a5.5 5.5 0 1 0 11.1 0a5.5 5.5 0 1 0 -11.1 0zM1690.1 488.3a5.5 5.5 0 1 0 11.1 0a5.5 5.5 0 1 0 -11.1 0zM1691.7 460.3a5.5 5.5 0 1 0 11.1 0a5.5 5.5 0 1 0 -11.1 0zM1693.3 481.9a5.5 5.5 0 1 0 11.1 0a5.5 5.5 0 1 0 -11.1 0zM1694.9 466.8a5.5 5.5 0 1 0 11.1 0a5.5 5.5 0 1 0 -11.1 0zM1696.5 488.7a5.5 5.5 0 1 0 11.1 0a5.5 5.5 0 1 0 -11.1 0zM1698.1 456.2a5.5 5.5 0 1 0 11.1 0a5.5 5.5 0 1 0 -11.1 0zM1699.7 481.4a5.5 5.5 0 1 0 11.1 0a5.5 5.5 0 1 0 -11.1 0zM1701.3 466.3a5.5 5.5 0 1 0 11.1 0a5.5 5.5 0 1 0 -11.1 0zM1702.9 490.3a5.5 5.5 0 1 0 11.1 0a5.5 5.5 0 1 0 -11.1 0zM1704.5 456.8a5.5 5.5 0 1 0 11.1 0a5.5 5.5 0 1 0 -11.1 0zM1706.1 474.4a5.5 5.5 0 1 0 11.1 0a5.5 5.5 0 1 0 -11.1 0zM1707.7 470.8a5.5 5.5 0 1 0 11.1 0a5.5 5.5 0 1 0 -11.1 0zM1709.3 489.3a5.5 5.5 0 1 0 11.1 0a5.5 5.5 0 1 0 -11.1 0zM1710.9 455.2a5.5 5.5 0 1 0 11.1 0a5.5 5.5 0 1 0 -11.1 0zM1712.5 479.3a5.5 5.5 0 1 0 11.1 0a5.5 5.5 0 1 0 -11.1 0zM1714.1 471.3a5.5 5.5 0 1 0 11.1 0a5.5 5.5 0 1 0 -11.1 0zM1715.7 491.4a5.5 5.5 0 1 0 11.1 0a5.5 5.5 0 1 0 -11.1 0zM1717.3 454a5.5 5.5 0 1 0 11.1 0a5.5 5.5 0 1 0 -11.1 0zM1718.9 483.9a5.5 5.5 0 1 0 11.1 0a5.5 5.5 0 1 0 -11.1 0zM1720.5 469.3a5.5 5.5 0 1 0 11.1 0a5.5 5.5 0 1 0 -11.1 0zM1722.1 493a5.5 5.5 0 1 0 11.1 0a5.5 5.5 0 1 0 -11.1 0zM1723.7 456.4a5.5 5.5 0 1 0 11.1 0a5.5 5.5 0 1 0 -11.1 0zM1725.3 480.4a5.5 5.5 0 1 0 11.1 0a5.5 5.5 0 1 0 -11.1 0zM1726.9 473.8a5.5 5.5 0 1 0 11.1 0a5.5 5.5 0 1 0 -11.1 0zM1728.5 488.4a5.5 5.5 0 1 0 11.1 0a5.5 5.5 0 1 0 -11.1 0zM1730.1 457.2a5.5 5.5 0 1 0 11.1 0a5.5 5.5 0 1 0 -11.1 0zM1731.7 477.3a5.5 5.5 0 1 0 11.1 0a5.5 5.5 0 1 0 -11.1 0zM1733.3 473a5.5 5.5 0 1 0 11.1 0a5.5 5.5 0 1 0 -11.1 0zM1734.9 489.7a5.5 5.5 0 1 0 11.1 0a5.5 5.5 0 1 0 -11.1 0zM1736.5 451.4a5.5 5.5 0 1 0 11.1 0a5.5 5.5 0 1 0 -11.1 0zM1738.1 478.7a5.5 5.5 0 1 0 11.1 0a5.5 5.5 0 1 0 -11.1 0zM1739.7 470.6a5.5 5.5 0 1 0 11.1 0a5.5 5.5 0 1 0 -11.1 0zM1741.3 488.8a5.5 5.5 0 1 0 11.1 0a5.5 5.5 0 1 0 -11.1 0zM1742.9 455.8a5.5 5.5 0 1 0 11.1 0a5.5 5.5 0 1 0 -11.1 0zM1744.5 481a5.5 5.5 0 1 0 11.1 0a5.5 5.5 0 1 0 -11.1 0zM1746.1 470.2a5.5 5.5 0 1 0 11.1 0a5.5 5.5 0 1 0 -11.1 0zM1747.7 491.8a5.5 5.5 0 1 0 11.1 0a5.5 5.5 0 1 0 -11.1 0zM1749.3 455.3a5.5 5.5 0 1 0 11.1 0a5.5 5.5 0 1 0 -11.1 0zM1750.9 481.5a5.5 5.5 0 1 0 11.1 0a5.5 5.5 0 1 0 -11.1 0zM1752.5 472a5.5 5.5 0 1 0 11.1 0a5.5 5.5 0 1 0 -11.1 0zM1754.1 489a5.5 5.5 0 1 0 11.1 0a5.5 5.5 0 1 0 -11.1 0zM1755.7 457.1a5.5 5.5 0 1 0 11.1 0a5.5 5.5 0 1 0 -11.1 0zM1757.3 472.7a5.5 5.5 0 1 0 11.1 0a5.5 5.5 0 1 0 -11.1 0zM1758.9 471.4a5.5 5.5 0 1 0 11.1 0a5.5 5.5 0 1 0 -11.1 0zM1760.5 493a5.5 5.5 0 1 0 11.1 0a5.5 5.5 0 1 0 -11.1 0zM1762.1 456.9a5.5 5.5 0 1 0 11.1 0a5.5 5.5 0 1 0 -11.1 0zM1763.7 479.1a5.5 5.5 0 1 0 11.1 0a5.5 5.5 0 1 0 -11.1 0zM1765.3 471.6a5.5 5.5 0 1 0 11.1 0a5.5 5.5 0 1 0 -11.1 0zM1766.9 493.2a5.5 5.5 0 1 0 11.1 0a5.5 5.5 0 1 0 -11.1 0zM1768.5 454.2a5.5 5.5 0 1 0 11.1 0a5.5 5.5 0 1 0 -11.1 0zM1770.1 485.1a5.5 5.5 0 1 0 11.1 0a5.5 5.5 0 1 0 -11.1 0zM1771.7 467.2a5.5 5.5 0 1 0 11.1 0a5.5 5.5 0 1 0 -11.1 0zM1773.3 491.3a5.5 5.5 0 1 0 11.1 0a5.5 5.5 0 1 0 -11.1 0zM1774.8 458.6a5.5 5.5 0 1 0 11.1 0a5.5 5.5 0 1 0 -11.1 0zM1776.4 475.9a5.5 5.5 0 1 0 11.1 0a5.5 5.5 0 1 0 -11.1 0zM1778 471.3a5.5 5.5 0 1 0 11.1 0a5.5 5.5 0 1 0 -11.1 0zM1779.6 493.4a5.5 5.5 0 1 0 11.1 0a5.5 5.5 0 1 0 -11.1 0zM1781.2 457.6a5.5 5.5 0 1 0 11.1 0a5.5 5.5 0 1 0 -11.1 0zM1782.8 478a5.5 5.5 0 1 0 11.1 0a5.5 5.5 0 1 0 -11.1 0zM1784.4 470.1a5.5 5.5 0 1 0 11.1 0a5.5 5.5 0 1 0 -11.1 0zM1786 490.8a5.5 5.5 0 1 0 11.1 0a5.5 5.5 0 1 0 -11.1 0zM1787.6 451.4a5.5 5.5 0 1 0 11.1 0a5.5 5.5 0 1 0 -11.1 0zM1789.2 477.9a5.5 5.5 0 1 0 11.1 0a5.5 5.5 0 1 0 -11.1 0zM1790.8 467.3a5.5 5.5 0 1 0 11.1 0a5.5 5.5 0 1 0 -11.1 0zM1792.4 489.4a5.5 5.5 0 1 0 11.1 0a5.5 5.5 0 1 0 -11.1 0zM1794 457.4a5.5 5.5 0 1 0 11.1 0a5.5 5.5 0 1 0 -11.1 0zM1795.6 479.9a5.5 5.5 0 1 0 11.1 0a5.5 5.5 0 1 0 -11.1 0zM1797.2 465.2a5.5 5.5 0 1 0 11.1 0a5.5 5.5 0 1 0 -11.1 0zM1798.8 493.2a5.5 5.5 0 1 0 11.1 0a5.5 5.5 0 1 0 -11.1 0zM1800.4 453a5.5 5.5 0 1 0 11.1 0a5.5 5.5 0 1 0 -11.1 0zM1802 478.6a5.5 5.5 0 1 0 11.1 0a5.5 5.5 0 1 0 -11.1 0zM1803.6 471.2a5.5 5.5 0 1 0 11.1 0a5.5 5.5 0 1 0 -11.1 0zM1805.2 489.7a5.5 5.5 0 1 0 11.1 0a5.5 5.5 0 1 0 -11.1 0zM1806.8 453.2a5.5 5.5 0 1 0 11.1 0a5.5 5.5 0 1 0 -11.1 0zM1808.4 482.1a5.5 5.5 0 1 0 11.1 0a5.5 5.5 0 1 0 -11.1 0zM1810 468a5.5 5.5 0 1 0 11.1 0a5.5 5.5 0 1 0 -11.1 0zM1811.6 488.4a5.5 5.5 0 1 0 11.1 0a5.5 5.5 0 1 0 -11.1 0zM1813.2 456.5a5.5 5.5 0 1 0 11.1 0a5.5 5.5 0 1 0 -11.1 0zM1814.8 477.4a5.5 5.5 0 1 0 11.1 0a5.5 5.5 0 1 0 -11.1 0zM1816.4 467.8a5.5 5.5 0 1 0 11.1 0a5.5 5.5 0 1 0 -11.1 0zM1818 490.7a5.5 5.5 0 1 0 11.1 0a5.5 5.5 0 1 0 -11.1 0zM1819.6 454.9a5.5 5.5 0 1 0 11.1 0a5.5 5.5 0 1 0 -11.1 0zM1821.2 481.5a5.5 5.5 0 1 0 11.1 0a5.5 5.5 0 1 0 -11.1 0zM1822.8 471.3a5.5 5.5 0 1 0 11.1 0a5.5 5.5 0 1 0 -11.1 0zM1824.4 493.1a5.5 5.5 0 1 0 11.1 0a5.5 5.5 0 1 0 -11.1 0zM1826 455.4a5.5 5.5 0 1 0 11.1 0a5.5 5.5 0 1 0 -11.1 0zM1827.6 481.7a5.5 5.5 0 1 0 11.1 0a5.5 5.5 0 1 0 -11.1 0zM1829.2 471.3a5.5 5.5 0 1 0 11.1 0a5.5 5.5 0 1 0 -11.1 0zM1830.8 493a5.5 5.5 0 1 0 11.1 0a5.5 5.5 0 1 0 -11.1 0zM1832.4 459a5.5 5.5 0 1 0 11.1 0a5.5 5.5 0 1 0 -11.1 0zM1834 483.7a5.5 5.5 0 1 0 11.1 0a5.5 5.5 0 1 0 -11.1 0zM1835.6 469.1a5.5 5.5 0 1 0 11.1 0a5.5 5.5 0 1 0 -11.1 0zM1837.2 493.2a5.5 5.5 0 1 0 11.1 0a5.5 5.5 0 1 0 -11.1 0zM1838.8 452.8a5.5 5.5 0 1 0 11.1 0a5.5 5.5 0 1 0 -11.1 0zM1840.4 478.1a5.5 5.5 0 1 0 11.1 0a5.5 5.5 0 1 0 -11.1 0zM1842 468.7a5.5 5.5 0 1 0 11.1 0a5.5 5.5 0 1 0 -11.1 0zM1843.6 492.2a5.5 5.5 0 1 0 11.1 0a5.5 5.5 0 1 0 -11.1 0zM1845.2 452.9a5.5 5.5 0 1 0 11.1 0a5.5 5.5 0 1 0 -11.1 0zM1846.8 484.9a5.5 5.5 0 1 0 11.1 0a5.5 5.5 0 1 0 -11.1 0zM1848.4 468.7a5.5 5.5 0 1 0 11.1 0a5.5 5.5 0 1 0 -11.1 0zM1850 487.3a5.5 5.5 0 1 0 11.1 0a5.5 5.5 0 1 0 -11.1 0zM1851.6 456.3a5.5 5.5 0 1 0 11.1 0a5.5 5.5 0 1 0 -11.1 0zM1853.2 482.5a5.5 5.5 0 1 0 11.1 0a5.5 5.5 0 1 0 -11.1 0zM1854.8 470a5.5 5.5 0 1 0 11.1 0a5.5 5.5 0 1 0 -11.1 0zM1856.4 488.8a5.5 5.5 0 1 0 11.1 0a5.5 5.5 0 1 0 -11.1 0zM1858 454.7a5.5 5.5 0 1 0 11.1 0a5.5 5.5 0 1 0 -11.1 0zM1859.6 479.3a5.5 5.5 0 1 0 11.1 0a5.5 5.5 0 1 0 -11.1 0zM1861.2 473.4a5.5 5.5 0 1 0 11.1 0a5.5 5.5 0 1 0 -11.1 0zM1862.8 492.9a5.5 5.5 0 1 0 11.1 0a5.5 5.5 0 1 0 -11.1 0zM1864.4 455.7a5.5 5.5 0 1 0 11.1 0a5.5 5.5 0 1 0 -11.1 0zM1866 484.4a5.5 5.5 0 1 0 11.1 0a5.5 5.5 0 1 0 -11.1 0zM1867.6 470.5a5.5 5.5 0 1 0 11.1 0a5.5 5.5 0 1 0 -11.1 0zM1869.2 486.2a5.5 5.5 0 1 0 11.1 0a5.5 5.5 0 1 0 -11.1 0zM1870.8 458.5a5.5 5.5 0 1 0 11.1 0a5.5 5.5 0 1 0 -11.1 0zM1872.4 477.5a5.5 5.5 0 1 0 11.1 0a5.5 5.5 0 1 0 -11.1 0zM1873.9 473a5.5 5.5 0 1 0 11.1 0a5.5 5.5 0 1 0 -11.1 0zM1875.5 492.2a5.5 5.5 0 1 0 11.1 0a5.5 5.5 0 1 0 -11.1 0zM1877.1 457a5.5 5.5 0 1 0 11.1 0a5.5 5.5 0 1 0 -11.1 0zM1878.7 486a5.5 5.5 0 1 0 11.1 0a5.5 5.5 0 1 0 -11.1 0zM1880.3 471.1a5.5 5.5 0 1 0 11.1 0a5.5 5.5 0 1 0 -11.1 0zM1881.9 489a5.5 5.5 0 1 0 11.1 0a5.5 5.5 0 1 0 -11.1 0zM1883.5 456.6a5.5 5.5 0 1 0 11.1 0a5.5 5.5 0 1 0 -11.1 0zM1885.1 479.8a5.5 5.5 0 1 0 11.1 0a5.5 5.5 0 1 0 -11.1 0zM1886.7 473.6a5.5 5.5 0 1 0 11.1 0a5.5 5.5 0 1 0 -11.1 0zM1888.3 492.7a5.5 5.5 0 1 0 11.1 0a5.5 5.5 0 1 0 -11.1 0zM1889.9 454.8a5.5 5.5 0 1 0 11.1 0a5.5 5.5 0 1 0 -11.1 0zM1891.5 477.3a5.5 5.5 0 1 0 11.1 0a5.5 5.5 0 1 0 -11.1 0zM1893.1 465.8a5.5 5.5 0 1 0 11.1 0a5.5 5.5 0 1 0 -11.1 0zM1894.7 491.8a5.5 5.5 0 1 0 11.1 0a5.5 5.5 0 1 0 -11.1 0zM1896.3 453.3a5.5 5.5 0 1 0 11.1 0a5.5 5.5 0 1 0 -11.1 0zM1897.9 481.2a5.5 5.5 0 1 0 11.1 0a5.5 5.5 0 1 0 -11.1 0zM1899.5 470.5a5.5 5.5 0 1 0 11.1 0a5.5 5.5 0 1 0 -11.1 0zM1901.1 493.1a5.5 5.5 0 1 0 11.1 0a5.5 5.5 0 1 0 -11.1 0zM1902.7 456.1a5.5 5.5 0 1 0 11.1 0a5.5 5.5 0 1 0 -11.1 0zM1904.3 481a5.5 5.5 0 1 0 11.1 0a5.5 5.5 0 1 0 -11.1 0zM1905.9 472.9a5.5 5.5 0 1 0 11.1 0a5.5 5.5 0 1 0 -11.1 0zM1907.5 491.2a5.5 5.5 0 1 0 11.1 0a5.5 5.5 0 1 0 -11.1 0zM1909.1 456.7a5.5 5.5 0 1 0 11.1 0a5.5 5.5 0 1 0 -11.1 0zM1910.7 482.5a5.5 5.5 0 1 0 11.1 0a5.5 5.5 0 1 0 -11.1 0zM1912.3 469a5.5 5.5 0 1 0 11.1 0a5.5 5.5 0 1 0 -11.1 0zM1913.9 493.4a5.5 5.5 0 1 0 11.1 0a5.5 5.5 0 1 0 -11.1 0zM1915.5 454.6a5.5 5.5 0 1 0 11.1 0a5.5 5.5 0 1 0 -11.1 0zM1917.1 480.9a5.5 5.5 0 1 0 11.1 0a5.5 5.5 0 1 0 -11.1 0zM1918.7 469a5.5 5.5 0 1 0 11.1 0a5.5 5.5 0 1 0 -11.1 0zM1920.3 493.4a5.5 5.5 0 1 0 11.1 0a5.5 5.5 0 1 0 -11.1 0zM1921.9 456.7a5.5 5.5 0 1 0 11.1 0a5.5 5.5 0 1 0 -11.1 0zM1923.5 481.4a5.5 5.5 0 1 0 11.1 0a5.5 5.5 0 1 0 -11.1 0zM1925.1 468.6a5.5 5.5 0 1 0 11.1 0a5.5 5.5 0 1 0 -11.1 0zM1926.7 493.4a5.5 5.5 0 1 0 11.1 0a5.5 5.5 0 1 0 -11.1 0zM1928.3 454.7a5.5 5.5 0 1 0 11.1 0a5.5 5.5 0 1 0 -11.1 0zM1929.9 484.6a5.5 5.5 0 1 0 11.1 0a5.5 5.5 0 1 0 -11.1 0zM1931.5 467.7a5.5 5.5 0 1 0 11.1 0a5.5 5.5 0 1 0 -11.1 0zM1933.1 490.4a5.5 5.5 0 1 0 11.1 0a5.5 5.5 0 1 0 -11.1 0zM1934.7 458.9a5.5 5.5 0 1 0 11.1 0a5.5 5.5 0 1 0 -11.1 0zM1936.3 475.1a5.5 5.5 0 1 0 11.1 0a5.5 5.5 0 1 0 -11.1 0zM1937.9 474.6a5.5 5.5 0 1 0 11.1 0a5.5 5.5 0 1 0 -11.1 0zM1939.5 492.8a5.5 5.5 0 1 0 11.1 0a5.5 5.5 0 1 0 -11.1 0zM1941.1 455.7a5.5 5.5 0 1 0 11.1 0a5.5 5.5 0 1 0 -11.1 0zM1942.7 478.6a5.5 5.5 0 1 0 11.1 0a5.5 5.5 0 1 0 -11.1 0zM1944.3 469.4a5.5 5.5 0 1 0 11.1 0a5.5 5.5 0 1 0 -11.1 0zM1945.9 489.1a5.5 5.5 0 1 0 11.1 0a5.5 5.5 0 1 0 -11.1 0zM1947.5 456.1a5.5 5.5 0 1 0 11.1 0a5.5 5.5 0 1 0 -11.1 0zM1949.1 481.1a5.5 5.5 0 1 0 11.1 0a5.5 5.5 0 1 0 -11.1 0zM1950.7 473a5.5 5.5 0 1 0 11.1 0a5.5 5.5 0 1 0 -11.1 0zM1952.3 492.2a5.5 5.5 0 1 0 11.1 0a5.5 5.5 0 1 0 -11.1 0zM1953.9 455.4a5.5 5.5 0 1 0 11.1 0a5.5 5.5 0 1 0 -11.1 0zM1955.5 484.9a5.5 5.5 0 1 0 11.1 0a5.5 5.5 0 1 0 -11.1 0zM1957.1 470.5a5.5 5.5 0 1 0 11.1 0a5.5 5.5 0 1 0 -11.1 0zM1958.7 493.4a5.5 5.5 0 1 0 11.1 0a5.5 5.5 0 1 0 -11.1 0zM1960.3 458.8a5.5 5.5 0 1 0 11.1 0a5.5 5.5 0 1 0 -11.1 0zM1961.9 487.2a5.5 5.5 0 1 0 11.1 0a5.5 5.5 0 1 0 -11.1 0zM1963.5 468.7a5.5 5.5 0 1 0 11.1 0a5.5 5.5 0 1 0 -11.1 0zM1965.1 493.4a5.5 5.5 0 1 0 11.1 0a5.5 5.5 0 1 0 -11.1 0zM1966.7 457.2a5.5 5.5 0 1 0 11.1 0a5.5 5.5 0 1 0 -11.1 0zM1968.3 478.9a5.5 5.5 0 1 0 11.1 0a5.5 5.5 0 1 0 -11.1 0zM1969.9 469.4a5.5 5.5 0 1 0 11.1 0a5.5 5.5 0 1 0 -11.1 0zM1971.5 490a5.5 5.5 0 1 0 11.1 0a5.5 5.5 0 1 0 -11.1 0zM1973.1 456a5.5 5.5 0 1 0 11.1 0a5.5 5.5 0 1 0 -11.1 0zM1974.6 480.5a5.5 5.5 0 1 0 11.1 0a5.5 5.5 0 1 0 -11.1 0zM1976.2 469.7a5.5 5.5 0 1 0 11.1 0a5.5 5.5 0 1 0 -11.1 0zM1977.8 492.5a5.5 5.5 0 1 0 11.1 0a5.5 5.5 0 1 0 -11.1 0zM1979.4 457.8a5.5 5.5 0 1 0 11.1 0a5.5 5.5 0 1 0 -11.1 0zM1981 487.7a5.5 5.5 0 1 0 11.1 0a5.5 5.5 0 1 0 -11.1 0zM1982.6 471.3a5.5 5.5 0 1 0 11.1 0a5.5 5.5 0 1 0 -11.1 0zM1984.2 489.9a5.5 5.5 0 1 0 11.1 0a5.5 5.5 0 1 0 -11.1 0zM1985.8 459.8a5.5 5.5 0 1 0 11.1 0a5.5 5.5 0 1 0 -11.1 0zM1987.4 486.7a5.5 5.5 0 1 0 11.1 0a5.5 5.5 0 1 0 -11.1 0zM1989 472.4a5.5 5.5 0 1 0 11.1 0a5.5 5.5 0 1 0 -11.1 0zM1990.6 495.8a5.5 5.5 0 1 0 11.1 0a5.5 5.5 0 1 0 -11.1 0z"/>
<g fill="#000">
<text transform="translate(150.9 541.7) scale(1.000 1)" font-family="'Liberation Sans',Arial,Helvetica,sans-serif" font-size="38.6" text-anchor="middle">0</text><text transform="translate(304.9 541.7) scale(1.000 1)" font-family="'Liberation Sans',Arial,Helvetica,sans-serif" font-size="38.6" text-anchor="middle">100</text><text transform="translate(461 541.7) scale(1.000 1)" font-family="'Liberation Sans',Arial,Helvetica,sans-serif" font-size="38.6" text-anchor="middle">200</text><text transform="translate(617.2 541.7) scale(1.000 1)" font-family="'Liberation Sans',Arial,Helvetica,sans-serif" font-size="38.6" text-anchor="middle">300</text><text transform="translate(773.3 541.7) scale(1.000 1)" font-family="'Liberation Sans',Arial,Helvetica,sans-serif" font-size="38.6" text-anchor="middle">400</text><text transform="translate(929.5 541.7) scale(1.000 1)" font-family="'Liberation Sans',Arial,Helvetica,sans-serif" font-size="38.6" text-anchor="middle">500</text><text transform="translate(140 508.7) scale(1.000 1)" font-family="'Liberation Sans',Arial,Helvetica,sans-serif" font-size="38.6" text-anchor="end">0</text><text transform="translate(133 351.8) scale(1.000 1)" font-family="'Liberation Sans',Arial,Helvetica,sans-serif" font-size="38.6" text-anchor="end">0.02</text><text transform="translate(133 194.9) scale(1.000 1)" font-family="'Liberation Sans',Arial,Helvetica,sans-serif" font-size="38.6" text-anchor="end">0.04</text><text transform="translate(133 38) scale(1.000 1)" font-family="'Liberation Sans',Arial,Helvetica,sans-serif" font-size="38.6" text-anchor="end">0.06</text>
<text transform="translate(1181.3 546) scale(1.000 1)" font-family="'Liberation Sans',Arial,Helvetica,sans-serif" font-size="38.6" text-anchor="middle">0</text><text transform="translate(1338.5 546) scale(1.000 1)" font-family="'Liberation Sans',Arial,Helvetica,sans-serif" font-size="38.6" text-anchor="middle">100</text><text transform="translate(1497.9 546) scale(1.000 1)" font-family="'Liberation Sans',Arial,Helvetica,sans-serif" font-size="38.6" text-anchor="middle">200</text><text transform="translate(1657.4 546) scale(1.000 1)" font-family="'Liberation Sans',Arial,Helvetica,sans-serif" font-size="38.6" text-anchor="middle">300</text><text transform="translate(1816.8 546) scale(1.000 1)" font-family="'Liberation Sans',Arial,Helvetica,sans-serif" font-size="38.6" text-anchor="middle">400</text><text transform="translate(1976.2 546) scale(1.000 1)" font-family="'Liberation Sans',Arial,Helvetica,sans-serif" font-size="38.6" text-anchor="middle">500</text><text transform="translate(1170.4 512.6) scale(1.000 1)" font-family="'Liberation Sans',Arial,Helvetica,sans-serif" font-size="38.6" text-anchor="end">0</text><text transform="translate(1163.4 353.1) scale(1.000 1)" font-family="'Liberation Sans',Arial,Helvetica,sans-serif" font-size="38.6" text-anchor="end">0.02</text><text transform="translate(1163.4 193.7) scale(1.000 1)" font-family="'Liberation Sans',Arial,Helvetica,sans-serif" font-size="38.6" text-anchor="end">0.04</text><text transform="translate(1163.4 34.2) scale(1.000 1)" font-family="'Liberation Sans',Arial,Helvetica,sans-serif" font-size="38.6" text-anchor="end">0.06</text>
<text transform="translate(526.3 595.7) scale(1.071 1)" font-family="'Liberation Sans',Arial,Helvetica,sans-serif" font-size="39.5" text-anchor="middle">configuration number, n</text>
<text transform="translate(1565.5 600.9) scale(1.071 1)" font-family="'Liberation Sans',Arial,Helvetica,sans-serif" font-size="39.5" text-anchor="middle">configuration number, n</text>
<text transform="translate(0.8 627) scale(0.990 1)" font-family="'Liberation Sans',Arial,Helvetica,sans-serif" font-size="46.3" text-anchor="start">(a)</text>
<text transform="translate(1026.5 622.8) scale(0.990 1)" font-family="'Liberation Sans',Arial,Helvetica,sans-serif" font-size="46.3" text-anchor="start">(b)</text>
</g>
<g font-family="'Liberation Serif','Times New Roman',serif" fill="#000" transform="translate(45.2 371.2) rotate(-90)"><text transform="translate(-4.3 0) scale(1.000 1)" font-size="43.2">|</text><text transform="translate(7.1 0) scale(1.050 1)" font-size="43.8" font-weight="bold">R</text><text transform="translate(43.7 0) scale(0.930 1)" font-size="44.6">(</text><text transform="translate(56.8 0) scale(0.830 1)" font-size="44.6" font-style="italic">t</text><text transform="translate(74.9 0) scale(0.930 1)" font-size="44.6">)</text><text transform="translate(100.6 0) scale(1.620 1)" font-size="32">−</text><text transform="translate(141.5 0) scale(1.050 1)" font-size="43.8" font-weight="bold">R</text><text transform="translate(178.2 5) scale(1.245 1)" font-size="28.3" font-style="italic">n</text><text transform="translate(178 -21.6) scale(1.000 1)" font-size="32.9">(</text><text transform="translate(188 -21.7) scale(1.100 1)" font-size="29.2">9</text><text transform="translate(203.6 -21.6) scale(1.000 1)" font-size="32.9">)</text><text transform="translate(219 0) scale(1.000 1)" font-size="43.2">|</text></g>
<g font-family="'Liberation Serif','Times New Roman',serif" fill="#000" transform="translate(1074 371.2) rotate(-90)"><text transform="translate(-4.3 0) scale(1.000 1)" font-size="43.2">|</text><text transform="translate(7.1 0) scale(1.050 1)" font-size="43.8" font-weight="bold">R</text><text transform="translate(43.7 0) scale(0.930 1)" font-size="44.6">(</text><text transform="translate(56.8 0) scale(0.830 1)" font-size="44.6" font-style="italic">t</text><text transform="translate(74.9 0) scale(0.930 1)" font-size="44.6">)</text><text transform="translate(100.6 0) scale(1.620 1)" font-size="32">−</text><text transform="translate(141.5 0) scale(1.050 1)" font-size="43.8" font-weight="bold">R</text><text transform="translate(178.2 5) scale(1.245 1)" font-size="28.3" font-style="italic">n</text><text transform="translate(178 -21.6) scale(1.000 1)" font-size="32.9">(</text><text transform="translate(188 -21.7) scale(1.100 1)" font-size="29.2">9</text><text transform="translate(203.6 -21.6) scale(1.000 1)" font-size="32.9">)</text><text transform="translate(219 0) scale(1.000 1)" font-size="43.2">|</text></g></svg>
</body></html>
